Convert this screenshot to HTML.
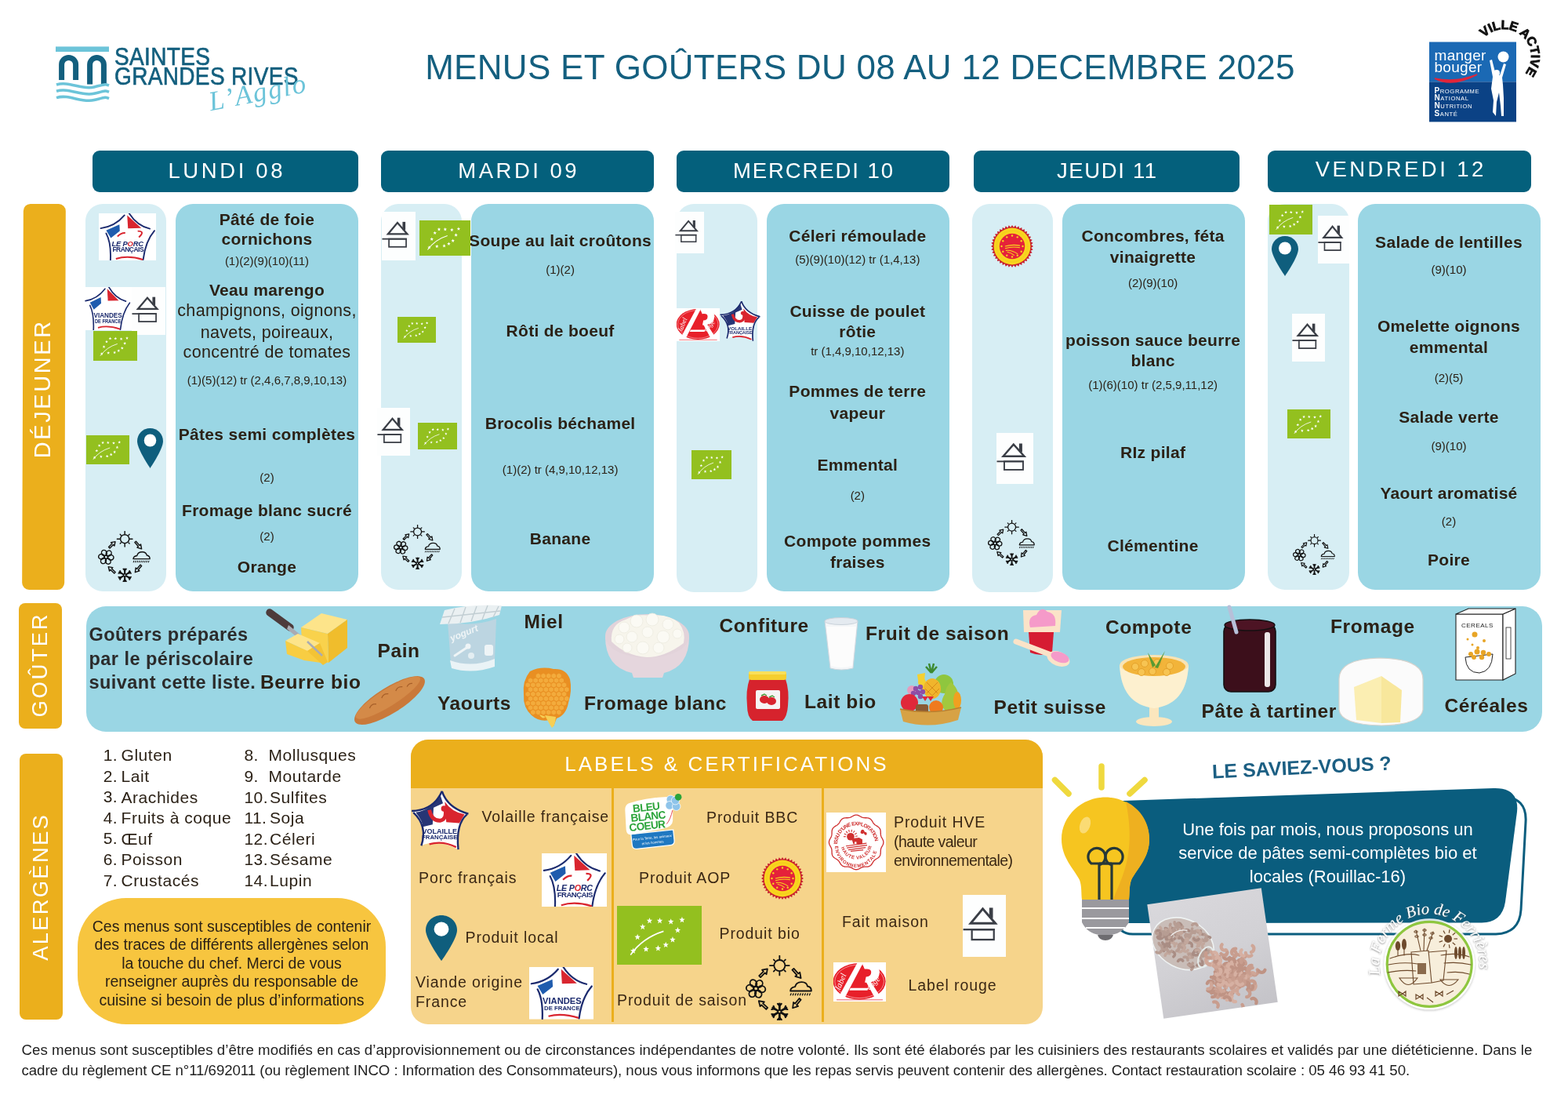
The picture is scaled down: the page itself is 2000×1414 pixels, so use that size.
<!DOCTYPE html><html><head><meta charset="utf-8"><title>Menus et goûters du 08 au 12 décembre 2025</title>
<style>
html,body{margin:0;padding:0;background:#fff;overflow:hidden;}
body{width:2000px;height:1414px;position:relative;overflow:hidden;font-family:'Liberation Sans', Arial, sans-serif;color:#2b2116;}
div{box-sizing:border-box;}
</style></head><body><div class="sheet" style="position:relative;width:2000px;height:1414px;overflow:hidden;">
<div style="position:absolute;left:497px;top:61px;width:1200px;height:50px;line-height:50px;white-space:nowrap;text-align:center;font-size:44px;color:#145f7f;letter-spacing:0.3px;">MENUS ET GOÛTERS DU 08 AU 12 DECEMBRE 2025</div>
<div style="position:absolute;left:118px;top:192px;width:339px;height:53px;background:#04607c;border-radius:9px;"></div>
<div style="position:absolute;left:-12.5px;top:199.3px;width:600px;height:38.5px;line-height:38.5px;text-align:center;white-space:nowrap;font-size:27.5px;font-weight:400;color:#fff;letter-spacing:3.63px;padding-left:3.63px;">LUNDI 08</div>
<div style="position:absolute;left:486px;top:192px;width:348px;height:53px;background:#04607c;border-radius:9px;"></div>
<div style="position:absolute;left:360.0px;top:199.3px;width:600px;height:38.5px;line-height:38.5px;text-align:center;white-space:nowrap;font-size:27.5px;font-weight:400;color:#fff;letter-spacing:3.5px;padding-left:3.5px;">MARDI 09</div>
<div style="position:absolute;left:863px;top:192px;width:348px;height:53px;background:#04607c;border-radius:9px;"></div>
<div style="position:absolute;left:737.0px;top:199.3px;width:600px;height:38.5px;line-height:38.5px;text-align:center;white-space:nowrap;font-size:27.5px;font-weight:400;color:#fff;letter-spacing:1.9px;padding-left:1.9px;">MERCREDI 10</div>
<div style="position:absolute;left:1242px;top:192px;width:339px;height:53px;background:#04607c;border-radius:9px;"></div>
<div style="position:absolute;left:1111.5px;top:199.3px;width:600px;height:38.5px;line-height:38.5px;text-align:center;white-space:nowrap;font-size:27.5px;font-weight:400;color:#fff;letter-spacing:1.65px;padding-left:1.65px;">JEUDI 11</div>
<div style="position:absolute;left:1617px;top:192px;width:336px;height:53px;background:#04607c;border-radius:9px;"></div>
<div style="position:absolute;left:1485.0px;top:196.9px;width:600px;height:38.5px;line-height:38.5px;text-align:center;white-space:nowrap;font-size:27.5px;font-weight:400;color:#fff;letter-spacing:3.43px;padding-left:3.43px;">VENDREDI 12</div>
<div style="position:absolute;left:29px;top:260px;width:54px;height:492px;background:#ebaf1c;border-radius:9px;transform:rotate(0.2deg);"></div>
<div style="position:absolute;left:54px;top:497px;width:0;height:0;"><div style="position:absolute;transform:translate(-50%,-50%) rotate(-90deg);white-space:nowrap;font-size:29px;color:#fff;letter-spacing:2.6px;padding-left:2.6px;">DÉJEUNER</div></div>
<div style="position:absolute;left:24px;top:769px;width:55px;height:160px;background:#ebaf1c;border-radius:8px;"></div>
<div style="position:absolute;left:51px;top:849px;width:0;height:0;"><div style="position:absolute;transform:translate(-50%,-50%) rotate(-90deg);white-space:nowrap;font-size:27.5px;color:#fff;letter-spacing:2.7px;padding-left:2.7px;">GOÛTER</div></div>
<div style="position:absolute;left:25px;top:961px;width:55px;height:339px;background:#ebaf1c;border-radius:8px;"></div>
<div style="position:absolute;left:52px;top:1132px;width:0;height:0;"><div style="position:absolute;transform:translate(-50%,-50%) rotate(-90deg);white-space:nowrap;font-size:27.5px;color:#fff;letter-spacing:2.2px;padding-left:2.2px;">ALERGÈNES</div></div>
<div style="position:absolute;left:109px;top:260px;width:103px;height:494px;background:#d7eef4;border-radius:22px;"></div>
<div style="position:absolute;left:486px;top:260px;width:103px;height:492px;background:#d7eef4;border-radius:22px;"></div>
<div style="position:absolute;left:863px;top:260px;width:103px;height:495px;background:#d7eef4;border-radius:22px;"></div>
<div style="position:absolute;left:1240px;top:260px;width:103px;height:495px;background:#d7eef4;border-radius:22px;"></div>
<div style="position:absolute;left:1617px;top:260px;width:104px;height:492px;background:#d7eef4;border-radius:22px;"></div>
<div style="position:absolute;left:224px;top:260px;width:233px;height:494px;background:#9ad6e4;border-radius:22px;"></div>
<div style="position:absolute;left:601px;top:260px;width:233px;height:494px;background:#9ad6e4;border-radius:22px;"></div>
<div style="position:absolute;left:978px;top:260px;width:233px;height:494px;background:#9ad6e4;border-radius:22px;"></div>
<div style="position:absolute;left:1355px;top:260px;width:233px;height:492px;background:#9ad6e4;border-radius:22px;"></div>
<div style="position:absolute;left:1732px;top:260px;width:233px;height:492px;background:#9ad6e4;border-radius:22px;"></div>
<div style="position:absolute;left:40.5px;top:264.9px;width:600px;height:29.4px;line-height:29.4px;text-align:center;white-space:nowrap;font-size:21px;font-weight:700;color:#2b2116;letter-spacing:0.3px;">Pâté de foie</div>
<div style="position:absolute;left:40.5px;top:290.1px;width:600px;height:29.4px;line-height:29.4px;text-align:center;white-space:nowrap;font-size:21px;font-weight:700;color:#2b2116;letter-spacing:0.3px;">cornichons</div>
<div style="position:absolute;left:40.5px;top:321.9px;width:600px;height:21.0px;line-height:21.0px;text-align:center;white-space:nowrap;font-size:15px;font-weight:400;color:#2b2116;letter-spacing:0px;">(1)(2)(9)(10)(11)</div>
<div style="position:absolute;left:40.5px;top:354.9px;width:600px;height:29.4px;line-height:29.4px;text-align:center;white-space:nowrap;font-size:21px;font-weight:700;color:#2b2116;letter-spacing:0.3px;">Veau marengo</div>
<div style="position:absolute;left:40.5px;top:380.9px;width:600px;height:30.1px;line-height:30.1px;text-align:center;white-space:nowrap;font-size:21.5px;font-weight:400;color:#2b2116;letter-spacing:0.35px;">champignons, oignons,</div>
<div style="position:absolute;left:40.5px;top:408.6px;width:600px;height:30.1px;line-height:30.1px;text-align:center;white-space:nowrap;font-size:21.5px;font-weight:400;color:#2b2116;letter-spacing:0.35px;">navets, poireaux,</div>
<div style="position:absolute;left:40.5px;top:433.8px;width:600px;height:30.1px;line-height:30.1px;text-align:center;white-space:nowrap;font-size:21.5px;font-weight:400;color:#2b2116;letter-spacing:0.35px;">concentré de tomates</div>
<div style="position:absolute;left:40.5px;top:474.3px;width:600px;height:21.0px;line-height:21.0px;text-align:center;white-space:nowrap;font-size:15px;font-weight:400;color:#2b2116;letter-spacing:0px;">(1)(5)(12) tr (2,4,6,7,8,9,10,13)</div>
<div style="position:absolute;left:40.5px;top:538.5px;width:600px;height:29.4px;line-height:29.4px;text-align:center;white-space:nowrap;font-size:21px;font-weight:700;color:#2b2116;letter-spacing:0.3px;">Pâtes semi complètes</div>
<div style="position:absolute;left:40.5px;top:597.9px;width:600px;height:21.0px;line-height:21.0px;text-align:center;white-space:nowrap;font-size:15px;font-weight:400;color:#2b2116;letter-spacing:0px;">(2)</div>
<div style="position:absolute;left:40.5px;top:636.2px;width:600px;height:29.4px;line-height:29.4px;text-align:center;white-space:nowrap;font-size:21px;font-weight:700;color:#2b2116;letter-spacing:0.3px;">Fromage blanc sucré</div>
<div style="position:absolute;left:40.5px;top:673.0px;width:600px;height:21.0px;line-height:21.0px;text-align:center;white-space:nowrap;font-size:15px;font-weight:400;color:#2b2116;letter-spacing:0px;">(2)</div>
<div style="position:absolute;left:40.5px;top:707.7px;width:600px;height:29.4px;line-height:29.4px;text-align:center;white-space:nowrap;font-size:21px;font-weight:700;color:#2b2116;letter-spacing:0.3px;">Orange</div>
<div style="position:absolute;left:414.6px;top:291.6px;width:600px;height:29.4px;line-height:29.4px;text-align:center;white-space:nowrap;font-size:21px;font-weight:700;color:#2b2116;letter-spacing:0.3px;">Soupe au lait croûtons</div>
<div style="position:absolute;left:414.6px;top:332.9px;width:600px;height:21.0px;line-height:21.0px;text-align:center;white-space:nowrap;font-size:15px;font-weight:400;color:#2b2116;letter-spacing:0px;">(1)(2)</div>
<div style="position:absolute;left:414.6px;top:407.3px;width:600px;height:29.4px;line-height:29.4px;text-align:center;white-space:nowrap;font-size:21px;font-weight:700;color:#2b2116;letter-spacing:0.3px;">Rôti de boeuf</div>
<div style="position:absolute;left:414.6px;top:525.0px;width:600px;height:29.4px;line-height:29.4px;text-align:center;white-space:nowrap;font-size:21px;font-weight:700;color:#2b2116;letter-spacing:0.3px;">Brocolis béchamel</div>
<div style="position:absolute;left:414.6px;top:588.3px;width:600px;height:21.0px;line-height:21.0px;text-align:center;white-space:nowrap;font-size:15px;font-weight:400;color:#2b2116;letter-spacing:0px;">(1)(2) tr (4,9,10,12,13)</div>
<div style="position:absolute;left:414.6px;top:671.8px;width:600px;height:29.4px;line-height:29.4px;text-align:center;white-space:nowrap;font-size:21px;font-weight:700;color:#2b2116;letter-spacing:0.3px;">Banane</div>
<div style="position:absolute;left:793.8px;top:285.6px;width:600px;height:29.4px;line-height:29.4px;text-align:center;white-space:nowrap;font-size:21px;font-weight:700;color:#2b2116;letter-spacing:0.3px;">Céleri rémoulade</div>
<div style="position:absolute;left:793.8px;top:319.8px;width:600px;height:21.0px;line-height:21.0px;text-align:center;white-space:nowrap;font-size:15px;font-weight:400;color:#2b2116;letter-spacing:0px;">(5)(9)(10)(12) tr (1,4,13)</div>
<div style="position:absolute;left:793.8px;top:381.8px;width:600px;height:29.4px;line-height:29.4px;text-align:center;white-space:nowrap;font-size:21px;font-weight:700;color:#2b2116;letter-spacing:0.3px;">Cuisse de poulet</div>
<div style="position:absolute;left:793.8px;top:408.3px;width:600px;height:29.4px;line-height:29.4px;text-align:center;white-space:nowrap;font-size:21px;font-weight:700;color:#2b2116;letter-spacing:0.3px;">rôtie</div>
<div style="position:absolute;left:793.8px;top:437.3px;width:600px;height:21.0px;line-height:21.0px;text-align:center;white-space:nowrap;font-size:15px;font-weight:400;color:#2b2116;letter-spacing:0px;">tr (1,4,9,10,12,13)</div>
<div style="position:absolute;left:793.8px;top:484.3px;width:600px;height:29.4px;line-height:29.4px;text-align:center;white-space:nowrap;font-size:21px;font-weight:700;color:#2b2116;letter-spacing:0.3px;">Pommes de terre</div>
<div style="position:absolute;left:793.8px;top:511.9px;width:600px;height:29.4px;line-height:29.4px;text-align:center;white-space:nowrap;font-size:21px;font-weight:700;color:#2b2116;letter-spacing:0.3px;">vapeur</div>
<div style="position:absolute;left:793.8px;top:578.1px;width:600px;height:29.4px;line-height:29.4px;text-align:center;white-space:nowrap;font-size:21px;font-weight:700;color:#2b2116;letter-spacing:0.3px;">Emmental</div>
<div style="position:absolute;left:793.8px;top:621.2px;width:600px;height:21.0px;line-height:21.0px;text-align:center;white-space:nowrap;font-size:15px;font-weight:400;color:#2b2116;letter-spacing:0px;">(2)</div>
<div style="position:absolute;left:793.8px;top:674.6px;width:600px;height:29.4px;line-height:29.4px;text-align:center;white-space:nowrap;font-size:21px;font-weight:700;color:#2b2116;letter-spacing:0.3px;">Compote pommes</div>
<div style="position:absolute;left:793.8px;top:701.9px;width:600px;height:29.4px;line-height:29.4px;text-align:center;white-space:nowrap;font-size:21px;font-weight:700;color:#2b2116;letter-spacing:0.3px;">fraises</div>
<div style="position:absolute;left:1170.6px;top:285.6px;width:600px;height:29.4px;line-height:29.4px;text-align:center;white-space:nowrap;font-size:21px;font-weight:700;color:#2b2116;letter-spacing:0.3px;">Concombres, féta</div>
<div style="position:absolute;left:1170.6px;top:312.8px;width:600px;height:29.4px;line-height:29.4px;text-align:center;white-space:nowrap;font-size:21px;font-weight:700;color:#2b2116;letter-spacing:0.3px;">vinaigrette</div>
<div style="position:absolute;left:1170.6px;top:349.9px;width:600px;height:21.0px;line-height:21.0px;text-align:center;white-space:nowrap;font-size:15px;font-weight:400;color:#2b2116;letter-spacing:0px;">(2)(9)(10)</div>
<div style="position:absolute;left:1170.6px;top:418.9px;width:600px;height:29.4px;line-height:29.4px;text-align:center;white-space:nowrap;font-size:21px;font-weight:700;color:#2b2116;letter-spacing:0.3px;">poisson sauce beurre</div>
<div style="position:absolute;left:1170.6px;top:445.4px;width:600px;height:29.4px;line-height:29.4px;text-align:center;white-space:nowrap;font-size:21px;font-weight:700;color:#2b2116;letter-spacing:0.3px;">blanc</div>
<div style="position:absolute;left:1170.6px;top:479.7px;width:600px;height:21.0px;line-height:21.0px;text-align:center;white-space:nowrap;font-size:15px;font-weight:400;color:#2b2116;letter-spacing:0px;">(1)(6)(10) tr (2,5,9,11,12)</div>
<div style="position:absolute;left:1170.6px;top:562.2px;width:600px;height:29.4px;line-height:29.4px;text-align:center;white-space:nowrap;font-size:21px;font-weight:700;color:#2b2116;letter-spacing:0.3px;">RIz pilaf</div>
<div style="position:absolute;left:1170.6px;top:680.7px;width:600px;height:29.4px;line-height:29.4px;text-align:center;white-space:nowrap;font-size:21px;font-weight:700;color:#2b2116;letter-spacing:0.3px;">Clémentine</div>
<div style="position:absolute;left:1548.0px;top:294.1px;width:600px;height:29.4px;line-height:29.4px;text-align:center;white-space:nowrap;font-size:21px;font-weight:700;color:#2b2116;letter-spacing:0.3px;">Salade de lentilles</div>
<div style="position:absolute;left:1548.0px;top:332.9px;width:600px;height:21.0px;line-height:21.0px;text-align:center;white-space:nowrap;font-size:15px;font-weight:400;color:#2b2116;letter-spacing:0px;">(9)(10)</div>
<div style="position:absolute;left:1548.0px;top:401.2px;width:600px;height:29.4px;line-height:29.4px;text-align:center;white-space:nowrap;font-size:21px;font-weight:700;color:#2b2116;letter-spacing:0.3px;">Omelette oignons</div>
<div style="position:absolute;left:1548.0px;top:427.8px;width:600px;height:29.4px;line-height:29.4px;text-align:center;white-space:nowrap;font-size:21px;font-weight:700;color:#2b2116;letter-spacing:0.3px;">emmental</div>
<div style="position:absolute;left:1548.0px;top:470.9px;width:600px;height:21.0px;line-height:21.0px;text-align:center;white-space:nowrap;font-size:15px;font-weight:400;color:#2b2116;letter-spacing:0px;">(2)(5)</div>
<div style="position:absolute;left:1548.0px;top:517.3px;width:600px;height:29.4px;line-height:29.4px;text-align:center;white-space:nowrap;font-size:21px;font-weight:700;color:#2b2116;letter-spacing:0.3px;">Salade verte</div>
<div style="position:absolute;left:1548.0px;top:557.5px;width:600px;height:21.0px;line-height:21.0px;text-align:center;white-space:nowrap;font-size:15px;font-weight:400;color:#2b2116;letter-spacing:0px;">(9)(10)</div>
<div style="position:absolute;left:1548.0px;top:614.2px;width:600px;height:29.4px;line-height:29.4px;text-align:center;white-space:nowrap;font-size:21px;font-weight:700;color:#2b2116;letter-spacing:0.3px;">Yaourt aromatisé</div>
<div style="position:absolute;left:1548.0px;top:654.1px;width:600px;height:21.0px;line-height:21.0px;text-align:center;white-space:nowrap;font-size:15px;font-weight:400;color:#2b2116;letter-spacing:0px;">(2)</div>
<div style="position:absolute;left:1548.0px;top:699.4px;width:600px;height:29.4px;line-height:29.4px;text-align:center;white-space:nowrap;font-size:21px;font-weight:700;color:#2b2116;letter-spacing:0.3px;">Poire</div>
<svg style="position:absolute;left:126px;top:271.5px" width="73" height="60" viewBox="100 100 1470 1220" preserveAspectRatio="none"><rect x="100" y="100" width="1470" height="1220" fill="#fff"/><g fill="none" stroke="#1b2a6e" stroke-width="38" stroke-linecap="round"><path d="M150 490 Q520 440 760 150"/><path d="M880 100 Q1080 420 1410 500"/><path d="M1530 550 Q1300 820 1240 1300"/><path d="M290 620 Q420 860 400 1310"/></g><path d="M290 540 L630 390 L640 560 L410 740 Z" fill="#1f5cae"/><path d="M830 150 L1190 480 L850 490 Z" fill="#d9252f"/><path d="M580 700 Q680 600 780 610 M1100 560 Q1300 560 1130 720" stroke="#d9252f" stroke-width="40" fill="none"/><text x="840" y="950" text-anchor="middle" font-family="Liberation Sans" font-weight="700" font-style="italic" font-size="190" fill="#1b2a6e" letter-spacing="-4">LE P<tspan fill="#d9252f">O</tspan>RC</text><text x="850" y="1090" text-anchor="middle" font-family="Liberation Sans" font-weight="700" font-size="170" fill="#1b2a6e" letter-spacing="-10">FRANÇAIS</text><path d="M540 1280 Q850 1180 1230 1300" stroke="#d9252f" stroke-width="40" fill="none"/></svg>
<div style="position:absolute;left:107px;top:366px;width:104px;height:55px;background:#fff;"></div>
<svg style="position:absolute;left:107px;top:366px" width="60" height="55" viewBox="100 100 1470 1220" preserveAspectRatio="none"><rect x="100" y="100" width="1470" height="1220" fill="#fff"/><g fill="none" stroke="#1b2a6e" stroke-width="40" stroke-linecap="round"><path d="M150 490 Q520 440 760 150"/><path d="M880 100 Q1080 420 1410 500"/><path d="M1530 550 Q1300 820 1240 1300"/><path d="M290 620 Q420 860 400 1310"/></g><path d="M290 540 L630 390 L640 560 L410 740 Z" fill="#1f5cae"/><path d="M830 150 L1190 480 L850 490 Z" fill="#d9252f"/><text x="850" y="960" text-anchor="middle" font-family="Liberation Sans" font-weight="700" font-size="200" fill="#1b2a6e">VIANDES</text><text x="850" y="1110" text-anchor="middle" font-family="Liberation Sans" font-weight="700" font-size="140" fill="#1b2a6e">DE FRANCE</text><path d="M540 1250 Q850 1170 1230 1290" stroke="#d9252f" stroke-width="40" fill="none"/></svg>
<svg style="position:absolute;left:168px;top:366px" width="43" height="61" viewBox="0 0 47 65" preserveAspectRatio="none"><rect width="47" height="65" fill="#fdfefe"/><path d="M21.8 14.6 L8.6 29.8 L35.5 29.8 Z" fill="none" stroke="#3a3e46" stroke-width="2.4" stroke-linejoin="miter"/><rect x="28.9" y="13.5" width="4" height="11" fill="#3a3e46"/><rect x="0.5" y="35.4" width="34.4" height="1.9" fill="#3a3e46"/><rect x="9.95" y="36.35" width="24" height="10.6" fill="none" stroke="#3a3e46" stroke-width="1.9"/></svg>
<svg style="position:absolute;left:119px;top:422px" width="56" height="38" viewBox="0 0 100 66" preserveAspectRatio="none"><rect width="100" height="66" fill="#93c01f"/><polygon points="38.40,13.20 39.29,15.58 41.82,15.69 39.84,17.27 40.52,19.71 38.40,18.31 36.28,19.71 36.96,17.27 34.98,15.69 37.51,15.58" fill="#fff"/><polygon points="50.50,13.20 51.39,15.58 53.92,15.69 51.94,17.27 52.62,19.71 50.50,18.31 48.38,19.71 49.06,17.27 47.08,15.69 49.61,15.58" fill="#fff"/><polygon points="63.60,14.20 64.49,16.58 67.02,16.69 65.04,18.27 65.72,20.71 63.60,19.31 61.48,20.71 62.16,18.27 60.18,16.69 62.71,16.58" fill="#fff"/><polygon points="76.80,12.20 77.69,14.58 80.22,14.69 78.24,16.27 78.92,18.71 76.80,17.31 74.68,18.71 75.36,16.27 73.38,14.69 75.91,14.58" fill="#fff"/><polygon points="71.70,23.80 72.59,26.18 75.12,26.29 73.14,27.87 73.82,30.31 71.70,28.91 69.58,30.31 70.26,27.87 68.28,26.29 70.81,26.18" fill="#fff"/><polygon points="65.70,34.40 66.59,36.78 69.12,36.89 67.14,38.47 67.82,40.91 65.70,39.51 63.58,40.91 64.26,38.47 62.28,36.89 64.81,36.78" fill="#fff"/><polygon points="57.60,40.20 58.49,42.58 61.02,42.69 59.04,44.27 59.72,46.71 57.60,45.31 55.48,46.71 56.16,44.27 54.18,42.69 56.71,42.58" fill="#fff"/><polygon points="48.50,44.10 49.39,46.48 51.92,46.59 49.94,48.17 50.62,50.61 48.50,49.21 46.38,50.61 47.06,48.17 45.08,46.59 47.61,46.48" fill="#fff"/><polygon points="34.30,45.00 35.19,47.38 37.72,47.49 35.74,49.07 36.42,51.51 34.30,50.11 32.18,51.51 32.86,49.07 30.88,47.49 33.41,47.38" fill="#fff"/><polygon points="19.20,47.00 20.09,49.38 22.62,49.49 20.64,51.07 21.32,53.51 19.20,52.11 17.08,53.51 17.76,51.07 15.78,49.49 18.31,49.38" fill="#fff"/><polygon points="24.20,31.50 25.09,33.88 27.62,33.99 25.64,35.57 26.32,38.01 24.20,36.61 22.08,38.01 22.76,35.57 20.78,33.99 23.31,33.88" fill="#fff"/><polygon points="30.30,20.00 31.19,22.38 33.72,22.49 31.74,24.07 32.42,26.51 30.30,25.11 28.18,26.51 28.86,24.07 26.88,22.49 29.41,22.38" fill="#fff"/><path d="M16 55 Q30 36 55 28.5" stroke="#fff" stroke-width="1.5" fill="none"/></svg>
<svg style="position:absolute;left:110px;top:555px" width="55" height="37" viewBox="0 0 100 66" preserveAspectRatio="none"><rect width="100" height="66" fill="#93c01f"/><polygon points="38.40,13.20 39.29,15.58 41.82,15.69 39.84,17.27 40.52,19.71 38.40,18.31 36.28,19.71 36.96,17.27 34.98,15.69 37.51,15.58" fill="#fff"/><polygon points="50.50,13.20 51.39,15.58 53.92,15.69 51.94,17.27 52.62,19.71 50.50,18.31 48.38,19.71 49.06,17.27 47.08,15.69 49.61,15.58" fill="#fff"/><polygon points="63.60,14.20 64.49,16.58 67.02,16.69 65.04,18.27 65.72,20.71 63.60,19.31 61.48,20.71 62.16,18.27 60.18,16.69 62.71,16.58" fill="#fff"/><polygon points="76.80,12.20 77.69,14.58 80.22,14.69 78.24,16.27 78.92,18.71 76.80,17.31 74.68,18.71 75.36,16.27 73.38,14.69 75.91,14.58" fill="#fff"/><polygon points="71.70,23.80 72.59,26.18 75.12,26.29 73.14,27.87 73.82,30.31 71.70,28.91 69.58,30.31 70.26,27.87 68.28,26.29 70.81,26.18" fill="#fff"/><polygon points="65.70,34.40 66.59,36.78 69.12,36.89 67.14,38.47 67.82,40.91 65.70,39.51 63.58,40.91 64.26,38.47 62.28,36.89 64.81,36.78" fill="#fff"/><polygon points="57.60,40.20 58.49,42.58 61.02,42.69 59.04,44.27 59.72,46.71 57.60,45.31 55.48,46.71 56.16,44.27 54.18,42.69 56.71,42.58" fill="#fff"/><polygon points="48.50,44.10 49.39,46.48 51.92,46.59 49.94,48.17 50.62,50.61 48.50,49.21 46.38,50.61 47.06,48.17 45.08,46.59 47.61,46.48" fill="#fff"/><polygon points="34.30,45.00 35.19,47.38 37.72,47.49 35.74,49.07 36.42,51.51 34.30,50.11 32.18,51.51 32.86,49.07 30.88,47.49 33.41,47.38" fill="#fff"/><polygon points="19.20,47.00 20.09,49.38 22.62,49.49 20.64,51.07 21.32,53.51 19.20,52.11 17.08,53.51 17.76,51.07 15.78,49.49 18.31,49.38" fill="#fff"/><polygon points="24.20,31.50 25.09,33.88 27.62,33.99 25.64,35.57 26.32,38.01 24.20,36.61 22.08,38.01 22.76,35.57 20.78,33.99 23.31,33.88" fill="#fff"/><polygon points="30.30,20.00 31.19,22.38 33.72,22.49 31.74,24.07 32.42,26.51 30.30,25.11 28.18,26.51 28.86,24.07 26.88,22.49 29.41,22.38" fill="#fff"/><path d="M16 55 Q30 36 55 28.5" stroke="#fff" stroke-width="1.5" fill="none"/></svg>
<svg style="position:absolute;left:175px;top:546px" width="33" height="51" viewBox="0 0 34 51" preserveAspectRatio="none"><path d="M17 0 C7.6 0 0 7.4 0 16.6 C0 27 17 51 17 51 C17 51 34 27 34 16.6 C34 7.4 26.4 0 17 0 Z" fill="#0f5e7d"/><circle cx="17" cy="15.5" r="8" fill="#fff"/></svg>
<svg style="position:absolute;left:125px;top:677px" width="67" height="65" viewBox="100 90 1265 1240" preserveAspectRatio="none"><g fill="none" stroke="#111" stroke-width="27" stroke-linecap="round" stroke-linejoin="round"><circle cx="745" cy="285" r="105"/><path d="M745 100 V168 M745 402 V470 M560 285 H628 M862 285 H930"/><path d="M836 376 L857 397"/><path d="M654 376 L633 397"/><path d="M654 194 L633 173"/><path d="M836 194 L857 173"/><path transform="translate(370 495) rotate(-45.0)" d="M0 -20 L119 -20 L119 -58 L205 0 L119 58 L119 20 L0 20 Z"/><path transform="translate(1000 355) rotate(48.6)" d="M0 -20 L131 -20 L131 -58 L227 0 L131 58 L131 20 L0 20 Z"/><path transform="translate(1135 925) rotate(129.5)" d="M0 -20 L128 -20 L128 -58 L220 0 L128 58 L128 20 L0 20 Z"/><path transform="translate(505 1105) rotate(-136.9)" d="M0 -20 L123 -20 L123 -58 L212 0 L123 58 L123 20 L0 20 Z"/><ellipse cx="405" cy="735" rx="72" ry="62" transform="rotate(5 405 735)"/><ellipse cx="341" cy="825" rx="72" ry="62" transform="rotate(65 341 825)"/><ellipse cx="232" cy="815" rx="72" ry="62" transform="rotate(125 232 815)"/><ellipse cx="185" cy="715" rx="72" ry="62" transform="rotate(185 185 715)"/><ellipse cx="249" cy="625" rx="72" ry="62" transform="rotate(245 249 625)"/><ellipse cx="358" cy="635" rx="72" ry="62" transform="rotate(305 358 635)"/><circle cx="295" cy="725" r="45"/><path d="M950 770 Q955 700 1040 690 Q1060 600 1165 600 Q1260 600 1275 680 Q1350 690 1348 770 Z"/><path d="M965 820 l-12 30 M1010 820 l-12 30 M1055 820 l-12 30 M1100 820 l-12 30 M1145 820 l-12 30 M1190 820 l-12 30 M1235 820 l-12 30 M1280 820 l-12 30 M1325 820 l-12 30" stroke-width="20"/></g><g fill="none" stroke="#111" stroke-width="40" stroke-linecap="round"><path d="M745 1203 L745 1315"/><path d="M745 1275 L780 1317" stroke-width="32"/><path d="M745 1275 L710 1317" stroke-width="32"/><path d="M712 1184 L615 1240"/><path d="M650 1220 L631 1272" stroke-width="32"/><path d="M650 1220 L596 1210" stroke-width="32"/><path d="M712 1146 L615 1090"/><path d="M650 1110 L596 1120" stroke-width="32"/><path d="M650 1110 L631 1058" stroke-width="32"/><path d="M745 1127 L745 1015"/><path d="M745 1055 L710 1013" stroke-width="32"/><path d="M745 1055 L780 1013" stroke-width="32"/><path d="M778 1146 L875 1090"/><path d="M840 1110 L859 1058" stroke-width="32"/><path d="M840 1110 L894 1120" stroke-width="32"/><path d="M778 1184 L875 1240"/><path d="M840 1220 L894 1210" stroke-width="32"/><path d="M840 1220 L859 1272" stroke-width="32"/><circle cx="745" cy="1165" r="30" stroke-width="20"/></g></svg>
<svg style="position:absolute;left:487px;top:270px" width="43" height="62" viewBox="0 0 47 65" preserveAspectRatio="none"><rect width="47" height="65" fill="#fdfefe"/><path d="M21.8 14.6 L8.6 29.8 L35.5 29.8 Z" fill="none" stroke="#3a3e46" stroke-width="2.4" stroke-linejoin="miter"/><rect x="28.9" y="13.5" width="4" height="11" fill="#3a3e46"/><rect x="0.5" y="35.4" width="34.4" height="1.9" fill="#3a3e46"/><rect x="9.95" y="36.35" width="24" height="10.6" fill="none" stroke="#3a3e46" stroke-width="1.9"/></svg>
<svg style="position:absolute;left:535px;top:281px" width="65" height="45" viewBox="0 0 100 66" preserveAspectRatio="none"><rect width="100" height="66" fill="#93c01f"/><polygon points="38.40,13.20 39.29,15.58 41.82,15.69 39.84,17.27 40.52,19.71 38.40,18.31 36.28,19.71 36.96,17.27 34.98,15.69 37.51,15.58" fill="#fff"/><polygon points="50.50,13.20 51.39,15.58 53.92,15.69 51.94,17.27 52.62,19.71 50.50,18.31 48.38,19.71 49.06,17.27 47.08,15.69 49.61,15.58" fill="#fff"/><polygon points="63.60,14.20 64.49,16.58 67.02,16.69 65.04,18.27 65.72,20.71 63.60,19.31 61.48,20.71 62.16,18.27 60.18,16.69 62.71,16.58" fill="#fff"/><polygon points="76.80,12.20 77.69,14.58 80.22,14.69 78.24,16.27 78.92,18.71 76.80,17.31 74.68,18.71 75.36,16.27 73.38,14.69 75.91,14.58" fill="#fff"/><polygon points="71.70,23.80 72.59,26.18 75.12,26.29 73.14,27.87 73.82,30.31 71.70,28.91 69.58,30.31 70.26,27.87 68.28,26.29 70.81,26.18" fill="#fff"/><polygon points="65.70,34.40 66.59,36.78 69.12,36.89 67.14,38.47 67.82,40.91 65.70,39.51 63.58,40.91 64.26,38.47 62.28,36.89 64.81,36.78" fill="#fff"/><polygon points="57.60,40.20 58.49,42.58 61.02,42.69 59.04,44.27 59.72,46.71 57.60,45.31 55.48,46.71 56.16,44.27 54.18,42.69 56.71,42.58" fill="#fff"/><polygon points="48.50,44.10 49.39,46.48 51.92,46.59 49.94,48.17 50.62,50.61 48.50,49.21 46.38,50.61 47.06,48.17 45.08,46.59 47.61,46.48" fill="#fff"/><polygon points="34.30,45.00 35.19,47.38 37.72,47.49 35.74,49.07 36.42,51.51 34.30,50.11 32.18,51.51 32.86,49.07 30.88,47.49 33.41,47.38" fill="#fff"/><polygon points="19.20,47.00 20.09,49.38 22.62,49.49 20.64,51.07 21.32,53.51 19.20,52.11 17.08,53.51 17.76,51.07 15.78,49.49 18.31,49.38" fill="#fff"/><polygon points="24.20,31.50 25.09,33.88 27.62,33.99 25.64,35.57 26.32,38.01 24.20,36.61 22.08,38.01 22.76,35.57 20.78,33.99 23.31,33.88" fill="#fff"/><polygon points="30.30,20.00 31.19,22.38 33.72,22.49 31.74,24.07 32.42,26.51 30.30,25.11 28.18,26.51 28.86,24.07 26.88,22.49 29.41,22.38" fill="#fff"/><path d="M16 55 Q30 36 55 28.5" stroke="#fff" stroke-width="1.5" fill="none"/></svg>
<svg style="position:absolute;left:507px;top:404px" width="49" height="33" viewBox="0 0 100 66" preserveAspectRatio="none"><rect width="100" height="66" fill="#93c01f"/><polygon points="38.40,13.20 39.29,15.58 41.82,15.69 39.84,17.27 40.52,19.71 38.40,18.31 36.28,19.71 36.96,17.27 34.98,15.69 37.51,15.58" fill="#fff"/><polygon points="50.50,13.20 51.39,15.58 53.92,15.69 51.94,17.27 52.62,19.71 50.50,18.31 48.38,19.71 49.06,17.27 47.08,15.69 49.61,15.58" fill="#fff"/><polygon points="63.60,14.20 64.49,16.58 67.02,16.69 65.04,18.27 65.72,20.71 63.60,19.31 61.48,20.71 62.16,18.27 60.18,16.69 62.71,16.58" fill="#fff"/><polygon points="76.80,12.20 77.69,14.58 80.22,14.69 78.24,16.27 78.92,18.71 76.80,17.31 74.68,18.71 75.36,16.27 73.38,14.69 75.91,14.58" fill="#fff"/><polygon points="71.70,23.80 72.59,26.18 75.12,26.29 73.14,27.87 73.82,30.31 71.70,28.91 69.58,30.31 70.26,27.87 68.28,26.29 70.81,26.18" fill="#fff"/><polygon points="65.70,34.40 66.59,36.78 69.12,36.89 67.14,38.47 67.82,40.91 65.70,39.51 63.58,40.91 64.26,38.47 62.28,36.89 64.81,36.78" fill="#fff"/><polygon points="57.60,40.20 58.49,42.58 61.02,42.69 59.04,44.27 59.72,46.71 57.60,45.31 55.48,46.71 56.16,44.27 54.18,42.69 56.71,42.58" fill="#fff"/><polygon points="48.50,44.10 49.39,46.48 51.92,46.59 49.94,48.17 50.62,50.61 48.50,49.21 46.38,50.61 47.06,48.17 45.08,46.59 47.61,46.48" fill="#fff"/><polygon points="34.30,45.00 35.19,47.38 37.72,47.49 35.74,49.07 36.42,51.51 34.30,50.11 32.18,51.51 32.86,49.07 30.88,47.49 33.41,47.38" fill="#fff"/><polygon points="19.20,47.00 20.09,49.38 22.62,49.49 20.64,51.07 21.32,53.51 19.20,52.11 17.08,53.51 17.76,51.07 15.78,49.49 18.31,49.38" fill="#fff"/><polygon points="24.20,31.50 25.09,33.88 27.62,33.99 25.64,35.57 26.32,38.01 24.20,36.61 22.08,38.01 22.76,35.57 20.78,33.99 23.31,33.88" fill="#fff"/><polygon points="30.30,20.00 31.19,22.38 33.72,22.49 31.74,24.07 32.42,26.51 30.30,25.11 28.18,26.51 28.86,24.07 26.88,22.49 29.41,22.38" fill="#fff"/><path d="M16 55 Q30 36 55 28.5" stroke="#fff" stroke-width="1.5" fill="none"/></svg>
<svg style="position:absolute;left:481px;top:520px" width="42" height="61" viewBox="0 0 47 65" preserveAspectRatio="none"><rect width="47" height="65" fill="#fdfefe"/><path d="M21.8 14.6 L8.6 29.8 L35.5 29.8 Z" fill="none" stroke="#3a3e46" stroke-width="2.4" stroke-linejoin="miter"/><rect x="28.9" y="13.5" width="4" height="11" fill="#3a3e46"/><rect x="0.5" y="35.4" width="34.4" height="1.9" fill="#3a3e46"/><rect x="9.95" y="36.35" width="24" height="10.6" fill="none" stroke="#3a3e46" stroke-width="1.9"/></svg>
<svg style="position:absolute;left:533px;top:539px" width="50" height="34" viewBox="0 0 100 66" preserveAspectRatio="none"><rect width="100" height="66" fill="#93c01f"/><polygon points="38.40,13.20 39.29,15.58 41.82,15.69 39.84,17.27 40.52,19.71 38.40,18.31 36.28,19.71 36.96,17.27 34.98,15.69 37.51,15.58" fill="#fff"/><polygon points="50.50,13.20 51.39,15.58 53.92,15.69 51.94,17.27 52.62,19.71 50.50,18.31 48.38,19.71 49.06,17.27 47.08,15.69 49.61,15.58" fill="#fff"/><polygon points="63.60,14.20 64.49,16.58 67.02,16.69 65.04,18.27 65.72,20.71 63.60,19.31 61.48,20.71 62.16,18.27 60.18,16.69 62.71,16.58" fill="#fff"/><polygon points="76.80,12.20 77.69,14.58 80.22,14.69 78.24,16.27 78.92,18.71 76.80,17.31 74.68,18.71 75.36,16.27 73.38,14.69 75.91,14.58" fill="#fff"/><polygon points="71.70,23.80 72.59,26.18 75.12,26.29 73.14,27.87 73.82,30.31 71.70,28.91 69.58,30.31 70.26,27.87 68.28,26.29 70.81,26.18" fill="#fff"/><polygon points="65.70,34.40 66.59,36.78 69.12,36.89 67.14,38.47 67.82,40.91 65.70,39.51 63.58,40.91 64.26,38.47 62.28,36.89 64.81,36.78" fill="#fff"/><polygon points="57.60,40.20 58.49,42.58 61.02,42.69 59.04,44.27 59.72,46.71 57.60,45.31 55.48,46.71 56.16,44.27 54.18,42.69 56.71,42.58" fill="#fff"/><polygon points="48.50,44.10 49.39,46.48 51.92,46.59 49.94,48.17 50.62,50.61 48.50,49.21 46.38,50.61 47.06,48.17 45.08,46.59 47.61,46.48" fill="#fff"/><polygon points="34.30,45.00 35.19,47.38 37.72,47.49 35.74,49.07 36.42,51.51 34.30,50.11 32.18,51.51 32.86,49.07 30.88,47.49 33.41,47.38" fill="#fff"/><polygon points="19.20,47.00 20.09,49.38 22.62,49.49 20.64,51.07 21.32,53.51 19.20,52.11 17.08,53.51 17.76,51.07 15.78,49.49 18.31,49.38" fill="#fff"/><polygon points="24.20,31.50 25.09,33.88 27.62,33.99 25.64,35.57 26.32,38.01 24.20,36.61 22.08,38.01 22.76,35.57 20.78,33.99 23.31,33.88" fill="#fff"/><polygon points="30.30,20.00 31.19,22.38 33.72,22.49 31.74,24.07 32.42,26.51 30.30,25.11 28.18,26.51 28.86,24.07 26.88,22.49 29.41,22.38" fill="#fff"/><path d="M16 55 Q30 36 55 28.5" stroke="#fff" stroke-width="1.5" fill="none"/></svg>
<svg style="position:absolute;left:502px;top:669px" width="60" height="57" viewBox="100 90 1265 1240" preserveAspectRatio="none"><g fill="none" stroke="#111" stroke-width="27" stroke-linecap="round" stroke-linejoin="round"><circle cx="745" cy="285" r="105"/><path d="M745 100 V168 M745 402 V470 M560 285 H628 M862 285 H930"/><path d="M836 376 L857 397"/><path d="M654 376 L633 397"/><path d="M654 194 L633 173"/><path d="M836 194 L857 173"/><path transform="translate(370 495) rotate(-45.0)" d="M0 -20 L119 -20 L119 -58 L205 0 L119 58 L119 20 L0 20 Z"/><path transform="translate(1000 355) rotate(48.6)" d="M0 -20 L131 -20 L131 -58 L227 0 L131 58 L131 20 L0 20 Z"/><path transform="translate(1135 925) rotate(129.5)" d="M0 -20 L128 -20 L128 -58 L220 0 L128 58 L128 20 L0 20 Z"/><path transform="translate(505 1105) rotate(-136.9)" d="M0 -20 L123 -20 L123 -58 L212 0 L123 58 L123 20 L0 20 Z"/><ellipse cx="405" cy="735" rx="72" ry="62" transform="rotate(5 405 735)"/><ellipse cx="341" cy="825" rx="72" ry="62" transform="rotate(65 341 825)"/><ellipse cx="232" cy="815" rx="72" ry="62" transform="rotate(125 232 815)"/><ellipse cx="185" cy="715" rx="72" ry="62" transform="rotate(185 185 715)"/><ellipse cx="249" cy="625" rx="72" ry="62" transform="rotate(245 249 625)"/><ellipse cx="358" cy="635" rx="72" ry="62" transform="rotate(305 358 635)"/><circle cx="295" cy="725" r="45"/><path d="M950 770 Q955 700 1040 690 Q1060 600 1165 600 Q1260 600 1275 680 Q1350 690 1348 770 Z"/><path d="M965 820 l-12 30 M1010 820 l-12 30 M1055 820 l-12 30 M1100 820 l-12 30 M1145 820 l-12 30 M1190 820 l-12 30 M1235 820 l-12 30 M1280 820 l-12 30 M1325 820 l-12 30" stroke-width="20"/></g><g fill="none" stroke="#111" stroke-width="40" stroke-linecap="round"><path d="M745 1203 L745 1315"/><path d="M745 1275 L780 1317" stroke-width="32"/><path d="M745 1275 L710 1317" stroke-width="32"/><path d="M712 1184 L615 1240"/><path d="M650 1220 L631 1272" stroke-width="32"/><path d="M650 1220 L596 1210" stroke-width="32"/><path d="M712 1146 L615 1090"/><path d="M650 1110 L596 1120" stroke-width="32"/><path d="M650 1110 L631 1058" stroke-width="32"/><path d="M745 1127 L745 1015"/><path d="M745 1055 L710 1013" stroke-width="32"/><path d="M745 1055 L780 1013" stroke-width="32"/><path d="M778 1146 L875 1090"/><path d="M840 1110 L859 1058" stroke-width="32"/><path d="M840 1110 L894 1120" stroke-width="32"/><path d="M778 1184 L875 1240"/><path d="M840 1220 L894 1210" stroke-width="32"/><path d="M840 1220 L859 1272" stroke-width="32"/><circle cx="745" cy="1165" r="30" stroke-width="20"/></g></svg>
<svg style="position:absolute;left:861px;top:270px" width="37" height="53" viewBox="0 0 47 65" preserveAspectRatio="none"><rect width="47" height="65" fill="#fdfefe"/><path d="M21.8 14.6 L8.6 29.8 L35.5 29.8 Z" fill="none" stroke="#3a3e46" stroke-width="2.4" stroke-linejoin="miter"/><rect x="28.9" y="13.5" width="4" height="11" fill="#3a3e46"/><rect x="0.5" y="35.4" width="34.4" height="1.9" fill="#3a3e46"/><rect x="9.95" y="36.35" width="24" height="10.6" fill="none" stroke="#3a3e46" stroke-width="1.9"/></svg>
<svg style="position:absolute;left:863px;top:393px" width="55" height="42" viewBox="135 300 910 700" preserveAspectRatio="none"><rect x="135" y="300" width="910" height="700" fill="#fff"/><ellipse cx="585" cy="640" rx="455" ry="325" fill="#e8202a"/><ellipse cx="585" cy="640" rx="425" ry="298" fill="none" stroke="#fff" stroke-width="7"/><text x="250" y="800" font-family="Liberation Serif" font-style="italic" font-size="150" fill="#fff" transform="rotate(-68 250 800)">label</text><text x="760" y="800" font-family="Liberation Serif" font-style="italic" font-size="140" fill="#fff" transform="rotate(-45 760 800)">ouge</text><path d="M555 300 L655 300 L310 975 L195 975 Z" fill="#fff"/><path d="M630 308 Q935 290 935 470 Q930 635 745 660 L680 660 L700 560 Q790 555 790 475 Q790 405 675 420 Z" fill="#fff"/><path d="M690 630 L770 630 L990 975 L875 975 Z" fill="#fff"/><path d="M430 760 L740 760 L725 800 L412 800 Z" fill="#fff"/><rect x="190" y="965" width="800" height="10" fill="#e8202a"/></svg>
<svg style="position:absolute;left:917px;top:383px" width="55" height="53" viewBox="60 50 1300 1270" preserveAspectRatio="none"><path d="M740 80 Q850 420 1300 550 Q1010 760 1085 1290 Q650 1060 300 1210 Q420 800 95 490 Q560 480 740 80 Z" fill="#fff"/><path d="M180 520 Q520 470 700 150 L760 330 L560 420 L540 770 L330 820 Q330 700 180 520 Z" fill="#1b2a6e" opacity="0.95"/><path d="M800 300 Q950 520 1220 560 L1110 740 L830 720 Z" fill="#d9252f"/><path d="M740 80 Q850 420 1300 550" fill="none" stroke="#1b2a6e" stroke-width="40"/><path d="M1270 560 Q1030 760 1085 1290" fill="none" stroke="#1b2a6e" stroke-width="40"/><path d="M95 490 Q560 480 740 80" fill="none" stroke="#1b2a6e" stroke-width="40"/><path d="M130 520 Q440 800 300 1210" fill="none" stroke="#1b2a6e" stroke-width="40"/><path d="M470 470 Q520 700 700 690 Q860 660 800 420" fill="none" stroke="#d9252f" stroke-width="80"/><circle cx="780" cy="440" r="60" fill="#d9252f"/><text x="690" y="960" text-anchor="middle" font-family="Liberation Sans" font-weight="700" font-size="150" fill="#1b2a6e">VOLAILLE</text><text x="690" y="1070" text-anchor="middle" font-family="Liberation Sans" font-weight="700" font-size="130" fill="#1b2a6e">FRANÇAISE</text><path d="M470 1180 Q750 1100 1040 1240" stroke="#d9252f" stroke-width="40" fill="none"/></svg>
<svg style="position:absolute;left:882px;top:574px" width="51" height="37" viewBox="0 0 100 66" preserveAspectRatio="none"><rect width="100" height="66" fill="#93c01f"/><polygon points="38.40,13.20 39.29,15.58 41.82,15.69 39.84,17.27 40.52,19.71 38.40,18.31 36.28,19.71 36.96,17.27 34.98,15.69 37.51,15.58" fill="#fff"/><polygon points="50.50,13.20 51.39,15.58 53.92,15.69 51.94,17.27 52.62,19.71 50.50,18.31 48.38,19.71 49.06,17.27 47.08,15.69 49.61,15.58" fill="#fff"/><polygon points="63.60,14.20 64.49,16.58 67.02,16.69 65.04,18.27 65.72,20.71 63.60,19.31 61.48,20.71 62.16,18.27 60.18,16.69 62.71,16.58" fill="#fff"/><polygon points="76.80,12.20 77.69,14.58 80.22,14.69 78.24,16.27 78.92,18.71 76.80,17.31 74.68,18.71 75.36,16.27 73.38,14.69 75.91,14.58" fill="#fff"/><polygon points="71.70,23.80 72.59,26.18 75.12,26.29 73.14,27.87 73.82,30.31 71.70,28.91 69.58,30.31 70.26,27.87 68.28,26.29 70.81,26.18" fill="#fff"/><polygon points="65.70,34.40 66.59,36.78 69.12,36.89 67.14,38.47 67.82,40.91 65.70,39.51 63.58,40.91 64.26,38.47 62.28,36.89 64.81,36.78" fill="#fff"/><polygon points="57.60,40.20 58.49,42.58 61.02,42.69 59.04,44.27 59.72,46.71 57.60,45.31 55.48,46.71 56.16,44.27 54.18,42.69 56.71,42.58" fill="#fff"/><polygon points="48.50,44.10 49.39,46.48 51.92,46.59 49.94,48.17 50.62,50.61 48.50,49.21 46.38,50.61 47.06,48.17 45.08,46.59 47.61,46.48" fill="#fff"/><polygon points="34.30,45.00 35.19,47.38 37.72,47.49 35.74,49.07 36.42,51.51 34.30,50.11 32.18,51.51 32.86,49.07 30.88,47.49 33.41,47.38" fill="#fff"/><polygon points="19.20,47.00 20.09,49.38 22.62,49.49 20.64,51.07 21.32,53.51 19.20,52.11 17.08,53.51 17.76,51.07 15.78,49.49 18.31,49.38" fill="#fff"/><polygon points="24.20,31.50 25.09,33.88 27.62,33.99 25.64,35.57 26.32,38.01 24.20,36.61 22.08,38.01 22.76,35.57 20.78,33.99 23.31,33.88" fill="#fff"/><polygon points="30.30,20.00 31.19,22.38 33.72,22.49 31.74,24.07 32.42,26.51 30.30,25.11 28.18,26.51 28.86,24.07 26.88,22.49 29.41,22.38" fill="#fff"/><path d="M16 55 Q30 36 55 28.5" stroke="#fff" stroke-width="1.5" fill="none"/></svg>
<svg style="position:absolute;left:1264px;top:287px" width="54" height="54" viewBox="0 0 60 60" preserveAspectRatio="none"><polygon points="60.00,30.00 56.92,32.12 59.63,34.69 56.25,36.30 58.53,39.27 54.94,40.33 56.73,43.62 53.02,44.11 54.27,47.63 50.53,47.54 51.21,51.21 47.54,50.53 47.63,54.27 44.11,53.02 43.62,56.73 40.33,54.94 39.27,58.53 36.30,56.25 34.69,59.63 32.12,56.92 30.00,60.00 27.88,56.92 25.31,59.63 23.70,56.25 20.73,58.53 19.67,54.94 16.38,56.73 15.89,53.02 12.37,54.27 12.46,50.53 8.79,51.21 9.47,47.54 5.73,47.63 6.98,44.11 3.27,43.62 5.06,40.33 1.47,39.27 3.75,36.30 0.37,34.69 3.08,32.12 0.00,30.00 3.08,27.88 0.37,25.31 3.75,23.70 1.47,20.73 5.06,19.67 3.27,16.38 6.98,15.89 5.73,12.37 9.47,12.46 8.79,8.79 12.46,9.47 12.37,5.73 15.89,6.98 16.38,3.27 19.67,5.06 20.73,1.47 23.70,3.75 25.31,0.37 27.88,3.08 30.00,0.00 32.12,3.08 34.69,0.37 36.30,3.75 39.27,1.47 40.33,5.06 43.62,3.27 44.11,6.98 47.63,5.73 47.54,9.47 51.21,8.79 50.53,12.46 54.27,12.37 53.02,15.89 56.73,16.38 54.94,19.67 58.53,20.73 56.25,23.70 59.63,25.31 56.92,27.88" fill="#c8202e"/><circle cx="30" cy="30" r="26" fill="#f8d51e"/><circle cx="30" cy="30" r="18" fill="#e5213a"/><circle cx="45.00" cy="30.00" r="1.3" fill="#f8d51e"/><circle cx="42.99" cy="37.50" r="1.3" fill="#f8d51e"/><circle cx="37.50" cy="42.99" r="1.3" fill="#f8d51e"/><circle cx="30.00" cy="45.00" r="1.3" fill="#f8d51e"/><circle cx="22.50" cy="42.99" r="1.3" fill="#f8d51e"/><circle cx="17.01" cy="37.50" r="1.3" fill="#f8d51e"/><circle cx="15.00" cy="30.00" r="1.3" fill="#f8d51e"/><circle cx="17.01" cy="22.50" r="1.3" fill="#f8d51e"/><circle cx="22.50" cy="17.01" r="1.3" fill="#f8d51e"/><circle cx="30.00" cy="15.00" r="1.3" fill="#f8d51e"/><circle cx="37.50" cy="17.01" r="1.3" fill="#f8d51e"/><circle cx="42.99" cy="22.50" r="1.3" fill="#f8d51e"/><path d="M20 30 Q30 27 41 29 M20 33 Q30 30 41 32 M21 36 Q30 35 38 41 M23 38 Q29 39 33 43" stroke="#f8d51e" stroke-width="1.2" fill="none"/><circle cx="30" cy="30" r="22" fill="none" stroke="#e0a020" stroke-width="0.5" stroke-dasharray="1 1.3"/></svg>
<svg style="position:absolute;left:1271px;top:552px" width="47" height="65" viewBox="0 0 47 65" preserveAspectRatio="none"><rect width="47" height="65" fill="#fdfefe"/><path d="M21.8 14.6 L8.6 29.8 L35.5 29.8 Z" fill="none" stroke="#3a3e46" stroke-width="2.4" stroke-linejoin="miter"/><rect x="28.9" y="13.5" width="4" height="11" fill="#3a3e46"/><rect x="0.5" y="35.4" width="34.4" height="1.9" fill="#3a3e46"/><rect x="9.95" y="36.35" width="24" height="10.6" fill="none" stroke="#3a3e46" stroke-width="1.9"/></svg>
<svg style="position:absolute;left:1260px;top:663px" width="60" height="58" viewBox="100 90 1265 1240" preserveAspectRatio="none"><g fill="none" stroke="#111" stroke-width="27" stroke-linecap="round" stroke-linejoin="round"><circle cx="745" cy="285" r="105"/><path d="M745 100 V168 M745 402 V470 M560 285 H628 M862 285 H930"/><path d="M836 376 L857 397"/><path d="M654 376 L633 397"/><path d="M654 194 L633 173"/><path d="M836 194 L857 173"/><path transform="translate(370 495) rotate(-45.0)" d="M0 -20 L119 -20 L119 -58 L205 0 L119 58 L119 20 L0 20 Z"/><path transform="translate(1000 355) rotate(48.6)" d="M0 -20 L131 -20 L131 -58 L227 0 L131 58 L131 20 L0 20 Z"/><path transform="translate(1135 925) rotate(129.5)" d="M0 -20 L128 -20 L128 -58 L220 0 L128 58 L128 20 L0 20 Z"/><path transform="translate(505 1105) rotate(-136.9)" d="M0 -20 L123 -20 L123 -58 L212 0 L123 58 L123 20 L0 20 Z"/><ellipse cx="405" cy="735" rx="72" ry="62" transform="rotate(5 405 735)"/><ellipse cx="341" cy="825" rx="72" ry="62" transform="rotate(65 341 825)"/><ellipse cx="232" cy="815" rx="72" ry="62" transform="rotate(125 232 815)"/><ellipse cx="185" cy="715" rx="72" ry="62" transform="rotate(185 185 715)"/><ellipse cx="249" cy="625" rx="72" ry="62" transform="rotate(245 249 625)"/><ellipse cx="358" cy="635" rx="72" ry="62" transform="rotate(305 358 635)"/><circle cx="295" cy="725" r="45"/><path d="M950 770 Q955 700 1040 690 Q1060 600 1165 600 Q1260 600 1275 680 Q1350 690 1348 770 Z"/><path d="M965 820 l-12 30 M1010 820 l-12 30 M1055 820 l-12 30 M1100 820 l-12 30 M1145 820 l-12 30 M1190 820 l-12 30 M1235 820 l-12 30 M1280 820 l-12 30 M1325 820 l-12 30" stroke-width="20"/></g><g fill="none" stroke="#111" stroke-width="40" stroke-linecap="round"><path d="M745 1203 L745 1315"/><path d="M745 1275 L780 1317" stroke-width="32"/><path d="M745 1275 L710 1317" stroke-width="32"/><path d="M712 1184 L615 1240"/><path d="M650 1220 L631 1272" stroke-width="32"/><path d="M650 1220 L596 1210" stroke-width="32"/><path d="M712 1146 L615 1090"/><path d="M650 1110 L596 1120" stroke-width="32"/><path d="M650 1110 L631 1058" stroke-width="32"/><path d="M745 1127 L745 1015"/><path d="M745 1055 L710 1013" stroke-width="32"/><path d="M745 1055 L780 1013" stroke-width="32"/><path d="M778 1146 L875 1090"/><path d="M840 1110 L859 1058" stroke-width="32"/><path d="M840 1110 L894 1120" stroke-width="32"/><path d="M778 1184 L875 1240"/><path d="M840 1220 L894 1210" stroke-width="32"/><path d="M840 1220 L859 1272" stroke-width="32"/><circle cx="745" cy="1165" r="30" stroke-width="20"/></g></svg>
<svg style="position:absolute;left:1619px;top:261px" width="55" height="38" viewBox="0 0 100 66" preserveAspectRatio="none"><rect width="100" height="66" fill="#93c01f"/><polygon points="38.40,13.20 39.29,15.58 41.82,15.69 39.84,17.27 40.52,19.71 38.40,18.31 36.28,19.71 36.96,17.27 34.98,15.69 37.51,15.58" fill="#fff"/><polygon points="50.50,13.20 51.39,15.58 53.92,15.69 51.94,17.27 52.62,19.71 50.50,18.31 48.38,19.71 49.06,17.27 47.08,15.69 49.61,15.58" fill="#fff"/><polygon points="63.60,14.20 64.49,16.58 67.02,16.69 65.04,18.27 65.72,20.71 63.60,19.31 61.48,20.71 62.16,18.27 60.18,16.69 62.71,16.58" fill="#fff"/><polygon points="76.80,12.20 77.69,14.58 80.22,14.69 78.24,16.27 78.92,18.71 76.80,17.31 74.68,18.71 75.36,16.27 73.38,14.69 75.91,14.58" fill="#fff"/><polygon points="71.70,23.80 72.59,26.18 75.12,26.29 73.14,27.87 73.82,30.31 71.70,28.91 69.58,30.31 70.26,27.87 68.28,26.29 70.81,26.18" fill="#fff"/><polygon points="65.70,34.40 66.59,36.78 69.12,36.89 67.14,38.47 67.82,40.91 65.70,39.51 63.58,40.91 64.26,38.47 62.28,36.89 64.81,36.78" fill="#fff"/><polygon points="57.60,40.20 58.49,42.58 61.02,42.69 59.04,44.27 59.72,46.71 57.60,45.31 55.48,46.71 56.16,44.27 54.18,42.69 56.71,42.58" fill="#fff"/><polygon points="48.50,44.10 49.39,46.48 51.92,46.59 49.94,48.17 50.62,50.61 48.50,49.21 46.38,50.61 47.06,48.17 45.08,46.59 47.61,46.48" fill="#fff"/><polygon points="34.30,45.00 35.19,47.38 37.72,47.49 35.74,49.07 36.42,51.51 34.30,50.11 32.18,51.51 32.86,49.07 30.88,47.49 33.41,47.38" fill="#fff"/><polygon points="19.20,47.00 20.09,49.38 22.62,49.49 20.64,51.07 21.32,53.51 19.20,52.11 17.08,53.51 17.76,51.07 15.78,49.49 18.31,49.38" fill="#fff"/><polygon points="24.20,31.50 25.09,33.88 27.62,33.99 25.64,35.57 26.32,38.01 24.20,36.61 22.08,38.01 22.76,35.57 20.78,33.99 23.31,33.88" fill="#fff"/><polygon points="30.30,20.00 31.19,22.38 33.72,22.49 31.74,24.07 32.42,26.51 30.30,25.11 28.18,26.51 28.86,24.07 26.88,22.49 29.41,22.38" fill="#fff"/><path d="M16 55 Q30 36 55 28.5" stroke="#fff" stroke-width="1.5" fill="none"/></svg>
<svg style="position:absolute;left:1622px;top:301px" width="34" height="51" viewBox="0 0 34 51" preserveAspectRatio="none"><path d="M17 0 C7.6 0 0 7.4 0 16.6 C0 27 17 51 17 51 C17 51 34 27 34 16.6 C34 7.4 26.4 0 17 0 Z" fill="#0f5e7d"/><circle cx="17" cy="15.5" r="8" fill="#fff"/></svg>
<svg style="position:absolute;left:1681px;top:275px" width="40" height="61" viewBox="0 0 47 65" preserveAspectRatio="none"><rect width="47" height="65" fill="#fdfefe"/><path d="M21.8 14.6 L8.6 29.8 L35.5 29.8 Z" fill="none" stroke="#3a3e46" stroke-width="2.4" stroke-linejoin="miter"/><rect x="28.9" y="13.5" width="4" height="11" fill="#3a3e46"/><rect x="0.5" y="35.4" width="34.4" height="1.9" fill="#3a3e46"/><rect x="9.95" y="36.35" width="24" height="10.6" fill="none" stroke="#3a3e46" stroke-width="1.9"/></svg>
<svg style="position:absolute;left:1648px;top:400px" width="42" height="61" viewBox="0 0 47 65" preserveAspectRatio="none"><rect width="47" height="65" fill="#fdfefe"/><path d="M21.8 14.6 L8.6 29.8 L35.5 29.8 Z" fill="none" stroke="#3a3e46" stroke-width="2.4" stroke-linejoin="miter"/><rect x="28.9" y="13.5" width="4" height="11" fill="#3a3e46"/><rect x="0.5" y="35.4" width="34.4" height="1.9" fill="#3a3e46"/><rect x="9.95" y="36.35" width="24" height="10.6" fill="none" stroke="#3a3e46" stroke-width="1.9"/></svg>
<svg style="position:absolute;left:1642px;top:522px" width="55" height="37" viewBox="0 0 100 66" preserveAspectRatio="none"><rect width="100" height="66" fill="#93c01f"/><polygon points="38.40,13.20 39.29,15.58 41.82,15.69 39.84,17.27 40.52,19.71 38.40,18.31 36.28,19.71 36.96,17.27 34.98,15.69 37.51,15.58" fill="#fff"/><polygon points="50.50,13.20 51.39,15.58 53.92,15.69 51.94,17.27 52.62,19.71 50.50,18.31 48.38,19.71 49.06,17.27 47.08,15.69 49.61,15.58" fill="#fff"/><polygon points="63.60,14.20 64.49,16.58 67.02,16.69 65.04,18.27 65.72,20.71 63.60,19.31 61.48,20.71 62.16,18.27 60.18,16.69 62.71,16.58" fill="#fff"/><polygon points="76.80,12.20 77.69,14.58 80.22,14.69 78.24,16.27 78.92,18.71 76.80,17.31 74.68,18.71 75.36,16.27 73.38,14.69 75.91,14.58" fill="#fff"/><polygon points="71.70,23.80 72.59,26.18 75.12,26.29 73.14,27.87 73.82,30.31 71.70,28.91 69.58,30.31 70.26,27.87 68.28,26.29 70.81,26.18" fill="#fff"/><polygon points="65.70,34.40 66.59,36.78 69.12,36.89 67.14,38.47 67.82,40.91 65.70,39.51 63.58,40.91 64.26,38.47 62.28,36.89 64.81,36.78" fill="#fff"/><polygon points="57.60,40.20 58.49,42.58 61.02,42.69 59.04,44.27 59.72,46.71 57.60,45.31 55.48,46.71 56.16,44.27 54.18,42.69 56.71,42.58" fill="#fff"/><polygon points="48.50,44.10 49.39,46.48 51.92,46.59 49.94,48.17 50.62,50.61 48.50,49.21 46.38,50.61 47.06,48.17 45.08,46.59 47.61,46.48" fill="#fff"/><polygon points="34.30,45.00 35.19,47.38 37.72,47.49 35.74,49.07 36.42,51.51 34.30,50.11 32.18,51.51 32.86,49.07 30.88,47.49 33.41,47.38" fill="#fff"/><polygon points="19.20,47.00 20.09,49.38 22.62,49.49 20.64,51.07 21.32,53.51 19.20,52.11 17.08,53.51 17.76,51.07 15.78,49.49 18.31,49.38" fill="#fff"/><polygon points="24.20,31.50 25.09,33.88 27.62,33.99 25.64,35.57 26.32,38.01 24.20,36.61 22.08,38.01 22.76,35.57 20.78,33.99 23.31,33.88" fill="#fff"/><polygon points="30.30,20.00 31.19,22.38 33.72,22.49 31.74,24.07 32.42,26.51 30.30,25.11 28.18,26.51 28.86,24.07 26.88,22.49 29.41,22.38" fill="#fff"/><path d="M16 55 Q30 36 55 28.5" stroke="#fff" stroke-width="1.5" fill="none"/></svg>
<svg style="position:absolute;left:1649px;top:681px" width="54" height="52" viewBox="100 90 1265 1240" preserveAspectRatio="none"><g fill="none" stroke="#111" stroke-width="27" stroke-linecap="round" stroke-linejoin="round"><circle cx="745" cy="285" r="105"/><path d="M745 100 V168 M745 402 V470 M560 285 H628 M862 285 H930"/><path d="M836 376 L857 397"/><path d="M654 376 L633 397"/><path d="M654 194 L633 173"/><path d="M836 194 L857 173"/><path transform="translate(370 495) rotate(-45.0)" d="M0 -20 L119 -20 L119 -58 L205 0 L119 58 L119 20 L0 20 Z"/><path transform="translate(1000 355) rotate(48.6)" d="M0 -20 L131 -20 L131 -58 L227 0 L131 58 L131 20 L0 20 Z"/><path transform="translate(1135 925) rotate(129.5)" d="M0 -20 L128 -20 L128 -58 L220 0 L128 58 L128 20 L0 20 Z"/><path transform="translate(505 1105) rotate(-136.9)" d="M0 -20 L123 -20 L123 -58 L212 0 L123 58 L123 20 L0 20 Z"/><ellipse cx="405" cy="735" rx="72" ry="62" transform="rotate(5 405 735)"/><ellipse cx="341" cy="825" rx="72" ry="62" transform="rotate(65 341 825)"/><ellipse cx="232" cy="815" rx="72" ry="62" transform="rotate(125 232 815)"/><ellipse cx="185" cy="715" rx="72" ry="62" transform="rotate(185 185 715)"/><ellipse cx="249" cy="625" rx="72" ry="62" transform="rotate(245 249 625)"/><ellipse cx="358" cy="635" rx="72" ry="62" transform="rotate(305 358 635)"/><circle cx="295" cy="725" r="45"/><path d="M950 770 Q955 700 1040 690 Q1060 600 1165 600 Q1260 600 1275 680 Q1350 690 1348 770 Z"/><path d="M965 820 l-12 30 M1010 820 l-12 30 M1055 820 l-12 30 M1100 820 l-12 30 M1145 820 l-12 30 M1190 820 l-12 30 M1235 820 l-12 30 M1280 820 l-12 30 M1325 820 l-12 30" stroke-width="20"/></g><g fill="none" stroke="#111" stroke-width="40" stroke-linecap="round"><path d="M745 1203 L745 1315"/><path d="M745 1275 L780 1317" stroke-width="32"/><path d="M745 1275 L710 1317" stroke-width="32"/><path d="M712 1184 L615 1240"/><path d="M650 1220 L631 1272" stroke-width="32"/><path d="M650 1220 L596 1210" stroke-width="32"/><path d="M712 1146 L615 1090"/><path d="M650 1110 L596 1120" stroke-width="32"/><path d="M650 1110 L631 1058" stroke-width="32"/><path d="M745 1127 L745 1015"/><path d="M745 1055 L710 1013" stroke-width="32"/><path d="M745 1055 L780 1013" stroke-width="32"/><path d="M778 1146 L875 1090"/><path d="M840 1110 L859 1058" stroke-width="32"/><path d="M840 1110 L894 1120" stroke-width="32"/><path d="M778 1184 L875 1240"/><path d="M840 1220 L894 1210" stroke-width="32"/><path d="M840 1220 L859 1272" stroke-width="32"/><circle cx="745" cy="1165" r="30" stroke-width="20"/></g></svg>
<div style="position:absolute;left:110px;top:773px;width:1857px;height:160px;background:#9ad6e4;border-radius:25px;"></div>
<div style="position:absolute;left:113.5px;top:793.4px;height:32.9px;line-height:32.9px;white-space:nowrap;font-size:23.5px;font-weight:700;color:#2b2b2b;letter-spacing:0.45px;">Goûters préparés</div>
<div style="position:absolute;left:113.5px;top:824.4px;height:32.9px;line-height:32.9px;white-space:nowrap;font-size:23.5px;font-weight:700;color:#2b2b2b;letter-spacing:0.45px;">par le périscolaire</div>
<div style="position:absolute;left:113.5px;top:854.3px;height:32.9px;line-height:32.9px;white-space:nowrap;font-size:23.5px;font-weight:700;color:#2b2b2b;letter-spacing:0.45px;">suivant cette liste.</div>
<div style="position:absolute;left:332.0px;top:852.6px;height:34.3px;line-height:34.3px;white-space:nowrap;font-size:24.5px;font-weight:700;color:#2b2116;letter-spacing:0.6px;">Beurre bio</div>
<div style="position:absolute;left:481.5px;top:812.8px;height:34.3px;line-height:34.3px;white-space:nowrap;font-size:24.5px;font-weight:700;color:#2b2116;letter-spacing:0.6px;">Pain</div>
<div style="position:absolute;left:668.5px;top:775.9px;height:34.3px;line-height:34.3px;white-space:nowrap;font-size:24.5px;font-weight:700;color:#2b2116;letter-spacing:0.6px;">Miel</div>
<div style="position:absolute;left:558.0px;top:880.1px;height:34.3px;line-height:34.3px;white-space:nowrap;font-size:24.5px;font-weight:700;color:#2b2116;letter-spacing:0.6px;">Yaourts</div>
<div style="position:absolute;left:745.0px;top:879.9px;height:34.3px;line-height:34.3px;white-space:nowrap;font-size:24.5px;font-weight:700;color:#2b2116;letter-spacing:0.6px;">Fromage blanc</div>
<div style="position:absolute;left:917.5px;top:780.6px;height:34.3px;line-height:34.3px;white-space:nowrap;font-size:24.5px;font-weight:700;color:#2b2116;letter-spacing:0.6px;">Confiture</div>
<div style="position:absolute;left:1026.0px;top:877.6px;height:34.3px;line-height:34.3px;white-space:nowrap;font-size:24.5px;font-weight:700;color:#2b2116;letter-spacing:0.6px;">Lait bio</div>
<div style="position:absolute;left:1104.0px;top:791.1px;height:34.3px;line-height:34.3px;white-space:nowrap;font-size:24.5px;font-weight:700;color:#2b2116;letter-spacing:0.6px;">Fruit de saison</div>
<div style="position:absolute;left:1267.5px;top:884.6px;height:34.3px;line-height:34.3px;white-space:nowrap;font-size:24.5px;font-weight:700;color:#2b2116;letter-spacing:0.6px;">Petit suisse</div>
<div style="position:absolute;left:1410.0px;top:782.9px;height:34.3px;line-height:34.3px;white-space:nowrap;font-size:24.5px;font-weight:700;color:#2b2116;letter-spacing:0.6px;">Compote</div>
<div style="position:absolute;left:1532.5px;top:889.9px;height:34.3px;line-height:34.3px;white-space:nowrap;font-size:24.5px;font-weight:700;color:#2b2116;letter-spacing:0.6px;">Pâte à tartiner</div>
<div style="position:absolute;left:1697.0px;top:782.1px;height:34.3px;line-height:34.3px;white-space:nowrap;font-size:24.5px;font-weight:700;color:#2b2116;letter-spacing:0.6px;">Fromage</div>
<div style="position:absolute;left:1842.5px;top:882.9px;height:34.3px;line-height:34.3px;white-space:nowrap;font-size:24.5px;font-weight:700;color:#2b2116;letter-spacing:0.6px;">Céréales</div>
<div style="position:absolute;left:110px;top:949.0px;width:40px;height:28px;line-height:28px;text-align:right;font-size:21px;color:#2b2116;letter-spacing:0.4px;">1.</div>
<div style="position:absolute;left:154.5px;top:948.3px;height:29.4px;line-height:29.4px;white-space:nowrap;font-size:21px;font-weight:400;color:#2b2116;letter-spacing:0.55px;">Gluten</div>
<div style="position:absolute;left:110px;top:975.6px;width:40px;height:28px;line-height:28px;text-align:right;font-size:21px;color:#2b2116;letter-spacing:0.4px;">2.</div>
<div style="position:absolute;left:154.5px;top:974.9px;height:29.4px;line-height:29.4px;white-space:nowrap;font-size:21px;font-weight:400;color:#2b2116;letter-spacing:0.55px;">Lait</div>
<div style="position:absolute;left:110px;top:1002.2px;width:40px;height:28px;line-height:28px;text-align:right;font-size:21px;color:#2b2116;letter-spacing:0.4px;">3.</div>
<div style="position:absolute;left:154.5px;top:1001.5px;height:29.4px;line-height:29.4px;white-space:nowrap;font-size:21px;font-weight:400;color:#2b2116;letter-spacing:0.55px;">Arachides</div>
<div style="position:absolute;left:110px;top:1028.8px;width:40px;height:28px;line-height:28px;text-align:right;font-size:21px;color:#2b2116;letter-spacing:0.4px;">4.</div>
<div style="position:absolute;left:154.5px;top:1028.1px;height:29.4px;line-height:29.4px;white-space:nowrap;font-size:21px;font-weight:400;color:#2b2116;letter-spacing:0.55px;">Fruits à coque</div>
<div style="position:absolute;left:110px;top:1055.4px;width:40px;height:28px;line-height:28px;text-align:right;font-size:21px;color:#2b2116;letter-spacing:0.4px;">5.</div>
<div style="position:absolute;left:154.5px;top:1054.7px;height:29.4px;line-height:29.4px;white-space:nowrap;font-size:21px;font-weight:400;color:#2b2116;letter-spacing:0.55px;">Œuf</div>
<div style="position:absolute;left:110px;top:1082.0px;width:40px;height:28px;line-height:28px;text-align:right;font-size:21px;color:#2b2116;letter-spacing:0.4px;">6.</div>
<div style="position:absolute;left:154.5px;top:1081.3px;height:29.4px;line-height:29.4px;white-space:nowrap;font-size:21px;font-weight:400;color:#2b2116;letter-spacing:0.55px;">Poisson</div>
<div style="position:absolute;left:110px;top:1108.6px;width:40px;height:28px;line-height:28px;text-align:right;font-size:21px;color:#2b2116;letter-spacing:0.4px;">7.</div>
<div style="position:absolute;left:154.5px;top:1107.9px;height:29.4px;line-height:29.4px;white-space:nowrap;font-size:21px;font-weight:400;color:#2b2116;letter-spacing:0.55px;">Crustacés</div>
<div style="position:absolute;left:311.5px;top:948.3px;height:29.4px;line-height:29.4px;white-space:nowrap;font-size:21px;font-weight:400;color:#2b2116;letter-spacing:0.4px;">8.</div>
<div style="position:absolute;left:342.5px;top:948.3px;height:29.4px;line-height:29.4px;white-space:nowrap;font-size:21px;font-weight:400;color:#2b2116;letter-spacing:0.55px;">Mollusques</div>
<div style="position:absolute;left:311.5px;top:974.9px;height:29.4px;line-height:29.4px;white-space:nowrap;font-size:21px;font-weight:400;color:#2b2116;letter-spacing:0.4px;">9.</div>
<div style="position:absolute;left:342.5px;top:974.9px;height:29.4px;line-height:29.4px;white-space:nowrap;font-size:21px;font-weight:400;color:#2b2116;letter-spacing:0.55px;">Moutarde</div>
<div style="position:absolute;left:311.5px;top:1001.5px;height:29.4px;line-height:29.4px;white-space:nowrap;font-size:21px;font-weight:400;color:#2b2116;letter-spacing:0.4px;">10.</div>
<div style="position:absolute;left:344.0px;top:1001.5px;height:29.4px;line-height:29.4px;white-space:nowrap;font-size:21px;font-weight:400;color:#2b2116;letter-spacing:0.55px;">Sulfites</div>
<div style="position:absolute;left:311.5px;top:1028.1px;height:29.4px;line-height:29.4px;white-space:nowrap;font-size:21px;font-weight:400;color:#2b2116;letter-spacing:0.4px;">11.</div>
<div style="position:absolute;left:344.0px;top:1028.1px;height:29.4px;line-height:29.4px;white-space:nowrap;font-size:21px;font-weight:400;color:#2b2116;letter-spacing:0.55px;">Soja</div>
<div style="position:absolute;left:311.5px;top:1054.7px;height:29.4px;line-height:29.4px;white-space:nowrap;font-size:21px;font-weight:400;color:#2b2116;letter-spacing:0.4px;">12.</div>
<div style="position:absolute;left:344.0px;top:1054.7px;height:29.4px;line-height:29.4px;white-space:nowrap;font-size:21px;font-weight:400;color:#2b2116;letter-spacing:0.55px;">Céleri</div>
<div style="position:absolute;left:311.5px;top:1081.3px;height:29.4px;line-height:29.4px;white-space:nowrap;font-size:21px;font-weight:400;color:#2b2116;letter-spacing:0.4px;">13.</div>
<div style="position:absolute;left:344.0px;top:1081.3px;height:29.4px;line-height:29.4px;white-space:nowrap;font-size:21px;font-weight:400;color:#2b2116;letter-spacing:0.55px;">Sésame</div>
<div style="position:absolute;left:311.5px;top:1107.9px;height:29.4px;line-height:29.4px;white-space:nowrap;font-size:21px;font-weight:400;color:#2b2116;letter-spacing:0.4px;">14.</div>
<div style="position:absolute;left:344.0px;top:1107.9px;height:29.4px;line-height:29.4px;white-space:nowrap;font-size:21px;font-weight:400;color:#2b2116;letter-spacing:0.55px;">Lupin</div>
<div style="position:absolute;left:99px;top:1145px;width:393px;height:161px;background:#f7c53f;border-radius:62px;"></div>
<div style="position:absolute;left:-4.5px;top:1167.8px;width:600px;height:27.3px;line-height:27.3px;text-align:center;white-space:nowrap;font-size:19.5px;font-weight:400;color:#2b2116;letter-spacing:0px;">Ces menus sont susceptibles de contenir</div>
<div style="position:absolute;left:-4.5px;top:1191.3px;width:600px;height:27.3px;line-height:27.3px;text-align:center;white-space:nowrap;font-size:19.5px;font-weight:400;color:#2b2116;letter-spacing:0px;">des traces de différents allergènes selon</div>
<div style="position:absolute;left:-4.5px;top:1214.8px;width:600px;height:27.3px;line-height:27.3px;text-align:center;white-space:nowrap;font-size:19.5px;font-weight:400;color:#2b2116;letter-spacing:0px;">la touche du chef. Merci de vous</div>
<div style="position:absolute;left:-4.5px;top:1238.3px;width:600px;height:27.3px;line-height:27.3px;text-align:center;white-space:nowrap;font-size:19.5px;font-weight:400;color:#2b2116;letter-spacing:0px;">renseigner auprès du responsable de</div>
<div style="position:absolute;left:-4.5px;top:1261.8px;width:600px;height:27.3px;line-height:27.3px;text-align:center;white-space:nowrap;font-size:19.5px;font-weight:400;color:#2b2116;letter-spacing:0px;">cuisine si besoin de plus d’informations</div>
<div style="position:absolute;left:524px;top:943px;width:806px;height:363px;background:#f6d48b;border-radius:22px;overflow:hidden;"></div>
<div style="position:absolute;left:524px;top:943px;width:806px;height:62px;background:#ebaf1c;border-radius:22px 22px 0 0;"></div>
<div style="position:absolute;left:627.0px;top:955.8px;width:600px;height:36.4px;line-height:36.4px;text-align:center;white-space:nowrap;font-size:26px;font-weight:400;color:#fff;letter-spacing:3.0px;">LABELS &amp; CERTIFICATIONS</div>
<div style="position:absolute;left:779.5px;top:1005px;width:3px;height:298px;background:#ebaf1c;"></div>
<div style="position:absolute;left:1048px;top:1005px;width:3px;height:298px;background:#ebaf1c;"></div>
<svg style="position:absolute;left:523px;top:1007px" width="78" height="78" viewBox="60 50 1300 1270" preserveAspectRatio="none"><path d="M740 80 Q850 420 1300 550 Q1010 760 1085 1290 Q650 1060 300 1210 Q420 800 95 490 Q560 480 740 80 Z" fill="#fff"/><path d="M180 520 Q520 470 700 150 L760 330 L560 420 L540 770 L330 820 Q330 700 180 520 Z" fill="#1b2a6e" opacity="0.95"/><path d="M800 300 Q950 520 1220 560 L1110 740 L830 720 Z" fill="#d9252f"/><path d="M740 80 Q850 420 1300 550" fill="none" stroke="#1b2a6e" stroke-width="40"/><path d="M1270 560 Q1030 760 1085 1290" fill="none" stroke="#1b2a6e" stroke-width="40"/><path d="M95 490 Q560 480 740 80" fill="none" stroke="#1b2a6e" stroke-width="40"/><path d="M130 520 Q440 800 300 1210" fill="none" stroke="#1b2a6e" stroke-width="40"/><path d="M470 470 Q520 700 700 690 Q860 660 800 420" fill="none" stroke="#d9252f" stroke-width="80"/><circle cx="780" cy="440" r="60" fill="#d9252f"/><text x="690" y="960" text-anchor="middle" font-family="Liberation Sans" font-weight="700" font-size="150" fill="#1b2a6e">VOLAILLE</text><text x="690" y="1070" text-anchor="middle" font-family="Liberation Sans" font-weight="700" font-size="130" fill="#1b2a6e">FRANÇAISE</text><path d="M470 1180 Q750 1100 1040 1240" stroke="#d9252f" stroke-width="40" fill="none"/></svg>
<div style="position:absolute;left:614.5px;top:1027.5px;height:27.3px;line-height:27.3px;white-space:nowrap;font-size:19.5px;font-weight:400;color:#3a2714;letter-spacing:0.9px;">Volaille française</div>
<div style="position:absolute;left:534.0px;top:1106.3px;height:27.3px;line-height:27.3px;white-space:nowrap;font-size:19.5px;font-weight:400;color:#3a2714;letter-spacing:0.9px;">Porc français</div>
<svg style="position:absolute;left:690.5px;top:1087.7px" width="83" height="68.5" viewBox="100 100 1470 1220" preserveAspectRatio="none"><rect x="100" y="100" width="1470" height="1220" fill="#fff"/><g fill="none" stroke="#1b2a6e" stroke-width="38" stroke-linecap="round"><path d="M150 490 Q520 440 760 150"/><path d="M880 100 Q1080 420 1410 500"/><path d="M1530 550 Q1300 820 1240 1300"/><path d="M290 620 Q420 860 400 1310"/></g><path d="M290 540 L630 390 L640 560 L410 740 Z" fill="#1f5cae"/><path d="M830 150 L1190 480 L850 490 Z" fill="#d9252f"/><path d="M580 700 Q680 600 780 610 M1100 560 Q1300 560 1130 720" stroke="#d9252f" stroke-width="40" fill="none"/><text x="840" y="950" text-anchor="middle" font-family="Liberation Sans" font-weight="700" font-style="italic" font-size="190" fill="#1b2a6e" letter-spacing="-4">LE P<tspan fill="#d9252f">O</tspan>RC</text><text x="850" y="1090" text-anchor="middle" font-family="Liberation Sans" font-weight="700" font-size="170" fill="#1b2a6e" letter-spacing="-10">FRANÇAIS</text><path d="M540 1280 Q850 1180 1230 1300" stroke="#d9252f" stroke-width="40" fill="none"/></svg>
<svg style="position:absolute;left:543px;top:1167px" width="40" height="58" viewBox="0 0 34 51" preserveAspectRatio="none"><path d="M17 0 C7.6 0 0 7.4 0 16.6 C0 27 17 51 17 51 C17 51 34 27 34 16.6 C34 7.4 26.4 0 17 0 Z" fill="#0f5e7d"/><circle cx="17" cy="15.5" r="8" fill="#fff"/></svg>
<div style="position:absolute;left:593.5px;top:1181.9px;height:27.3px;line-height:27.3px;white-space:nowrap;font-size:19.5px;font-weight:400;color:#3a2714;letter-spacing:0.9px;">Produit local</div>
<div style="position:absolute;left:530.0px;top:1239.2px;height:27.3px;line-height:27.3px;white-space:nowrap;font-size:19.5px;font-weight:400;color:#3a2714;letter-spacing:0.9px;">Viande origine</div>
<div style="position:absolute;left:530.0px;top:1264.1px;height:27.3px;line-height:27.3px;white-space:nowrap;font-size:19.5px;font-weight:400;color:#3a2714;letter-spacing:0.9px;">France</div>
<svg style="position:absolute;left:675px;top:1233px" width="82" height="66.5" viewBox="100 100 1470 1220" preserveAspectRatio="none"><rect x="100" y="100" width="1470" height="1220" fill="#fff"/><g fill="none" stroke="#1b2a6e" stroke-width="40" stroke-linecap="round"><path d="M150 490 Q520 440 760 150"/><path d="M880 100 Q1080 420 1410 500"/><path d="M1530 550 Q1300 820 1240 1300"/><path d="M290 620 Q420 860 400 1310"/></g><path d="M290 540 L630 390 L640 560 L410 740 Z" fill="#1f5cae"/><path d="M830 150 L1190 480 L850 490 Z" fill="#d9252f"/><text x="850" y="960" text-anchor="middle" font-family="Liberation Sans" font-weight="700" font-size="200" fill="#1b2a6e">VIANDES</text><text x="850" y="1110" text-anchor="middle" font-family="Liberation Sans" font-weight="700" font-size="140" fill="#1b2a6e">DE FRANCE</text><path d="M540 1250 Q850 1170 1230 1290" stroke="#d9252f" stroke-width="40" fill="none"/></svg>
<svg style="position:absolute;left:795px;top:1010px" width="80" height="75" viewBox="100 150 1300 1200" preserveAspectRatio="none"><g transform="rotate(-6 700 700)"><path d="M230 960 L1110 960 L1110 1180 Q1110 1270 1020 1270 L320 1270 Q230 1270 230 1180 Z" fill="#1f78c1" stroke="#fff" stroke-width="20"/><path d="M250 330 Q600 250 1060 280 Q1180 300 1160 420 L1120 780 Q1100 900 900 920 L260 970 Q140 980 140 860 L160 460 Q170 350 250 330 Z" fill="#fff"/><text x="600" y="520" text-anchor="middle" font-family="Liberation Sans" font-weight="700" font-size="220" fill="#2ba43a" letter-spacing="-10">BLEU</text><text x="620" y="710" text-anchor="middle" font-family="Liberation Sans" font-weight="700" font-size="220" fill="#2ba43a" letter-spacing="-10">BLANC</text><text x="580" y="900" text-anchor="middle" font-family="Liberation Sans" font-weight="700" font-size="220" fill="#2ba43a" letter-spacing="-10">COEUR</text><text x="660" y="1100" text-anchor="middle" font-family="Liberation Sans" font-size="70" fill="#fff">Pour la Terre, les animaux</text><text x="660" y="1200" text-anchor="middle" font-family="Liberation Sans" font-size="70" fill="#fff">et les hommes</text></g><path d="M1120 520 Q1080 700 1000 800" stroke="#e03040" stroke-width="14" fill="none"/><circle cx="1080" cy="300" r="85" fill="#8ec4ea" stroke="#fff" stroke-width="12"/><circle cx="1060" cy="420" r="85" fill="#8ec4ea" stroke="#fff" stroke-width="12"/><circle cx="1200" cy="440" r="85" fill="#8ec4ea" stroke="#fff" stroke-width="12"/><circle cx="1180" cy="320" r="85" fill="#8ec4ea" stroke="#fff" stroke-width="12"/><circle cx="1240" cy="250" r="70" fill="#2ba43a"/></svg>
<div style="position:absolute;left:901.0px;top:1029.2px;height:27.3px;line-height:27.3px;white-space:nowrap;font-size:19.5px;font-weight:400;color:#3a2714;letter-spacing:0.9px;">Produit BBC</div>
<div style="position:absolute;left:815.0px;top:1106.3px;height:27.3px;line-height:27.3px;white-space:nowrap;font-size:19.5px;font-weight:400;color:#3a2714;letter-spacing:0.9px;">Produit AOP</div>
<svg style="position:absolute;left:971px;top:1093px" width="54" height="54" viewBox="0 0 60 60" preserveAspectRatio="none"><polygon points="60.00,30.00 56.92,32.12 59.63,34.69 56.25,36.30 58.53,39.27 54.94,40.33 56.73,43.62 53.02,44.11 54.27,47.63 50.53,47.54 51.21,51.21 47.54,50.53 47.63,54.27 44.11,53.02 43.62,56.73 40.33,54.94 39.27,58.53 36.30,56.25 34.69,59.63 32.12,56.92 30.00,60.00 27.88,56.92 25.31,59.63 23.70,56.25 20.73,58.53 19.67,54.94 16.38,56.73 15.89,53.02 12.37,54.27 12.46,50.53 8.79,51.21 9.47,47.54 5.73,47.63 6.98,44.11 3.27,43.62 5.06,40.33 1.47,39.27 3.75,36.30 0.37,34.69 3.08,32.12 0.00,30.00 3.08,27.88 0.37,25.31 3.75,23.70 1.47,20.73 5.06,19.67 3.27,16.38 6.98,15.89 5.73,12.37 9.47,12.46 8.79,8.79 12.46,9.47 12.37,5.73 15.89,6.98 16.38,3.27 19.67,5.06 20.73,1.47 23.70,3.75 25.31,0.37 27.88,3.08 30.00,0.00 32.12,3.08 34.69,0.37 36.30,3.75 39.27,1.47 40.33,5.06 43.62,3.27 44.11,6.98 47.63,5.73 47.54,9.47 51.21,8.79 50.53,12.46 54.27,12.37 53.02,15.89 56.73,16.38 54.94,19.67 58.53,20.73 56.25,23.70 59.63,25.31 56.92,27.88" fill="#c8202e"/><circle cx="30" cy="30" r="26" fill="#f8d51e"/><circle cx="30" cy="30" r="18" fill="#e5213a"/><circle cx="45.00" cy="30.00" r="1.3" fill="#f8d51e"/><circle cx="42.99" cy="37.50" r="1.3" fill="#f8d51e"/><circle cx="37.50" cy="42.99" r="1.3" fill="#f8d51e"/><circle cx="30.00" cy="45.00" r="1.3" fill="#f8d51e"/><circle cx="22.50" cy="42.99" r="1.3" fill="#f8d51e"/><circle cx="17.01" cy="37.50" r="1.3" fill="#f8d51e"/><circle cx="15.00" cy="30.00" r="1.3" fill="#f8d51e"/><circle cx="17.01" cy="22.50" r="1.3" fill="#f8d51e"/><circle cx="22.50" cy="17.01" r="1.3" fill="#f8d51e"/><circle cx="30.00" cy="15.00" r="1.3" fill="#f8d51e"/><circle cx="37.50" cy="17.01" r="1.3" fill="#f8d51e"/><circle cx="42.99" cy="22.50" r="1.3" fill="#f8d51e"/><path d="M20 30 Q30 27 41 29 M20 33 Q30 30 41 32 M21 36 Q30 35 38 41 M23 38 Q29 39 33 43" stroke="#f8d51e" stroke-width="1.2" fill="none"/><circle cx="30" cy="30" r="22" fill="none" stroke="#e0a020" stroke-width="0.5" stroke-dasharray="1 1.3"/></svg>
<svg style="position:absolute;left:787px;top:1155px" width="108" height="75" viewBox="0 0 100 66" preserveAspectRatio="none"><rect width="100" height="66" fill="#93c01f"/><polygon points="38.40,13.20 39.29,15.58 41.82,15.69 39.84,17.27 40.52,19.71 38.40,18.31 36.28,19.71 36.96,17.27 34.98,15.69 37.51,15.58" fill="#fff"/><polygon points="50.50,13.20 51.39,15.58 53.92,15.69 51.94,17.27 52.62,19.71 50.50,18.31 48.38,19.71 49.06,17.27 47.08,15.69 49.61,15.58" fill="#fff"/><polygon points="63.60,14.20 64.49,16.58 67.02,16.69 65.04,18.27 65.72,20.71 63.60,19.31 61.48,20.71 62.16,18.27 60.18,16.69 62.71,16.58" fill="#fff"/><polygon points="76.80,12.20 77.69,14.58 80.22,14.69 78.24,16.27 78.92,18.71 76.80,17.31 74.68,18.71 75.36,16.27 73.38,14.69 75.91,14.58" fill="#fff"/><polygon points="71.70,23.80 72.59,26.18 75.12,26.29 73.14,27.87 73.82,30.31 71.70,28.91 69.58,30.31 70.26,27.87 68.28,26.29 70.81,26.18" fill="#fff"/><polygon points="65.70,34.40 66.59,36.78 69.12,36.89 67.14,38.47 67.82,40.91 65.70,39.51 63.58,40.91 64.26,38.47 62.28,36.89 64.81,36.78" fill="#fff"/><polygon points="57.60,40.20 58.49,42.58 61.02,42.69 59.04,44.27 59.72,46.71 57.60,45.31 55.48,46.71 56.16,44.27 54.18,42.69 56.71,42.58" fill="#fff"/><polygon points="48.50,44.10 49.39,46.48 51.92,46.59 49.94,48.17 50.62,50.61 48.50,49.21 46.38,50.61 47.06,48.17 45.08,46.59 47.61,46.48" fill="#fff"/><polygon points="34.30,45.00 35.19,47.38 37.72,47.49 35.74,49.07 36.42,51.51 34.30,50.11 32.18,51.51 32.86,49.07 30.88,47.49 33.41,47.38" fill="#fff"/><polygon points="19.20,47.00 20.09,49.38 22.62,49.49 20.64,51.07 21.32,53.51 19.20,52.11 17.08,53.51 17.76,51.07 15.78,49.49 18.31,49.38" fill="#fff"/><polygon points="24.20,31.50 25.09,33.88 27.62,33.99 25.64,35.57 26.32,38.01 24.20,36.61 22.08,38.01 22.76,35.57 20.78,33.99 23.31,33.88" fill="#fff"/><polygon points="30.30,20.00 31.19,22.38 33.72,22.49 31.74,24.07 32.42,26.51 30.30,25.11 28.18,26.51 28.86,24.07 26.88,22.49 29.41,22.38" fill="#fff"/><path d="M16 55 Q30 36 55 28.5" stroke="#fff" stroke-width="1.5" fill="none"/></svg>
<div style="position:absolute;left:917.5px;top:1176.9px;height:27.3px;line-height:27.3px;white-space:nowrap;font-size:19.5px;font-weight:400;color:#3a2714;letter-spacing:0.9px;">Produit bio</div>
<div style="position:absolute;left:787.0px;top:1262.0px;height:27.3px;line-height:27.3px;white-space:nowrap;font-size:19.5px;font-weight:400;color:#3a2714;letter-spacing:0.9px;">Produit de saison</div>
<svg style="position:absolute;left:951px;top:1218px" width="85" height="83" viewBox="100 90 1265 1240" preserveAspectRatio="none"><g fill="none" stroke="#111" stroke-width="27" stroke-linecap="round" stroke-linejoin="round"><circle cx="745" cy="285" r="105"/><path d="M745 100 V168 M745 402 V470 M560 285 H628 M862 285 H930"/><path d="M836 376 L857 397"/><path d="M654 376 L633 397"/><path d="M654 194 L633 173"/><path d="M836 194 L857 173"/><path transform="translate(370 495) rotate(-45.0)" d="M0 -20 L119 -20 L119 -58 L205 0 L119 58 L119 20 L0 20 Z"/><path transform="translate(1000 355) rotate(48.6)" d="M0 -20 L131 -20 L131 -58 L227 0 L131 58 L131 20 L0 20 Z"/><path transform="translate(1135 925) rotate(129.5)" d="M0 -20 L128 -20 L128 -58 L220 0 L128 58 L128 20 L0 20 Z"/><path transform="translate(505 1105) rotate(-136.9)" d="M0 -20 L123 -20 L123 -58 L212 0 L123 58 L123 20 L0 20 Z"/><ellipse cx="405" cy="735" rx="72" ry="62" transform="rotate(5 405 735)"/><ellipse cx="341" cy="825" rx="72" ry="62" transform="rotate(65 341 825)"/><ellipse cx="232" cy="815" rx="72" ry="62" transform="rotate(125 232 815)"/><ellipse cx="185" cy="715" rx="72" ry="62" transform="rotate(185 185 715)"/><ellipse cx="249" cy="625" rx="72" ry="62" transform="rotate(245 249 625)"/><ellipse cx="358" cy="635" rx="72" ry="62" transform="rotate(305 358 635)"/><circle cx="295" cy="725" r="45"/><path d="M950 770 Q955 700 1040 690 Q1060 600 1165 600 Q1260 600 1275 680 Q1350 690 1348 770 Z"/><path d="M965 820 l-12 30 M1010 820 l-12 30 M1055 820 l-12 30 M1100 820 l-12 30 M1145 820 l-12 30 M1190 820 l-12 30 M1235 820 l-12 30 M1280 820 l-12 30 M1325 820 l-12 30" stroke-width="20"/></g><g fill="none" stroke="#111" stroke-width="40" stroke-linecap="round"><path d="M745 1203 L745 1315"/><path d="M745 1275 L780 1317" stroke-width="32"/><path d="M745 1275 L710 1317" stroke-width="32"/><path d="M712 1184 L615 1240"/><path d="M650 1220 L631 1272" stroke-width="32"/><path d="M650 1220 L596 1210" stroke-width="32"/><path d="M712 1146 L615 1090"/><path d="M650 1110 L596 1120" stroke-width="32"/><path d="M650 1110 L631 1058" stroke-width="32"/><path d="M745 1127 L745 1015"/><path d="M745 1055 L710 1013" stroke-width="32"/><path d="M745 1055 L780 1013" stroke-width="32"/><path d="M778 1146 L875 1090"/><path d="M840 1110 L859 1058" stroke-width="32"/><path d="M840 1110 L894 1120" stroke-width="32"/><path d="M778 1184 L875 1240"/><path d="M840 1220 L894 1210" stroke-width="32"/><path d="M840 1220 L859 1272" stroke-width="32"/><circle cx="745" cy="1165" r="30" stroke-width="20"/></g></svg>
<svg style="position:absolute;left:1054px;top:1035.5px" width="76" height="76.5" viewBox="65 90 1265 1270" preserveAspectRatio="none"><rect x="65" y="90" width="1265" height="1270" fill="#fff"/><polyline points="1278.0,720.0 1276.9,735.1 1273.8,750.1 1268.8,764.8 1262.5,779.1 1255.2,793.1 1247.6,806.7 1240.2,820.1 1233.5,833.4 1227.9,846.7 1223.5,860.3 1220.5,874.2 1218.7,888.5 1217.9,903.4 1217.6,918.7 1217.4,934.3 1216.7,950.0 1215.0,965.6 1211.9,980.8 1207.2,995.4 1200.6,1009.0 1192.1,1021.5 1181.9,1032.9 1170.2,1043.2 1157.5,1052.4 1144.3,1060.9 1130.9,1068.9 1117.8,1076.8 1105.3,1085.0 1093.8,1093.7 1083.3,1103.3 1073.7,1113.8 1065.0,1125.3 1056.8,1137.8 1048.9,1150.9 1040.9,1164.3 1032.4,1177.5 1023.2,1190.2 1012.9,1201.9 1001.5,1212.1 989.0,1220.6 975.4,1227.2 960.8,1231.9 945.6,1235.0 930.0,1236.7 914.3,1237.4 898.7,1237.6 883.4,1237.9 868.5,1238.7 854.2,1240.5 840.3,1243.5 826.7,1247.9 813.4,1253.5 800.1,1260.2 786.7,1267.6 773.1,1275.2 759.1,1282.5 744.8,1288.8 730.1,1293.8 715.1,1296.9 700.0,1298.0 684.9,1296.9 669.9,1293.8 655.2,1288.8 640.9,1282.5 626.9,1275.2 613.3,1267.6 599.9,1260.2 586.6,1253.5 573.3,1247.9 559.7,1243.5 545.8,1240.5 531.5,1238.7 516.6,1237.9 501.3,1237.6 485.7,1237.4 470.0,1236.7 454.4,1235.0 439.2,1231.9 424.6,1227.2 411.0,1220.6 398.5,1212.1 387.1,1201.9 376.8,1190.2 367.6,1177.5 359.1,1164.3 351.1,1150.9 343.2,1137.8 335.0,1125.3 326.3,1113.8 316.7,1103.3 306.2,1093.7 294.7,1085.0 282.2,1076.8 269.1,1068.9 255.7,1060.9 242.5,1052.4 229.8,1043.2 218.1,1032.9 207.9,1021.5 199.4,1009.0 192.8,995.4 188.1,980.8 185.0,965.6 183.3,950.0 182.6,934.3 182.4,918.7 182.1,903.4 181.3,888.5 179.5,874.2 176.5,860.3 172.1,846.7 166.5,833.4 159.8,820.1 152.4,806.7 144.8,793.1 137.5,779.1 131.2,764.8 126.2,750.1 123.1,735.1 122.0,720.0 123.1,704.9 126.2,689.9 131.2,675.2 137.5,660.9 144.8,646.9 152.4,633.3 159.8,619.9 166.5,606.6 172.1,593.3 176.5,579.7 179.5,565.8 181.3,551.5 182.1,536.6 182.4,521.3 182.6,505.7 183.3,490.0 185.0,474.4 188.1,459.2 192.8,444.6 199.4,431.0 207.9,418.5 218.1,407.1 229.8,396.8 242.5,387.6 255.7,379.1 269.1,371.1 282.2,363.2 294.7,355.0 306.2,346.3 316.7,336.7 326.3,326.2 335.0,314.7 343.2,302.2 351.1,289.1 359.1,275.7 367.6,262.5 376.8,249.8 387.1,238.1 398.5,227.9 411.0,219.4 424.6,212.8 439.2,208.1 454.4,205.0 470.0,203.3 485.7,202.6 501.3,202.4 516.6,202.1 531.5,201.3 545.8,199.5 559.7,196.5 573.3,192.1 586.6,186.5 599.9,179.8 613.3,172.4 626.9,164.8 640.9,157.5 655.2,151.2 669.9,146.2 684.9,143.1 700.0,142.0 715.1,143.1 730.1,146.2 744.8,151.2 759.1,157.5 773.1,164.8 786.7,172.4 800.1,179.8 813.4,186.5 826.7,192.1 840.3,196.5 854.2,199.5 868.5,201.3 883.4,202.1 898.7,202.4 914.3,202.6 930.0,203.3 945.6,205.0 960.8,208.1 975.4,212.8 989.0,219.4 1001.5,227.9 1012.9,238.1 1023.2,249.8 1032.4,262.5 1040.9,275.7 1048.9,289.1 1056.8,302.2 1065.0,314.7 1073.7,326.2 1083.3,336.7 1093.8,346.3 1105.3,355.0 1117.8,363.2 1130.9,371.1 1144.3,379.1 1157.5,387.6 1170.2,396.8 1181.9,407.1 1192.1,418.5 1200.6,431.0 1207.2,444.6 1211.9,459.2 1215.0,474.4 1216.7,490.0 1217.4,505.7 1217.6,521.3 1217.9,536.6 1218.7,551.5 1220.5,565.8 1223.5,579.7 1227.9,593.3 1233.5,606.6 1240.2,619.9 1247.6,633.3 1255.2,646.9 1262.5,660.9 1268.8,675.2 1273.8,689.9 1276.9,704.9 1278.0,720.0" fill="none" stroke="#cf3030" stroke-width="22"/><path id="hvetop" d="M 300 760 A 400 400 0 0 1 1100 760" fill="none"/><path id="hvebot" d="M 250 800 A 450 450 0 0 0 1150 800" fill="none"/><path id="hvebot2" d="M 380 830 A 330 330 0 0 0 1020 830" fill="none"/><text font-family="Liberation Sans" font-weight="700" font-size="110" fill="#cf3030"><textPath href="#hvetop" textLength="1200">ISSU D’UNE EXPLOITATION</textPath></text><text font-family="Liberation Sans" font-weight="700" font-size="100" fill="#cf3030"><textPath href="#hvebot" textLength="1300">ENVIRONNEMENTALE</textPath></text><text font-family="Liberation Sans" font-weight="700" font-size="100" fill="#cf3030"><textPath href="#hvebot2" textLength="900">HAUTE VALEUR</textPath></text><circle cx="580" cy="600" r="80" fill="#d03030"/><g stroke="#d03030" stroke-width="18"><line x1="480" y1="600" x2="430" y2="600"/><line x1="489" y1="558" x2="444" y2="537"/><line x1="516" y1="523" x2="484" y2="485"/><line x1="554" y1="503" x2="541" y2="455"/><line x1="597" y1="502" x2="606" y2="452"/><line x1="637" y1="518" x2="666" y2="477"/><line x1="667" y1="550" x2="710" y2="525"/><line x1="680" y1="591" x2="729" y2="587"/></g><path d="M600 640 L760 620 L830 660 L830 760 L640 760 Z" fill="#d03030"/><rect x="665" y="710" width="40" height="50" fill="#fff"/><path d="M480 800 L920 740 M500 840 L930 780 M530 880 L900 830 M580 910 L850 880" stroke="#d03030" stroke-width="20"/><path d="M860 460 Q800 430 790 520 Q840 560 860 520 Q880 590 920 560 Q940 500 880 500 Z" fill="#d03030"/></svg>
<div style="position:absolute;left:1140.0px;top:1034.6px;height:27.3px;line-height:27.3px;white-space:nowrap;font-size:19.5px;font-weight:400;color:#3a2714;letter-spacing:0.9px;">Produit HVE</div>
<div style="position:absolute;left:1140.0px;top:1059.5px;height:27.3px;line-height:27.3px;white-space:nowrap;font-size:19.5px;font-weight:400;color:#3a2714;letter-spacing:-0.6px;">(haute valeur</div>
<div style="position:absolute;left:1140.0px;top:1084.3px;height:27.3px;line-height:27.3px;white-space:nowrap;font-size:19.5px;font-weight:400;color:#3a2714;letter-spacing:-0.6px;">environnementale)</div>
<div style="position:absolute;left:1074.0px;top:1162.3px;height:27.3px;line-height:27.3px;white-space:nowrap;font-size:19.5px;font-weight:400;color:#3a2714;letter-spacing:0.9px;">Fait maison</div>
<svg style="position:absolute;left:1228px;top:1141px" width="55" height="79" viewBox="0 0 47 65" preserveAspectRatio="none"><rect width="47" height="65" fill="#fdfefe"/><path d="M21.8 14.6 L8.6 29.8 L35.5 29.8 Z" fill="none" stroke="#3a3e46" stroke-width="2.4" stroke-linejoin="miter"/><rect x="28.9" y="13.5" width="4" height="11" fill="#3a3e46"/><rect x="0.5" y="35.4" width="34.4" height="1.9" fill="#3a3e46"/><rect x="9.95" y="36.35" width="24" height="10.6" fill="none" stroke="#3a3e46" stroke-width="1.9"/></svg>
<svg style="position:absolute;left:1063px;top:1227px" width="67" height="50" viewBox="135 300 910 700" preserveAspectRatio="none"><rect x="135" y="300" width="910" height="700" fill="#fff"/><ellipse cx="585" cy="640" rx="455" ry="325" fill="#e8202a"/><ellipse cx="585" cy="640" rx="425" ry="298" fill="none" stroke="#fff" stroke-width="7"/><text x="250" y="800" font-family="Liberation Serif" font-style="italic" font-size="150" fill="#fff" transform="rotate(-68 250 800)">label</text><text x="760" y="800" font-family="Liberation Serif" font-style="italic" font-size="140" fill="#fff" transform="rotate(-45 760 800)">ouge</text><path d="M555 300 L655 300 L310 975 L195 975 Z" fill="#fff"/><path d="M630 308 Q935 290 935 470 Q930 635 745 660 L680 660 L700 560 Q790 555 790 475 Q790 405 675 420 Z" fill="#fff"/><path d="M690 630 L770 630 L990 975 L875 975 Z" fill="#fff"/><path d="M430 760 L740 760 L725 800 L412 800 Z" fill="#fff"/><rect x="190" y="965" width="800" height="10" fill="#e8202a"/></svg>
<div style="position:absolute;left:1158.5px;top:1242.9px;height:27.3px;line-height:27.3px;white-space:nowrap;font-size:19.5px;font-weight:400;color:#3a2714;letter-spacing:0.9px;">Label rouge</div>
<svg style="position:absolute;left:60px;top:50px" width="340" height="100" viewBox="60 50 340 100"><rect x="71" y="59.4" width="68" height="6.6" fill="#6cc4d9"/><path d="M78.6 102 V82.4 A9 9 0 0 1 96.6 82.4 V102" fill="none" stroke="#135f7e" stroke-width="7"/><path d="M114.6 107.5 V82.4 A8.9 8.9 0 0 1 132.4 82.4 V107.5" fill="none" stroke="#135f7e" stroke-width="7"/><path d="M72 108 C 88 103, 104 115, 120 111 S 134 107, 139 109" fill="none" stroke="#6cc4d9" stroke-width="3.6"/><path d="M72 116.3 C 88 111.3, 104 123.3, 120 119.3 S 134 115.3, 139 117.3" fill="none" stroke="#6cc4d9" stroke-width="3.6"/><path d="M72 124.6 C 88 119.6, 104 131.6, 120 127.6 S 134 123.6, 139 125.6" fill="none" stroke="#6cc4d9" stroke-width="3.6"/></svg><div style="position:absolute;left:146px;top:59.5px;font-size:28px;line-height:22.4px;color:#135f7e;letter-spacing:0.35px;-webkit-text-stroke:0.6px #135f7e;white-space:nowrap;transform:scaleY(1.14);transform-origin:0 0;">SAINTES<br>GRANDES RIVES</div><div style="position:absolute;left:270px;top:112px;font-family:'Liberation Serif',serif;font-style:italic;font-size:35px;line-height:36px;color:#6cc4d9;transform:rotate(-11deg);transform-origin:left bottom;white-space:nowrap;letter-spacing:2px;">L’Agglo</div>
<svg style="position:absolute;left:1820px;top:20px" width="170" height="140" viewBox="1820 20 170 140"><rect x="1823" y="53.5" width="111" height="51" fill="#1b69b4"/><rect x="1823" y="104.4" width="111" height="51" fill="#0b4285"/><text x="1829.5" y="76.5" font-family="Liberation Sans" font-size="19" fill="#fff" letter-spacing="0.3">manger</text><text x="1829.5" y="92" font-family="Liberation Sans" font-size="19" fill="#fff" letter-spacing="0.3">bouger</text><path d="M1830 100 Q1852 112 1884 95 Q1856 106 1830 100 Z" fill="#e0253a" stroke="#e0253a" stroke-width="1.5"/><text x="1829.5" y="118.5" font-family="Liberation Sans" font-size="10" font-weight="700" fill="#fff" letter-spacing="0.6">P<tspan font-size="7.6" font-weight="400">ROGRAMME</tspan></text><text x="1829.5" y="128.3" font-family="Liberation Sans" font-size="10" font-weight="700" fill="#fff" letter-spacing="0.6">N<tspan font-size="7.6" font-weight="400">ATIONAL</tspan></text><text x="1829.5" y="138.1" font-family="Liberation Sans" font-size="10" font-weight="700" fill="#fff" letter-spacing="0.6">N<tspan font-size="7.6" font-weight="400">UTRITION</tspan></text><text x="1829.5" y="147.9" font-family="Liberation Sans" font-size="10" font-weight="700" fill="#fff" letter-spacing="0.6">S<tspan font-size="7.6" font-weight="400">ANTÉ</tspan></text><circle cx="1917.5" cy="72.5" r="7" fill="#fff"/><path d="M1900 77 L1904 98 L1902 113 L1905 128 L1904 143 L1908 148 L1909 130 L1912 118 L1914 135 L1915 148 L1918 148 L1918 125 L1917 108 L1916 99 L1921 82 L1918 81 L1913 96 L1908 96 L1903 76 Z" fill="#fff"/><circle cx="1909" cy="93" r="4" fill="#fff"/><path id="vapath" d="M 1893.0 48.1 A 34.7 34.7 0 1 1 1935.75 101.85" fill="none"/><text font-family="Liberation Sans" font-weight="700" style="font-weight:700" font-size="16" fill="#111" stroke="#111" stroke-width="0.9"><textPath href="#vapath" textLength="106" lengthAdjust="spacing">VILLE ACTIVE</textPath></text></svg>
<svg style="position:absolute;left:1420px;top:995px" width="540" height="205" viewBox="1420 995 540 205"><path d="M1440 1030 L1915 1016 Q1948 1016 1946 1048 L1940 1160 Q1938 1190 1908 1191 L1445 1191 Q1425 1191 1425 1170 Z" fill="none" stroke="#0a5d7e" stroke-width="3"/><path d="M1432 1021 L1905 1005 Q1938 1004 1935 1035 L1920 1150 Q1916 1176 1890 1176.5 L1436 1177 Z" fill="#0a5d7e"/></svg><svg style="position:absolute;left:1335px;top:970px" width="140" height="235" viewBox="1335 970 140 235"><g stroke="#efd93e" stroke-width="7.5" stroke-linecap="round"><line x1="1405" y1="977" x2="1405" y2="1004"/><line x1="1345.5" y1="994.5" x2="1363" y2="1012"/><line x1="1460" y1="994.5" x2="1441" y2="1012"/></g><path d="M1380 1146 L1440 1146 L1440 1176 Q1432 1190 1418 1192 L1402 1192 Q1387 1190 1380 1176 Z" fill="#9a999e"/><g stroke="#fff" stroke-width="2.2"><line x1="1380" y1="1158" x2="1440" y2="1158"/><line x1="1380" y1="1171" x2="1440" y2="1171"/><line x1="1385" y1="1183" x2="1435" y2="1183"/></g><path d="M1400 1192 L1420 1192 Q1418 1199 1410 1199 Q1402 1199 1400 1192 Z" fill="#6d6c70"/><path d="M1410 1016.5 C1380 1016.5 1354 1040 1354 1070 C1354 1094 1370 1108 1377 1122 C1380 1130 1379 1140 1380 1147 L1440 1147 C1441 1140 1440 1130 1443 1122 C1450 1108 1466 1094 1466 1070 C1466 1040 1440 1016.5 1410 1016.5 Z" fill="#f6c520"/><path d="M1436 1022 C1456 1032 1466 1050 1466 1070 C1466 1094 1450 1108 1443 1122 C1440 1130 1441 1140 1440 1147 L1420 1147 C1430 1120 1450 1090 1436 1022 Z" fill="#eeb020"/><ellipse cx="1384" cy="1052" rx="6.5" ry="11" transform="rotate(20 1384 1052)" fill="#fbe08a" opacity="0.8"/><g fill="none" stroke="#263838" stroke-width="3.2"><path d="M1402 1147 L1402 1103 A11 11 0 1 0 1392 1101 L1418 1101"/><path d="M1418 1147 L1418 1103 A11 11 0 1 1 1428 1101 L1402 1101"/></g></svg><div style="position:absolute;left:1546px;top:963px;font-size:25px;font-weight:700;color:#1c5f83;white-space:nowrap;transform:rotate(-2.8deg);transform-origin:center;line-height:30px;">LE SAVIEZ-VOUS ?</div><div style="position:absolute;left:1393.5px;top:1043.0px;width:600px;height:30px;line-height:30px;text-align:center;font-size:22px;color:#fff;white-space:nowrap;">Une fois par mois, nous proposons un</div><div style="position:absolute;left:1393.5px;top:1073.2px;width:600px;height:30px;line-height:30px;text-align:center;font-size:22px;color:#fff;white-space:nowrap;">service de pâtes semi-complètes bio et</div><div style="position:absolute;left:1393.5px;top:1103.4px;width:600px;height:30px;line-height:30px;text-align:center;font-size:22px;color:#fff;white-space:nowrap;">locales (Rouillac-16)</div><div style="position:absolute;left:1472.5px;top:1141.5px;width:147px;height:147px;transform:rotate(-8.2deg);background:linear-gradient(165deg,#d9d8dc 0%,#d2d1d5 50%,#c4c3c8 100%);overflow:hidden;"><svg width="147" height="147" viewBox="0 0 147 147"><ellipse cx="38" cy="56" rx="41" ry="31" transform="rotate(35 38 56)" fill="#c9bdb8" stroke="#eef2f2" stroke-width="1.6"/><path d="M28.1 34.8 a3.5 3.5 0 0 1 6 1.5" transform="rotate(234 28.1 34.8)" stroke="#b79d93" stroke-width="3.6" fill="none" stroke-linecap="round"/><path d="M44.1 84.1 a3.5 3.5 0 0 1 6 1.5" transform="rotate(77 44.1 84.1)" stroke="#b79d93" stroke-width="3.6" fill="none" stroke-linecap="round"/><path d="M34.9 29.5 a3.5 3.5 0 0 1 6 1.5" transform="rotate(33 34.9 29.5)" stroke="#a98d84" stroke-width="3.6" fill="none" stroke-linecap="round"/><path d="M11.7 61.8 a3.5 3.5 0 0 1 6 1.5" transform="rotate(341 11.7 61.8)" stroke="#c2a79c" stroke-width="3.6" fill="none" stroke-linecap="round"/><path d="M46.9 86.6 a3.5 3.5 0 0 1 6 1.5" transform="rotate(208 46.9 86.6)" stroke="#a98d84" stroke-width="3.6" fill="none" stroke-linecap="round"/><path d="M11.1 39.4 a3.5 3.5 0 0 1 6 1.5" transform="rotate(200 11.1 39.4)" stroke="#b79d93" stroke-width="3.6" fill="none" stroke-linecap="round"/><path d="M26.0 34.4 a3.5 3.5 0 0 1 6 1.5" transform="rotate(42 26.0 34.4)" stroke="#a98d84" stroke-width="3.6" fill="none" stroke-linecap="round"/><path d="M42.7 69.3 a3.5 3.5 0 0 1 6 1.5" transform="rotate(37 42.7 69.3)" stroke="#c2a79c" stroke-width="3.6" fill="none" stroke-linecap="round"/><path d="M47.6 49.2 a3.5 3.5 0 0 1 6 1.5" transform="rotate(197 47.6 49.2)" stroke="#b79d93" stroke-width="3.6" fill="none" stroke-linecap="round"/><path d="M43.0 65.2 a3.5 3.5 0 0 1 6 1.5" transform="rotate(179 43.0 65.2)" stroke="#c2a79c" stroke-width="3.6" fill="none" stroke-linecap="round"/><path d="M34.5 45.4 a3.5 3.5 0 0 1 6 1.5" transform="rotate(211 34.5 45.4)" stroke="#a98d84" stroke-width="3.6" fill="none" stroke-linecap="round"/><path d="M30.4 41.1 a3.5 3.5 0 0 1 6 1.5" transform="rotate(65 30.4 41.1)" stroke="#b79d93" stroke-width="3.6" fill="none" stroke-linecap="round"/><path d="M13.1 44.5 a3.5 3.5 0 0 1 6 1.5" transform="rotate(178 13.1 44.5)" stroke="#a98d84" stroke-width="3.6" fill="none" stroke-linecap="round"/><path d="M53.2 43.7 a3.5 3.5 0 0 1 6 1.5" transform="rotate(353 53.2 43.7)" stroke="#b79d93" stroke-width="3.6" fill="none" stroke-linecap="round"/><path d="M39.7 35.7 a3.5 3.5 0 0 1 6 1.5" transform="rotate(123 39.7 35.7)" stroke="#a98d84" stroke-width="3.6" fill="none" stroke-linecap="round"/><path d="M12.8 61.3 a3.5 3.5 0 0 1 6 1.5" transform="rotate(284 12.8 61.3)" stroke="#a98d84" stroke-width="3.6" fill="none" stroke-linecap="round"/><path d="M29.1 47.8 a3.5 3.5 0 0 1 6 1.5" transform="rotate(179 29.1 47.8)" stroke="#a98d84" stroke-width="3.6" fill="none" stroke-linecap="round"/><path d="M12.3 31.1 a3.5 3.5 0 0 1 6 1.5" transform="rotate(97 12.3 31.1)" stroke="#c2a79c" stroke-width="3.6" fill="none" stroke-linecap="round"/><path d="M51.5 67.1 a3.5 3.5 0 0 1 6 1.5" transform="rotate(358 51.5 67.1)" stroke="#a98d84" stroke-width="3.6" fill="none" stroke-linecap="round"/><path d="M25.6 50.1 a3.5 3.5 0 0 1 6 1.5" transform="rotate(241 25.6 50.1)" stroke="#b79d93" stroke-width="3.6" fill="none" stroke-linecap="round"/><path d="M66.3 48.1 a3.5 3.5 0 0 1 6 1.5" transform="rotate(220 66.3 48.1)" stroke="#a98d84" stroke-width="3.6" fill="none" stroke-linecap="round"/><path d="M16.0 41.1 a3.5 3.5 0 0 1 6 1.5" transform="rotate(141 16.0 41.1)" stroke="#a98d84" stroke-width="3.6" fill="none" stroke-linecap="round"/><path d="M13.0 54.2 a3.5 3.5 0 0 1 6 1.5" transform="rotate(198 13.0 54.2)" stroke="#b79d93" stroke-width="3.6" fill="none" stroke-linecap="round"/><path d="M58.8 81.2 a3.5 3.5 0 0 1 6 1.5" transform="rotate(100 58.8 81.2)" stroke="#a98d84" stroke-width="3.6" fill="none" stroke-linecap="round"/><path d="M69.2 69.4 a3.5 3.5 0 0 1 6 1.5" transform="rotate(137 69.2 69.4)" stroke="#b79d93" stroke-width="3.6" fill="none" stroke-linecap="round"/><path d="M17.4 36.5 a3.5 3.5 0 0 1 6 1.5" transform="rotate(84 17.4 36.5)" stroke="#b79d93" stroke-width="3.6" fill="none" stroke-linecap="round"/><path d="M19.3 43.3 a3.5 3.5 0 0 1 6 1.5" transform="rotate(52 19.3 43.3)" stroke="#c2a79c" stroke-width="3.6" fill="none" stroke-linecap="round"/><path d="M30.9 61.8 a3.5 3.5 0 0 1 6 1.5" transform="rotate(343 30.9 61.8)" stroke="#c2a79c" stroke-width="3.6" fill="none" stroke-linecap="round"/><path d="M48.6 73.1 a3.5 3.5 0 0 1 6 1.5" transform="rotate(164 48.6 73.1)" stroke="#c2a79c" stroke-width="3.6" fill="none" stroke-linecap="round"/><path d="M57.5 50.5 a3.5 3.5 0 0 1 6 1.5" transform="rotate(144 57.5 50.5)" stroke="#b79d93" stroke-width="3.6" fill="none" stroke-linecap="round"/><path d="M37.9 51.0 a3.5 3.5 0 0 1 6 1.5" transform="rotate(69 37.9 51.0)" stroke="#b79d93" stroke-width="3.6" fill="none" stroke-linecap="round"/><path d="M35.3 32.1 a3.5 3.5 0 0 1 6 1.5" transform="rotate(216 35.3 32.1)" stroke="#b79d93" stroke-width="3.6" fill="none" stroke-linecap="round"/><path d="M8.0 34.8 a3.5 3.5 0 0 1 6 1.5" transform="rotate(37 8.0 34.8)" stroke="#a98d84" stroke-width="3.6" fill="none" stroke-linecap="round"/><path d="M20.9 49.5 a3.5 3.5 0 0 1 6 1.5" transform="rotate(228 20.9 49.5)" stroke="#a98d84" stroke-width="3.6" fill="none" stroke-linecap="round"/><path d="M45.3 55.8 a3.5 3.5 0 0 1 6 1.5" transform="rotate(42 45.3 55.8)" stroke="#a98d84" stroke-width="3.6" fill="none" stroke-linecap="round"/><path d="M69.6 55.3 a3.5 3.5 0 0 1 6 1.5" transform="rotate(174 69.6 55.3)" stroke="#b79d93" stroke-width="3.6" fill="none" stroke-linecap="round"/><path d="M53.9 56.1 a3.5 3.5 0 0 1 6 1.5" transform="rotate(249 53.9 56.1)" stroke="#c2a79c" stroke-width="3.6" fill="none" stroke-linecap="round"/><path d="M40.8 34.5 a3.5 3.5 0 0 1 6 1.5" transform="rotate(196 40.8 34.5)" stroke="#b79d93" stroke-width="3.6" fill="none" stroke-linecap="round"/><path d="M55.0 44.4 a3.5 3.5 0 0 1 6 1.5" transform="rotate(231 55.0 44.4)" stroke="#b79d93" stroke-width="3.6" fill="none" stroke-linecap="round"/><path d="M51.2 42.0 a3.5 3.5 0 0 1 6 1.5" transform="rotate(132 51.2 42.0)" stroke="#b79d93" stroke-width="3.6" fill="none" stroke-linecap="round"/><path d="M30.1 39.5 a3.5 3.5 0 0 1 6 1.5" transform="rotate(195 30.1 39.5)" stroke="#c2a79c" stroke-width="3.6" fill="none" stroke-linecap="round"/><path d="M28.4 39.5 a3.5 3.5 0 0 1 6 1.5" transform="rotate(292 28.4 39.5)" stroke="#b79d93" stroke-width="3.6" fill="none" stroke-linecap="round"/><path d="M58.0 78.2 a3.5 3.5 0 0 1 6 1.5" transform="rotate(266 58.0 78.2)" stroke="#b79d93" stroke-width="3.6" fill="none" stroke-linecap="round"/><path d="M20.4 57.0 a3.5 3.5 0 0 1 6 1.5" transform="rotate(263 20.4 57.0)" stroke="#b79d93" stroke-width="3.6" fill="none" stroke-linecap="round"/><path d="M57.0 55.7 a3.5 3.5 0 0 1 6 1.5" transform="rotate(70 57.0 55.7)" stroke="#c2a79c" stroke-width="3.6" fill="none" stroke-linecap="round"/><path d="M67.3 54.1 a3.5 3.5 0 0 1 6 1.5" transform="rotate(337 67.3 54.1)" stroke="#a98d84" stroke-width="3.6" fill="none" stroke-linecap="round"/><path d="M67.2 48.7 a3.5 3.5 0 0 1 6 1.5" transform="rotate(79 67.2 48.7)" stroke="#b79d93" stroke-width="3.6" fill="none" stroke-linecap="round"/><path d="M37.1 47.0 a3.5 3.5 0 0 1 6 1.5" transform="rotate(174 37.1 47.0)" stroke="#c2a79c" stroke-width="3.6" fill="none" stroke-linecap="round"/><path d="M60.1 56.2 a3.5 3.5 0 0 1 6 1.5" transform="rotate(235 60.1 56.2)" stroke="#c2a79c" stroke-width="3.6" fill="none" stroke-linecap="round"/><path d="M13.3 67.9 a3.5 3.5 0 0 1 6 1.5" transform="rotate(328 13.3 67.9)" stroke="#c2a79c" stroke-width="3.6" fill="none" stroke-linecap="round"/><path d="M54.5 56.1 a3.5 3.5 0 0 1 6 1.5" transform="rotate(64 54.5 56.1)" stroke="#c2a79c" stroke-width="3.6" fill="none" stroke-linecap="round"/><path d="M28.6 77.1 a3.5 3.5 0 0 1 6 1.5" transform="rotate(350 28.6 77.1)" stroke="#a98d84" stroke-width="3.6" fill="none" stroke-linecap="round"/><path d="M36.7 73.3 a3.5 3.5 0 0 1 6 1.5" transform="rotate(31 36.7 73.3)" stroke="#b79d93" stroke-width="3.6" fill="none" stroke-linecap="round"/><path d="M18.5 33.3 a3.5 3.5 0 0 1 6 1.5" transform="rotate(54 18.5 33.3)" stroke="#a98d84" stroke-width="3.6" fill="none" stroke-linecap="round"/><path d="M48.8 47.8 a3.5 3.5 0 0 1 6 1.5" transform="rotate(198 48.8 47.8)" stroke="#b79d93" stroke-width="3.6" fill="none" stroke-linecap="round"/><path d="M21.2 57.6 a3.5 3.5 0 0 1 6 1.5" transform="rotate(275 21.2 57.6)" stroke="#a98d84" stroke-width="3.6" fill="none" stroke-linecap="round"/><path d="M24.1 52.2 a3.5 3.5 0 0 1 6 1.5" transform="rotate(47 24.1 52.2)" stroke="#c2a79c" stroke-width="3.6" fill="none" stroke-linecap="round"/><path d="M29.9 54.8 a3.5 3.5 0 0 1 6 1.5" transform="rotate(210 29.9 54.8)" stroke="#c2a79c" stroke-width="3.6" fill="none" stroke-linecap="round"/><path d="M39.1 59.6 a3.5 3.5 0 0 1 6 1.5" transform="rotate(188 39.1 59.6)" stroke="#b79d93" stroke-width="3.6" fill="none" stroke-linecap="round"/><path d="M62.1 75.5 a3.5 3.5 0 0 1 6 1.5" transform="rotate(219 62.1 75.5)" stroke="#b79d93" stroke-width="3.6" fill="none" stroke-linecap="round"/><path d="M18.7 55.8 a3.5 3.5 0 0 1 6 1.5" transform="rotate(261 18.7 55.8)" stroke="#c2a79c" stroke-width="3.6" fill="none" stroke-linecap="round"/><path d="M40.9 56.4 a3.5 3.5 0 0 1 6 1.5" transform="rotate(280 40.9 56.4)" stroke="#c2a79c" stroke-width="3.6" fill="none" stroke-linecap="round"/><path d="M11.5 37.4 a3.5 3.5 0 0 1 6 1.5" transform="rotate(15 11.5 37.4)" stroke="#b79d93" stroke-width="3.6" fill="none" stroke-linecap="round"/><path d="M39.5 61.5 a3.5 3.5 0 0 1 6 1.5" transform="rotate(274 39.5 61.5)" stroke="#b79d93" stroke-width="3.6" fill="none" stroke-linecap="round"/><path d="M35.5 64.8 a3.5 3.5 0 0 1 6 1.5" transform="rotate(182 35.5 64.8)" stroke="#c2a79c" stroke-width="3.6" fill="none" stroke-linecap="round"/><path d="M20.4 43.0 a3.5 3.5 0 0 1 6 1.5" transform="rotate(183 20.4 43.0)" stroke="#a98d84" stroke-width="3.6" fill="none" stroke-linecap="round"/><path d="M39.5 41.1 a3.5 3.5 0 0 1 6 1.5" transform="rotate(188 39.5 41.1)" stroke="#a98d84" stroke-width="3.6" fill="none" stroke-linecap="round"/><path d="M20.6 54.1 a3.5 3.5 0 0 1 6 1.5" transform="rotate(150 20.6 54.1)" stroke="#a98d84" stroke-width="3.6" fill="none" stroke-linecap="round"/><path d="M35.4 29.7 a3.5 3.5 0 0 1 6 1.5" transform="rotate(87 35.4 29.7)" stroke="#b79d93" stroke-width="3.6" fill="none" stroke-linecap="round"/><path d="M21.2 44.7 a3.5 3.5 0 0 1 6 1.5" transform="rotate(44 21.2 44.7)" stroke="#b79d93" stroke-width="3.6" fill="none" stroke-linecap="round"/><path d="M66.2 66.8 a3.5 3.5 0 0 1 6 1.5" transform="rotate(132 66.2 66.8)" stroke="#a98d84" stroke-width="3.6" fill="none" stroke-linecap="round"/><path d="M32.7 56.7 a3.5 3.5 0 0 1 6 1.5" transform="rotate(356 32.7 56.7)" stroke="#b79d93" stroke-width="3.6" fill="none" stroke-linecap="round"/><path d="M18.0 53.0 a3.5 3.5 0 0 1 6 1.5" transform="rotate(186 18.0 53.0)" stroke="#a98d84" stroke-width="3.6" fill="none" stroke-linecap="round"/><path d="M34.1 48.2 a3.5 3.5 0 0 1 6 1.5" transform="rotate(33 34.1 48.2)" stroke="#a98d84" stroke-width="3.6" fill="none" stroke-linecap="round"/><path d="M9.2 61.0 a3.5 3.5 0 0 1 6 1.5" transform="rotate(159 9.2 61.0)" stroke="#b79d93" stroke-width="3.6" fill="none" stroke-linecap="round"/><path d="M31.8 58.6 a3.5 3.5 0 0 1 6 1.5" transform="rotate(106 31.8 58.6)" stroke="#b79d93" stroke-width="3.6" fill="none" stroke-linecap="round"/><path d="M13.2 42.7 a3.5 3.5 0 0 1 6 1.5" transform="rotate(326 13.2 42.7)" stroke="#b79d93" stroke-width="3.6" fill="none" stroke-linecap="round"/><path d="M24.8 33.4 a3.5 3.5 0 0 1 6 1.5" transform="rotate(152 24.8 33.4)" stroke="#c2a79c" stroke-width="3.6" fill="none" stroke-linecap="round"/><path d="M58.8 41.8 a3.5 3.5 0 0 1 6 1.5" transform="rotate(54 58.8 41.8)" stroke="#c2a79c" stroke-width="3.6" fill="none" stroke-linecap="round"/><path d="M43.4 70.5 a3.5 3.5 0 0 1 6 1.5" transform="rotate(32 43.4 70.5)" stroke="#b79d93" stroke-width="3.6" fill="none" stroke-linecap="round"/><path d="M24.2 64.5 a3.5 3.5 0 0 1 6 1.5" transform="rotate(80 24.2 64.5)" stroke="#a98d84" stroke-width="3.6" fill="none" stroke-linecap="round"/><path d="M61.5 54.5 a3.5 3.5 0 0 1 6 1.5" transform="rotate(122 61.5 54.5)" stroke="#c2a79c" stroke-width="3.6" fill="none" stroke-linecap="round"/><path d="M52.0 86.0 a3.5 3.5 0 0 1 6 1.5" transform="rotate(349 52.0 86.0)" stroke="#a98d84" stroke-width="3.6" fill="none" stroke-linecap="round"/><path d="M11.1 38.1 a3.5 3.5 0 0 1 6 1.5" transform="rotate(112 11.1 38.1)" stroke="#a98d84" stroke-width="3.6" fill="none" stroke-linecap="round"/><path d="M40.9 38.4 a3.5 3.5 0 0 1 6 1.5" transform="rotate(160 40.9 38.4)" stroke="#c2a79c" stroke-width="3.6" fill="none" stroke-linecap="round"/><path d="M19.0 47.6 a3.5 3.5 0 0 1 6 1.5" transform="rotate(7 19.0 47.6)" stroke="#a98d84" stroke-width="3.6" fill="none" stroke-linecap="round"/><path d="M39.9 41.0 a3.5 3.5 0 0 1 6 1.5" transform="rotate(161 39.9 41.0)" stroke="#c2a79c" stroke-width="3.6" fill="none" stroke-linecap="round"/><path d="M58.8 53.1 a3.5 3.5 0 0 1 6 1.5" transform="rotate(178 58.8 53.1)" stroke="#a98d84" stroke-width="3.6" fill="none" stroke-linecap="round"/><path d="M21.3 39.9 a3.5 3.5 0 0 1 6 1.5" transform="rotate(72 21.3 39.9)" stroke="#c2a79c" stroke-width="3.6" fill="none" stroke-linecap="round"/><path d="M53.2 34.1 a3.5 3.5 0 0 1 6 1.5" transform="rotate(356 53.2 34.1)" stroke="#b79d93" stroke-width="3.6" fill="none" stroke-linecap="round"/><path d="M46.8 82.2 a3.5 3.5 0 0 1 6 1.5" transform="rotate(155 46.8 82.2)" stroke="#b79d93" stroke-width="3.6" fill="none" stroke-linecap="round"/><path d="M62.0 68.6 a3.5 3.5 0 0 1 6 1.5" transform="rotate(101 62.0 68.6)" stroke="#b79d93" stroke-width="3.6" fill="none" stroke-linecap="round"/><path d="M19.5 42.5 a3.5 3.5 0 0 1 6 1.5" transform="rotate(1 19.5 42.5)" stroke="#a98d84" stroke-width="3.6" fill="none" stroke-linecap="round"/><path d="M41.9 40.9 a3.5 3.5 0 0 1 6 1.5" transform="rotate(348 41.9 40.9)" stroke="#a98d84" stroke-width="3.6" fill="none" stroke-linecap="round"/><path d="M21.5 36.9 a3.5 3.5 0 0 1 6 1.5" transform="rotate(121 21.5 36.9)" stroke="#b79d93" stroke-width="3.6" fill="none" stroke-linecap="round"/><path d="M37.4 57.7 a3.5 3.5 0 0 1 6 1.5" transform="rotate(72 37.4 57.7)" stroke="#c2a79c" stroke-width="3.6" fill="none" stroke-linecap="round"/><path d="M44.4 50.6 a3.5 3.5 0 0 1 6 1.5" transform="rotate(108 44.4 50.6)" stroke="#c2a79c" stroke-width="3.6" fill="none" stroke-linecap="round"/><path d="M22.4 63.1 a3.5 3.5 0 0 1 6 1.5" transform="rotate(191 22.4 63.1)" stroke="#b79d93" stroke-width="3.6" fill="none" stroke-linecap="round"/><path d="M48.8 71.5 a3.5 3.5 0 0 1 6 1.5" transform="rotate(316 48.8 71.5)" stroke="#a98d84" stroke-width="3.6" fill="none" stroke-linecap="round"/><path d="M55.4 71.8 a3.5 3.5 0 0 1 6 1.5" transform="rotate(178 55.4 71.8)" stroke="#a98d84" stroke-width="3.6" fill="none" stroke-linecap="round"/><path d="M52.9 66.8 a3.5 3.5 0 0 1 6 1.5" transform="rotate(16 52.9 66.8)" stroke="#c2a79c" stroke-width="3.6" fill="none" stroke-linecap="round"/><path d="M63.3 65.8 a3.5 3.5 0 0 1 6 1.5" transform="rotate(264 63.3 65.8)" stroke="#c2a79c" stroke-width="3.6" fill="none" stroke-linecap="round"/><path d="M16.6 59.0 a3.5 3.5 0 0 1 6 1.5" transform="rotate(182 16.6 59.0)" stroke="#b79d93" stroke-width="3.6" fill="none" stroke-linecap="round"/><path d="M24 44 Q34 36 46 40" stroke="#f6f8f8" stroke-width="1.4" fill="none" opacity="0.9"/><ellipse cx="64" cy="77" rx="8" ry="14" transform="rotate(35 64 77)" fill="none" stroke="#e4ebea" stroke-width="2"/><path d="M99.8 84.2 a4.5 4.5 0 0 1 8 2" transform="rotate(321 99.8 84.2)" stroke="#c89d8e" stroke-width="4.2" fill="none" stroke-linecap="round"/><path d="M94.0 105.4 a4.5 4.5 0 0 1 8 2" transform="rotate(229 94.0 105.4)" stroke="#cfa697" stroke-width="4.2" fill="none" stroke-linecap="round"/><path d="M77.5 115.3 a4.5 4.5 0 0 1 8 2" transform="rotate(18 77.5 115.3)" stroke="#cfa697" stroke-width="4.2" fill="none" stroke-linecap="round"/><path d="M73.0 85.8 a4.5 4.5 0 0 1 8 2" transform="rotate(176 73.0 85.8)" stroke="#cfa697" stroke-width="4.2" fill="none" stroke-linecap="round"/><path d="M84.1 104.6 a4.5 4.5 0 0 1 8 2" transform="rotate(336 84.1 104.6)" stroke="#cfa697" stroke-width="4.2" fill="none" stroke-linecap="round"/><path d="M86.8 98.0 a4.5 4.5 0 0 1 8 2" transform="rotate(265 86.8 98.0)" stroke="#d6b0a2" stroke-width="4.2" fill="none" stroke-linecap="round"/><path d="M101.3 74.2 a4.5 4.5 0 0 1 8 2" transform="rotate(85 101.3 74.2)" stroke="#c89d8e" stroke-width="4.2" fill="none" stroke-linecap="round"/><path d="M92.8 126.0 a4.5 4.5 0 0 1 8 2" transform="rotate(166 92.8 126.0)" stroke="#bf9384" stroke-width="4.2" fill="none" stroke-linecap="round"/><path d="M121.1 119.3 a4.5 4.5 0 0 1 8 2" transform="rotate(103 121.1 119.3)" stroke="#cfa697" stroke-width="4.2" fill="none" stroke-linecap="round"/><path d="M73.0 87.6 a4.5 4.5 0 0 1 8 2" transform="rotate(28 73.0 87.6)" stroke="#c89d8e" stroke-width="4.2" fill="none" stroke-linecap="round"/><path d="M78.6 123.2 a4.5 4.5 0 0 1 8 2" transform="rotate(249 78.6 123.2)" stroke="#c89d8e" stroke-width="4.2" fill="none" stroke-linecap="round"/><path d="M95.6 103.4 a4.5 4.5 0 0 1 8 2" transform="rotate(97 95.6 103.4)" stroke="#cfa697" stroke-width="4.2" fill="none" stroke-linecap="round"/><path d="M81.5 80.6 a4.5 4.5 0 0 1 8 2" transform="rotate(105 81.5 80.6)" stroke="#d6b0a2" stroke-width="4.2" fill="none" stroke-linecap="round"/><path d="M72.5 106.9 a4.5 4.5 0 0 1 8 2" transform="rotate(43 72.5 106.9)" stroke="#c89d8e" stroke-width="4.2" fill="none" stroke-linecap="round"/><path d="M87.4 109.3 a4.5 4.5 0 0 1 8 2" transform="rotate(170 87.4 109.3)" stroke="#d6b0a2" stroke-width="4.2" fill="none" stroke-linecap="round"/><path d="M61.4 110.6 a4.5 4.5 0 0 1 8 2" transform="rotate(349 61.4 110.6)" stroke="#bf9384" stroke-width="4.2" fill="none" stroke-linecap="round"/><path d="M105.8 102.4 a4.5 4.5 0 0 1 8 2" transform="rotate(330 105.8 102.4)" stroke="#c89d8e" stroke-width="4.2" fill="none" stroke-linecap="round"/><path d="M96.2 106.1 a4.5 4.5 0 0 1 8 2" transform="rotate(269 96.2 106.1)" stroke="#d6b0a2" stroke-width="4.2" fill="none" stroke-linecap="round"/><path d="M98.2 100.5 a4.5 4.5 0 0 1 8 2" transform="rotate(295 98.2 100.5)" stroke="#d6b0a2" stroke-width="4.2" fill="none" stroke-linecap="round"/><path d="M108.9 86.7 a4.5 4.5 0 0 1 8 2" transform="rotate(83 108.9 86.7)" stroke="#bf9384" stroke-width="4.2" fill="none" stroke-linecap="round"/><path d="M82.6 108.8 a4.5 4.5 0 0 1 8 2" transform="rotate(342 82.6 108.8)" stroke="#bf9384" stroke-width="4.2" fill="none" stroke-linecap="round"/><path d="M68.6 117.4 a4.5 4.5 0 0 1 8 2" transform="rotate(150 68.6 117.4)" stroke="#bf9384" stroke-width="4.2" fill="none" stroke-linecap="round"/><path d="M77.6 131.0 a4.5 4.5 0 0 1 8 2" transform="rotate(1 77.6 131.0)" stroke="#d6b0a2" stroke-width="4.2" fill="none" stroke-linecap="round"/><path d="M94.3 96.1 a4.5 4.5 0 0 1 8 2" transform="rotate(334 94.3 96.1)" stroke="#cfa697" stroke-width="4.2" fill="none" stroke-linecap="round"/><path d="M100.8 95.3 a4.5 4.5 0 0 1 8 2" transform="rotate(134 100.8 95.3)" stroke="#bf9384" stroke-width="4.2" fill="none" stroke-linecap="round"/><path d="M65.1 123.6 a4.5 4.5 0 0 1 8 2" transform="rotate(28 65.1 123.6)" stroke="#bf9384" stroke-width="4.2" fill="none" stroke-linecap="round"/><path d="M91.1 71.6 a4.5 4.5 0 0 1 8 2" transform="rotate(101 91.1 71.6)" stroke="#cfa697" stroke-width="4.2" fill="none" stroke-linecap="round"/><path d="M96.7 91.7 a4.5 4.5 0 0 1 8 2" transform="rotate(337 96.7 91.7)" stroke="#c89d8e" stroke-width="4.2" fill="none" stroke-linecap="round"/><path d="M106.8 99.9 a4.5 4.5 0 0 1 8 2" transform="rotate(114 106.8 99.9)" stroke="#d6b0a2" stroke-width="4.2" fill="none" stroke-linecap="round"/><path d="M93.7 86.5 a4.5 4.5 0 0 1 8 2" transform="rotate(10 93.7 86.5)" stroke="#bf9384" stroke-width="4.2" fill="none" stroke-linecap="round"/><path d="M122.5 83.3 a4.5 4.5 0 0 1 8 2" transform="rotate(198 122.5 83.3)" stroke="#cfa697" stroke-width="4.2" fill="none" stroke-linecap="round"/><path d="M114.7 110.9 a4.5 4.5 0 0 1 8 2" transform="rotate(162 114.7 110.9)" stroke="#c89d8e" stroke-width="4.2" fill="none" stroke-linecap="round"/><path d="M81.9 92.6 a4.5 4.5 0 0 1 8 2" transform="rotate(18 81.9 92.6)" stroke="#c89d8e" stroke-width="4.2" fill="none" stroke-linecap="round"/><path d="M97.9 117.6 a4.5 4.5 0 0 1 8 2" transform="rotate(101 97.9 117.6)" stroke="#d6b0a2" stroke-width="4.2" fill="none" stroke-linecap="round"/><path d="M88.5 126.3 a4.5 4.5 0 0 1 8 2" transform="rotate(108 88.5 126.3)" stroke="#bf9384" stroke-width="4.2" fill="none" stroke-linecap="round"/><path d="M106.8 118.7 a4.5 4.5 0 0 1 8 2" transform="rotate(27 106.8 118.7)" stroke="#bf9384" stroke-width="4.2" fill="none" stroke-linecap="round"/><path d="M73.3 97.5 a4.5 4.5 0 0 1 8 2" transform="rotate(120 73.3 97.5)" stroke="#bf9384" stroke-width="4.2" fill="none" stroke-linecap="round"/><path d="M71.9 111.9 a4.5 4.5 0 0 1 8 2" transform="rotate(88 71.9 111.9)" stroke="#c89d8e" stroke-width="4.2" fill="none" stroke-linecap="round"/><path d="M86.2 108.9 a4.5 4.5 0 0 1 8 2" transform="rotate(86 86.2 108.9)" stroke="#d6b0a2" stroke-width="4.2" fill="none" stroke-linecap="round"/><path d="M93.9 93.0 a4.5 4.5 0 0 1 8 2" transform="rotate(7 93.9 93.0)" stroke="#bf9384" stroke-width="4.2" fill="none" stroke-linecap="round"/><path d="M70.4 120.8 a4.5 4.5 0 0 1 8 2" transform="rotate(76 70.4 120.8)" stroke="#d6b0a2" stroke-width="4.2" fill="none" stroke-linecap="round"/><path d="M87.0 107.9 a4.5 4.5 0 0 1 8 2" transform="rotate(100 87.0 107.9)" stroke="#d6b0a2" stroke-width="4.2" fill="none" stroke-linecap="round"/><path d="M103.3 116.5 a4.5 4.5 0 0 1 8 2" transform="rotate(227 103.3 116.5)" stroke="#c89d8e" stroke-width="4.2" fill="none" stroke-linecap="round"/><path d="M118.5 121.7 a4.5 4.5 0 0 1 8 2" transform="rotate(138 118.5 121.7)" stroke="#bf9384" stroke-width="4.2" fill="none" stroke-linecap="round"/><path d="M77.4 108.7 a4.5 4.5 0 0 1 8 2" transform="rotate(293 77.4 108.7)" stroke="#cfa697" stroke-width="4.2" fill="none" stroke-linecap="round"/><path d="M101.7 115.1 a4.5 4.5 0 0 1 8 2" transform="rotate(275 101.7 115.1)" stroke="#bf9384" stroke-width="4.2" fill="none" stroke-linecap="round"/><path d="M108.2 99.3 a4.5 4.5 0 0 1 8 2" transform="rotate(26 108.2 99.3)" stroke="#bf9384" stroke-width="4.2" fill="none" stroke-linecap="round"/><path d="M101.9 100.9 a4.5 4.5 0 0 1 8 2" transform="rotate(39 101.9 100.9)" stroke="#c89d8e" stroke-width="4.2" fill="none" stroke-linecap="round"/><path d="M114.7 137.9 a4.5 4.5 0 0 1 8 2" transform="rotate(39 114.7 137.9)" stroke="#bf9384" stroke-width="4.2" fill="none" stroke-linecap="round"/><path d="M113.9 117.1 a4.5 4.5 0 0 1 8 2" transform="rotate(0 113.9 117.1)" stroke="#c89d8e" stroke-width="4.2" fill="none" stroke-linecap="round"/><path d="M93.9 138.7 a4.5 4.5 0 0 1 8 2" transform="rotate(232 93.9 138.7)" stroke="#d6b0a2" stroke-width="4.2" fill="none" stroke-linecap="round"/><path d="M111.8 97.7 a4.5 4.5 0 0 1 8 2" transform="rotate(190 111.8 97.7)" stroke="#bf9384" stroke-width="4.2" fill="none" stroke-linecap="round"/><path d="M87.5 95.6 a4.5 4.5 0 0 1 8 2" transform="rotate(25 87.5 95.6)" stroke="#c89d8e" stroke-width="4.2" fill="none" stroke-linecap="round"/><path d="M81.3 110.4 a4.5 4.5 0 0 1 8 2" transform="rotate(216 81.3 110.4)" stroke="#cfa697" stroke-width="4.2" fill="none" stroke-linecap="round"/><path d="M87.5 116.7 a4.5 4.5 0 0 1 8 2" transform="rotate(302 87.5 116.7)" stroke="#c89d8e" stroke-width="4.2" fill="none" stroke-linecap="round"/><path d="M78.4 104.8 a4.5 4.5 0 0 1 8 2" transform="rotate(89 78.4 104.8)" stroke="#bf9384" stroke-width="4.2" fill="none" stroke-linecap="round"/><path d="M86.1 89.8 a4.5 4.5 0 0 1 8 2" transform="rotate(8 86.1 89.8)" stroke="#bf9384" stroke-width="4.2" fill="none" stroke-linecap="round"/><path d="M107.3 87.7 a4.5 4.5 0 0 1 8 2" transform="rotate(29 107.3 87.7)" stroke="#c89d8e" stroke-width="4.2" fill="none" stroke-linecap="round"/><path d="M71.9 71.4 a4.5 4.5 0 0 1 8 2" transform="rotate(82 71.9 71.4)" stroke="#cfa697" stroke-width="4.2" fill="none" stroke-linecap="round"/><path d="M81.5 79.0 a4.5 4.5 0 0 1 8 2" transform="rotate(130 81.5 79.0)" stroke="#bf9384" stroke-width="4.2" fill="none" stroke-linecap="round"/><path d="M99.2 130.1 a4.5 4.5 0 0 1 8 2" transform="rotate(266 99.2 130.1)" stroke="#cfa697" stroke-width="4.2" fill="none" stroke-linecap="round"/><path d="M101.8 143.7 a4.5 4.5 0 0 1 8 2" transform="rotate(112 101.8 143.7)" stroke="#c89d8e" stroke-width="4.2" fill="none" stroke-linecap="round"/><path d="M91.4 114.2 a4.5 4.5 0 0 1 8 2" transform="rotate(274 91.4 114.2)" stroke="#d6b0a2" stroke-width="4.2" fill="none" stroke-linecap="round"/><path d="M107.3 117.1 a4.5 4.5 0 0 1 8 2" transform="rotate(220 107.3 117.1)" stroke="#c89d8e" stroke-width="4.2" fill="none" stroke-linecap="round"/><path d="M110.2 110.5 a4.5 4.5 0 0 1 8 2" transform="rotate(332 110.2 110.5)" stroke="#cfa697" stroke-width="4.2" fill="none" stroke-linecap="round"/><path d="M93.3 107.1 a4.5 4.5 0 0 1 8 2" transform="rotate(22 93.3 107.1)" stroke="#bf9384" stroke-width="4.2" fill="none" stroke-linecap="round"/><path d="M66.0 110.9 a4.5 4.5 0 0 1 8 2" transform="rotate(113 66.0 110.9)" stroke="#cfa697" stroke-width="4.2" fill="none" stroke-linecap="round"/><path d="M127.1 102.4 a4.5 4.5 0 0 1 8 2" transform="rotate(119 127.1 102.4)" stroke="#c89d8e" stroke-width="4.2" fill="none" stroke-linecap="round"/><path d="M78.8 87.0 a4.5 4.5 0 0 1 8 2" transform="rotate(168 78.8 87.0)" stroke="#d6b0a2" stroke-width="4.2" fill="none" stroke-linecap="round"/><path d="M82.0 89.6 a4.5 4.5 0 0 1 8 2" transform="rotate(135 82.0 89.6)" stroke="#d6b0a2" stroke-width="4.2" fill="none" stroke-linecap="round"/><path d="M82.8 105.7 a4.5 4.5 0 0 1 8 2" transform="rotate(28 82.8 105.7)" stroke="#cfa697" stroke-width="4.2" fill="none" stroke-linecap="round"/><path d="M66.2 135.1 a4.5 4.5 0 0 1 8 2" transform="rotate(45 66.2 135.1)" stroke="#c89d8e" stroke-width="4.2" fill="none" stroke-linecap="round"/><path d="M70.0 121.7 a4.5 4.5 0 0 1 8 2" transform="rotate(111 70.0 121.7)" stroke="#bf9384" stroke-width="4.2" fill="none" stroke-linecap="round"/><path d="M111.3 116.1 a4.5 4.5 0 0 1 8 2" transform="rotate(70 111.3 116.1)" stroke="#bf9384" stroke-width="4.2" fill="none" stroke-linecap="round"/><path d="M95.3 117.3 a4.5 4.5 0 0 1 8 2" transform="rotate(323 95.3 117.3)" stroke="#cfa697" stroke-width="4.2" fill="none" stroke-linecap="round"/><path d="M81.8 94.1 a4.5 4.5 0 0 1 8 2" transform="rotate(225 81.8 94.1)" stroke="#bf9384" stroke-width="4.2" fill="none" stroke-linecap="round"/><path d="M94.1 104.1 a4.5 4.5 0 0 1 8 2" transform="rotate(23 94.1 104.1)" stroke="#cfa697" stroke-width="4.2" fill="none" stroke-linecap="round"/><path d="M88.8 129.5 a4.5 4.5 0 0 1 8 2" transform="rotate(323 88.8 129.5)" stroke="#d6b0a2" stroke-width="4.2" fill="none" stroke-linecap="round"/><path d="M80.6 114.0 a4.5 4.5 0 0 1 8 2" transform="rotate(343 80.6 114.0)" stroke="#cfa697" stroke-width="4.2" fill="none" stroke-linecap="round"/><path d="M88.1 128.3 a4.5 4.5 0 0 1 8 2" transform="rotate(114 88.1 128.3)" stroke="#d6b0a2" stroke-width="4.2" fill="none" stroke-linecap="round"/><path d="M82.5 127.5 a4.5 4.5 0 0 1 8 2" transform="rotate(214 82.5 127.5)" stroke="#cfa697" stroke-width="4.2" fill="none" stroke-linecap="round"/><path d="M101.5 104.8 a4.5 4.5 0 0 1 8 2" transform="rotate(171 101.5 104.8)" stroke="#bf9384" stroke-width="4.2" fill="none" stroke-linecap="round"/><path d="M105.2 98.5 a4.5 4.5 0 0 1 8 2" transform="rotate(90 105.2 98.5)" stroke="#bf9384" stroke-width="4.2" fill="none" stroke-linecap="round"/><path d="M93.4 95.2 a4.5 4.5 0 0 1 8 2" transform="rotate(179 93.4 95.2)" stroke="#cfa697" stroke-width="4.2" fill="none" stroke-linecap="round"/><path d="M98.5 78.2 a4.5 4.5 0 0 1 8 2" transform="rotate(296 98.5 78.2)" stroke="#c89d8e" stroke-width="4.2" fill="none" stroke-linecap="round"/><path d="M78.9 94.1 a4.5 4.5 0 0 1 8 2" transform="rotate(115 78.9 94.1)" stroke="#d6b0a2" stroke-width="4.2" fill="none" stroke-linecap="round"/><path d="M94.5 82.0 a4.5 4.5 0 0 1 8 2" transform="rotate(184 94.5 82.0)" stroke="#bf9384" stroke-width="4.2" fill="none" stroke-linecap="round"/><path d="M90.2 90.9 a4.5 4.5 0 0 1 8 2" transform="rotate(23 90.2 90.9)" stroke="#cfa697" stroke-width="4.2" fill="none" stroke-linecap="round"/><path d="M70.1 105.3 a4.5 4.5 0 0 1 8 2" transform="rotate(58 70.1 105.3)" stroke="#bf9384" stroke-width="4.2" fill="none" stroke-linecap="round"/><path d="M125.3 71.2 a4.5 4.5 0 0 1 8 2" transform="rotate(95 125.3 71.2)" stroke="#cfa697" stroke-width="4.2" fill="none" stroke-linecap="round"/><path d="M94.3 119.2 a4.5 4.5 0 0 1 8 2" transform="rotate(356 94.3 119.2)" stroke="#bf9384" stroke-width="4.2" fill="none" stroke-linecap="round"/><path d="M94.0 110.6 a4.5 4.5 0 0 1 8 2" transform="rotate(166 94.0 110.6)" stroke="#c89d8e" stroke-width="4.2" fill="none" stroke-linecap="round"/><path d="M89.6 72.0 a4.5 4.5 0 0 1 8 2" transform="rotate(239 89.6 72.0)" stroke="#cfa697" stroke-width="4.2" fill="none" stroke-linecap="round"/><path d="M92.5 89.9 a4.5 4.5 0 0 1 8 2" transform="rotate(101 92.5 89.9)" stroke="#d6b0a2" stroke-width="4.2" fill="none" stroke-linecap="round"/><path d="M71.7 121.8 a4.5 4.5 0 0 1 8 2" transform="rotate(72 71.7 121.8)" stroke="#c89d8e" stroke-width="4.2" fill="none" stroke-linecap="round"/><path d="M94.6 113.8 a4.5 4.5 0 0 1 8 2" transform="rotate(101 94.6 113.8)" stroke="#c89d8e" stroke-width="4.2" fill="none" stroke-linecap="round"/><path d="M82.6 117.3 a4.5 4.5 0 0 1 8 2" transform="rotate(357 82.6 117.3)" stroke="#c89d8e" stroke-width="4.2" fill="none" stroke-linecap="round"/><path d="M85.7 97.1 a4.5 4.5 0 0 1 8 2" transform="rotate(167 85.7 97.1)" stroke="#cfa697" stroke-width="4.2" fill="none" stroke-linecap="round"/><path d="M104.5 113.9 a4.5 4.5 0 0 1 8 2" transform="rotate(295 104.5 113.9)" stroke="#bf9384" stroke-width="4.2" fill="none" stroke-linecap="round"/><path d="M93.9 100.6 a4.5 4.5 0 0 1 8 2" transform="rotate(106 93.9 100.6)" stroke="#cfa697" stroke-width="4.2" fill="none" stroke-linecap="round"/><path d="M110.6 109.7 a4.5 4.5 0 0 1 8 2" transform="rotate(298 110.6 109.7)" stroke="#c89d8e" stroke-width="4.2" fill="none" stroke-linecap="round"/><path d="M104.0 96.4 a4.5 4.5 0 0 1 8 2" transform="rotate(312 104.0 96.4)" stroke="#bf9384" stroke-width="4.2" fill="none" stroke-linecap="round"/><path d="M68.0 86.3 a4.5 4.5 0 0 1 8 2" transform="rotate(239 68.0 86.3)" stroke="#cfa697" stroke-width="4.2" fill="none" stroke-linecap="round"/><path d="M107.0 116.3 a4.5 4.5 0 0 1 8 2" transform="rotate(223 107.0 116.3)" stroke="#c89d8e" stroke-width="4.2" fill="none" stroke-linecap="round"/><path d="M104.2 106.4 a4.5 4.5 0 0 1 8 2" transform="rotate(16 104.2 106.4)" stroke="#d6b0a2" stroke-width="4.2" fill="none" stroke-linecap="round"/><path d="M115.2 109.2 a4.5 4.5 0 0 1 8 2" transform="rotate(329 115.2 109.2)" stroke="#cfa697" stroke-width="4.2" fill="none" stroke-linecap="round"/><path d="M96.9 88.1 a4.5 4.5 0 0 1 8 2" transform="rotate(134 96.9 88.1)" stroke="#d6b0a2" stroke-width="4.2" fill="none" stroke-linecap="round"/><path d="M93.6 104.9 a4.5 4.5 0 0 1 8 2" transform="rotate(178 93.6 104.9)" stroke="#bf9384" stroke-width="4.2" fill="none" stroke-linecap="round"/><path d="M96.8 105.9 a4.5 4.5 0 0 1 8 2" transform="rotate(142 96.8 105.9)" stroke="#c89d8e" stroke-width="4.2" fill="none" stroke-linecap="round"/><path d="M85.5 97.6 a4.5 4.5 0 0 1 8 2" transform="rotate(59 85.5 97.6)" stroke="#d6b0a2" stroke-width="4.2" fill="none" stroke-linecap="round"/><path d="M79.0 110.0 a4.5 4.5 0 0 1 8 2" transform="rotate(111 79.0 110.0)" stroke="#cfa697" stroke-width="4.2" fill="none" stroke-linecap="round"/><path d="M82.1 122.1 a4.5 4.5 0 0 1 8 2" transform="rotate(129 82.1 122.1)" stroke="#bf9384" stroke-width="4.2" fill="none" stroke-linecap="round"/><path d="M117.1 106.1 a4.5 4.5 0 0 1 8 2" transform="rotate(289 117.1 106.1)" stroke="#c89d8e" stroke-width="4.2" fill="none" stroke-linecap="round"/><path d="M77.4 113.3 a4.5 4.5 0 0 1 8 2" transform="rotate(339 77.4 113.3)" stroke="#bf9384" stroke-width="4.2" fill="none" stroke-linecap="round"/><path d="M103.7 93.3 a4.5 4.5 0 0 1 8 2" transform="rotate(295 103.7 93.3)" stroke="#bf9384" stroke-width="4.2" fill="none" stroke-linecap="round"/><path d="M76.5 95.8 a4.5 4.5 0 0 1 8 2" transform="rotate(278 76.5 95.8)" stroke="#c89d8e" stroke-width="4.2" fill="none" stroke-linecap="round"/><path d="M110.2 104.9 a4.5 4.5 0 0 1 8 2" transform="rotate(231 110.2 104.9)" stroke="#bf9384" stroke-width="4.2" fill="none" stroke-linecap="round"/><path d="M108.9 114.8 a4.5 4.5 0 0 1 8 2" transform="rotate(134 108.9 114.8)" stroke="#c89d8e" stroke-width="4.2" fill="none" stroke-linecap="round"/><path d="M97.9 113.4 a4.5 4.5 0 0 1 8 2" transform="rotate(188 97.9 113.4)" stroke="#cfa697" stroke-width="4.2" fill="none" stroke-linecap="round"/><path d="M104.4 114.7 a4.5 4.5 0 0 1 8 2" transform="rotate(290 104.4 114.7)" stroke="#c89d8e" stroke-width="4.2" fill="none" stroke-linecap="round"/><path d="M80.3 131.9 a4.5 4.5 0 0 1 8 2" transform="rotate(16 80.3 131.9)" stroke="#bf9384" stroke-width="4.2" fill="none" stroke-linecap="round"/><path d="M81.4 123.1 a4.5 4.5 0 0 1 8 2" transform="rotate(229 81.4 123.1)" stroke="#cfa697" stroke-width="4.2" fill="none" stroke-linecap="round"/><path d="M108.4 90.4 a4.5 4.5 0 0 1 8 2" transform="rotate(297 108.4 90.4)" stroke="#c89d8e" stroke-width="4.2" fill="none" stroke-linecap="round"/><path d="M69.9 78.7 a4.5 4.5 0 0 1 8 2" transform="rotate(224 69.9 78.7)" stroke="#c89d8e" stroke-width="4.2" fill="none" stroke-linecap="round"/><path d="M94.9 94.1 a4.5 4.5 0 0 1 8 2" transform="rotate(79 94.9 94.1)" stroke="#bf9384" stroke-width="4.2" fill="none" stroke-linecap="round"/><path d="M98.6 99.5 a4.5 4.5 0 0 1 8 2" transform="rotate(129 98.6 99.5)" stroke="#c89d8e" stroke-width="4.2" fill="none" stroke-linecap="round"/><path d="M90.5 128.7 a4.5 4.5 0 0 1 8 2" transform="rotate(323 90.5 128.7)" stroke="#cfa697" stroke-width="4.2" fill="none" stroke-linecap="round"/><path d="M112.9 82.5 a4.5 4.5 0 0 1 8 2" transform="rotate(242 112.9 82.5)" stroke="#d6b0a2" stroke-width="4.2" fill="none" stroke-linecap="round"/><path d="M106.0 117.6 a4.5 4.5 0 0 1 8 2" transform="rotate(198 106.0 117.6)" stroke="#d6b0a2" stroke-width="4.2" fill="none" stroke-linecap="round"/><path d="M81.9 91.9 a4.5 4.5 0 0 1 8 2" transform="rotate(90 81.9 91.9)" stroke="#bf9384" stroke-width="4.2" fill="none" stroke-linecap="round"/><path d="M80.6 88.4 a4.5 4.5 0 0 1 8 2" transform="rotate(158 80.6 88.4)" stroke="#cfa697" stroke-width="4.2" fill="none" stroke-linecap="round"/><path d="M136.8 104.0 a4.5 4.5 0 0 1 8 2" transform="rotate(167 136.8 104.0)" stroke="#bf9384" stroke-width="4.2" fill="none" stroke-linecap="round"/><path d="M92.4 75.3 a4.5 4.5 0 0 1 8 2" transform="rotate(165 92.4 75.3)" stroke="#c89d8e" stroke-width="4.2" fill="none" stroke-linecap="round"/><path d="M96.0 88.0 a4.5 4.5 0 0 1 8 2" transform="rotate(24 96.0 88.0)" stroke="#d6b0a2" stroke-width="4.2" fill="none" stroke-linecap="round"/><path d="M83.6 106.0 a4.5 4.5 0 0 1 8 2" transform="rotate(159 83.6 106.0)" stroke="#cfa697" stroke-width="4.2" fill="none" stroke-linecap="round"/><path d="M98.2 105.1 a4.5 4.5 0 0 1 8 2" transform="rotate(332 98.2 105.1)" stroke="#d6b0a2" stroke-width="4.2" fill="none" stroke-linecap="round"/><path d="M93.3 84.1 a4.5 4.5 0 0 1 8 2" transform="rotate(20 93.3 84.1)" stroke="#bf9384" stroke-width="4.2" fill="none" stroke-linecap="round"/><path d="M73.9 80.0 a4.5 4.5 0 0 1 8 2" transform="rotate(9 73.9 80.0)" stroke="#cfa697" stroke-width="4.2" fill="none" stroke-linecap="round"/><path d="M116.0 102.4 a4.5 4.5 0 0 1 8 2" transform="rotate(293 116.0 102.4)" stroke="#c89d8e" stroke-width="4.2" fill="none" stroke-linecap="round"/><path d="M112.6 127.5 a4.5 4.5 0 0 1 8 2" transform="rotate(104 112.6 127.5)" stroke="#c89d8e" stroke-width="4.2" fill="none" stroke-linecap="round"/><path d="M80.0 79.5 a4.5 4.5 0 0 1 8 2" transform="rotate(80 80.0 79.5)" stroke="#d6b0a2" stroke-width="4.2" fill="none" stroke-linecap="round"/><path d="M80.6 95.2 a4.5 4.5 0 0 1 8 2" transform="rotate(117 80.6 95.2)" stroke="#d6b0a2" stroke-width="4.2" fill="none" stroke-linecap="round"/><path d="M104.6 93.1 a4.5 4.5 0 0 1 8 2" transform="rotate(91 104.6 93.1)" stroke="#bf9384" stroke-width="4.2" fill="none" stroke-linecap="round"/><path d="M93.2 115.1 a4.5 4.5 0 0 1 8 2" transform="rotate(182 93.2 115.1)" stroke="#d6b0a2" stroke-width="4.2" fill="none" stroke-linecap="round"/><path d="M82.6 110.7 a4.5 4.5 0 0 1 8 2" transform="rotate(145 82.6 110.7)" stroke="#d6b0a2" stroke-width="4.2" fill="none" stroke-linecap="round"/><path d="M75.5 72.3 a4.5 4.5 0 0 1 8 2" transform="rotate(61 75.5 72.3)" stroke="#d6b0a2" stroke-width="4.2" fill="none" stroke-linecap="round"/></svg></div><svg style="position:absolute;left:1725px;top:1130px" width="200" height="180" viewBox="1725 1130 200 180"><defs><filter id="fglow" x="-20%" y="-20%" width="140%" height="140%"><feDropShadow dx="0" dy="1" stdDeviation="1.6" flood-color="#777" flood-opacity="0.55"/></filter><filter id="fglow2" x="-20%" y="-20%" width="140%" height="140%"><feDropShadow dx="0" dy="0.6" stdDeviation="1" flood-color="#555" flood-opacity="0.9"/></filter></defs><circle cx="1823.2" cy="1229.3" r="58" fill="#fff" opacity="0.85" filter="url(#fglow)"/><circle cx="1823.2" cy="1229.3" r="54" fill="#f7eedb" stroke="#8ec63f" stroke-width="3.2"/><g stroke="#6e4a2c" stroke-width="1.1" fill="none" stroke-linecap="round"><path d="M1771 1230 Q1790 1226 1808 1229 M1770 1240 Q1790 1236 1806 1238 M1842 1228 Q1860 1226 1876 1230 M1846 1240 Q1862 1238 1874 1242"/><path d="M1773 1222 Q1795 1214 1810 1218 M1838 1218 Q1858 1214 1874 1220"/><path d="M1800 1214 L1822 1212 L1826 1253 L1803 1255 Z M1822 1214 L1845 1212 L1841 1250 L1826 1253"/><rect x="1808" y="1228" width="11" height="14" fill="#8a6a4c" stroke="none"/><path d="M1812 1212 L1806 1186 M1816 1212 L1817 1184 M1820 1212 L1828 1188"/><ellipse cx="1806" cy="1188" rx="2.2" ry="1.2"/><ellipse cx="1807" cy="1194" rx="2.2" ry="1.2"/><ellipse cx="1817" cy="1186" rx="2.2" ry="1.2"/><ellipse cx="1817" cy="1192" rx="2.2" ry="1.2"/><ellipse cx="1827" cy="1190" rx="2.2" ry="1.2"/><ellipse cx="1825" cy="1196" rx="2.2" ry="1.2"/><path d="M1783 1218 L1783 1208 M1791 1218 L1791 1206"/></g><ellipse cx="1783" cy="1206" rx="3.2" ry="6" fill="#6e4a2c"/><ellipse cx="1791" cy="1204" rx="3" ry="7" fill="#6e4a2c"/><ellipse cx="1857" cy="1215" rx="2" ry="8" fill="#6e4a2c"/><ellipse cx="1862" cy="1215" rx="2" ry="8" fill="#6e4a2c"/><ellipse cx="1867" cy="1215" rx="2" ry="8" fill="#6e4a2c"/><circle cx="1847" cy="1197" r="5" fill="#6e4a2c"/><g stroke="#6e4a2c" stroke-width="1.2"><line x1="1854.5" y1="1197.0" x2="1859.0" y2="1197.0"/><line x1="1852.7" y1="1201.8" x2="1856.2" y2="1204.7"/><line x1="1848.3" y1="1204.4" x2="1849.1" y2="1208.8"/><line x1="1843.2" y1="1203.5" x2="1841.0" y2="1207.4"/><line x1="1840.0" y1="1199.6" x2="1835.7" y2="1201.1"/><line x1="1840.0" y1="1194.4" x2="1835.7" y2="1192.9"/><line x1="1843.2" y1="1190.5" x2="1841.0" y2="1186.6"/><line x1="1848.3" y1="1189.6" x2="1849.1" y2="1185.2"/><line x1="1852.7" y1="1192.2" x2="1856.2" y2="1189.3"/></g><g stroke="#6e4a2c" stroke-width="1.2" fill="none"><path d="M1785 1247 Q1796 1264 1808 1247 Z M1837 1249 Q1848 1264 1860 1249 Z"/><path d="M1784 1264 l5 3 l-5 3 Z M1793 1264 l-4 3 l4 3 Z M1806 1268 l5 3 l-5 3 Z M1815 1268 l-4 3 l4 3 Z M1831 1264 l5 3 l-5 3 Z M1840 1264 l-4 3 l4 3 Z"/><path d="M1820 1272 l8 6 M1845 1268 l9 -5"/></g><path id="fpath" d="M 1760.6 1242.6 A 64 64 0 1 1 1885.0 1245.9" fill="none"/><text font-family="Liberation Serif" font-style="italic" font-size="20.5" fill="#fff" filter="url(#fglow2)" letter-spacing="0"><textPath href="#fpath">La Ferme Bio de Ferrières</textPath></text></svg>
<svg style="position:absolute;left:0;top:760px" width="2000" height="180" viewBox="0 760 2000 180"><path d="M344 781 L370 800" stroke="#4d3b3b" stroke-width="9.5" stroke-linecap="round"/><path d="M368 797 L412 833 L408 836 L366 802 Z" fill="#a9abb3"/><path d="M384 800 L410 782 L443 790 L418 808 Z" fill="#fde48a"/><path d="M418 808 L443 790 L443 826 L419 845 Z" fill="#f0bd2c"/><path d="M384 800 L418 808 L419 845 L386 838 Z" fill="#f9d24c"/><path d="M364 817 L380 808 L408 820 L392 830 Z" fill="#fde48a"/><path d="M364 817 L392 830 L416 846 L388 842 L366 834 Z" fill="#f8cd42"/><path d="M392 830 L408 820 L418 844 L412 848 Z" fill="#f3c335"/><path d="M392 818 L411 836" stroke="#a9abb3" stroke-width="2.5"/><g transform="rotate(-32 497 893)"><ellipse cx="497" cy="893" rx="52" ry="16.5" fill="#c9793a"/><ellipse cx="497" cy="889" rx="48" ry="11" fill="#d48a48"/><path d="M470 888 q5 -4 10 0 M490 885 q5 -4 10 0 M510 887 q5 -4 10 0 M525 890 q4 -3 8 0" stroke="#a8602a" stroke-width="1.3" fill="none"/></g><path d="M571 793 Q602 800 633 789 L631 842 Q602 856 575 846 Z" fill="#bcd5e1"/><path d="M574 842 Q602 852 631 840 L631 850 Q602 860 576 852 Z" fill="#eaf3f6"/><path d="M567 778 Q600 770 640 772 L637 784 Q602 796 561 796 Z" fill="#eaf0f2"/><g stroke="#c2ced3" stroke-width="1.4"><path d="M580 776 L572 795 M594 774 L587 794 M608 773 L601 792 M622 772 L615 790 M636 773 L629 787 M564 787 L638 779"/></g><text x="576" y="818" font-family="Liberation Sans" font-weight="700" font-style="italic" font-size="12" fill="#eef4f6" transform="rotate(-22 576 818)">yogurt</text><path d="M580 836 L595 826" stroke="#eef4f6" stroke-width="3" stroke-linecap="round"/><circle cx="597" cy="824" r="3.5" fill="#eef4f6"/><circle cx="601" cy="836" r="4" fill="#e4eef2"/><rect x="618" y="822" width="11" height="14" rx="3" fill="#eef4f6"/><path d="M676 856 Q690 849 706 853 Q722 852 727 866 Q730 880 725 896 Q722 912 710 916 L706 926 L701 918 Q688 921 678 912 Q667 902 668 886 Q666 868 676 856 Z" fill="#e98f22"/><polygon points="689.3,863.4 686.5,865.0 683.7,863.4 683.7,860.2 686.5,858.6 689.3,860.2" fill="#f3ab3c"/><polygon points="695.9,863.4 693.1,865.0 690.3,863.4 690.3,860.2 693.1,858.6 695.9,860.2" fill="#f3ab3c"/><polygon points="702.5,863.4 699.7,865.0 696.9,863.4 696.9,860.2 699.7,858.6 702.5,860.2" fill="#f3ab3c"/><polygon points="709.1,863.4 706.3,865.0 703.5,863.4 703.5,860.2 706.3,858.6 709.1,860.2" fill="#f3ab3c"/><polygon points="715.7,863.4 712.9,865.0 710.1,863.4 710.1,860.2 712.9,858.6 715.7,860.2" fill="#f3ab3c"/><polygon points="679.4,869.2 676.6,870.8 673.8,869.2 673.8,866.0 676.6,864.4 679.4,866.0" fill="#f3ab3c"/><polygon points="686.0,869.2 683.2,870.8 680.4,869.2 680.4,866.0 683.2,864.4 686.0,866.0" fill="#f3ab3c"/><polygon points="692.6,869.2 689.8,870.8 687.0,869.2 687.0,866.0 689.8,864.4 692.6,866.0" fill="#f3ab3c"/><polygon points="699.2,869.2 696.4,870.8 693.6,869.2 693.6,866.0 696.4,864.4 699.2,866.0" fill="#f3ab3c"/><polygon points="705.8,869.2 703.0,870.8 700.2,869.2 700.2,866.0 703.0,864.4 705.8,866.0" fill="#f3ab3c"/><polygon points="712.4,869.2 709.6,870.8 706.8,869.2 706.8,866.0 709.6,864.4 712.4,866.0" fill="#f3ab3c"/><polygon points="719.0,869.2 716.2,870.8 713.4,869.2 713.4,866.0 716.2,864.4 719.0,866.0" fill="#f3ab3c"/><polygon points="676.1,875.0 673.3,876.6 670.5,875.0 670.5,871.8 673.3,870.2 676.1,871.8" fill="#f3ab3c"/><polygon points="682.7,875.0 679.9,876.6 677.1,875.0 677.1,871.8 679.9,870.2 682.7,871.8" fill="#f3ab3c"/><polygon points="689.3,875.0 686.5,876.6 683.7,875.0 683.7,871.8 686.5,870.2 689.3,871.8" fill="#f3ab3c"/><polygon points="695.9,875.0 693.1,876.6 690.3,875.0 690.3,871.8 693.1,870.2 695.9,871.8" fill="#f3ab3c"/><polygon points="702.5,875.0 699.7,876.6 696.9,875.0 696.9,871.8 699.7,870.2 702.5,871.8" fill="#f3ab3c"/><polygon points="709.1,875.0 706.3,876.6 703.5,875.0 703.5,871.8 706.3,870.2 709.1,871.8" fill="#f3ab3c"/><polygon points="715.7,875.0 712.9,876.6 710.1,875.0 710.1,871.8 712.9,870.2 715.7,871.8" fill="#f3ab3c"/><polygon points="722.3,875.0 719.5,876.6 716.7,875.0 716.7,871.8 719.5,870.2 722.3,871.8" fill="#f3ab3c"/><polygon points="679.4,880.8 676.6,882.4 673.8,880.8 673.8,877.6 676.6,876.0 679.4,877.6" fill="#f3ab3c"/><polygon points="686.0,880.8 683.2,882.4 680.4,880.8 680.4,877.6 683.2,876.0 686.0,877.6" fill="#f3ab3c"/><polygon points="692.6,880.8 689.8,882.4 687.0,880.8 687.0,877.6 689.8,876.0 692.6,877.6" fill="#f3ab3c"/><polygon points="699.2,880.8 696.4,882.4 693.6,880.8 693.6,877.6 696.4,876.0 699.2,877.6" fill="#f3ab3c"/><polygon points="705.8,880.8 703.0,882.4 700.2,880.8 700.2,877.6 703.0,876.0 705.8,877.6" fill="#f3ab3c"/><polygon points="712.4,880.8 709.6,882.4 706.8,880.8 706.8,877.6 709.6,876.0 712.4,877.6" fill="#f3ab3c"/><polygon points="719.0,880.8 716.2,882.4 713.4,880.8 713.4,877.6 716.2,876.0 719.0,877.6" fill="#f3ab3c"/><polygon points="725.6,880.8 722.8,882.4 720.0,880.8 720.0,877.6 722.8,876.0 725.6,877.6" fill="#f3ab3c"/><polygon points="676.1,886.6 673.3,888.2 670.5,886.6 670.5,883.4 673.3,881.8 676.1,883.4" fill="#f3ab3c"/><polygon points="682.7,886.6 679.9,888.2 677.1,886.6 677.1,883.4 679.9,881.8 682.7,883.4" fill="#f3ab3c"/><polygon points="689.3,886.6 686.5,888.2 683.7,886.6 683.7,883.4 686.5,881.8 689.3,883.4" fill="#f3ab3c"/><polygon points="695.9,886.6 693.1,888.2 690.3,886.6 690.3,883.4 693.1,881.8 695.9,883.4" fill="#f3ab3c"/><polygon points="702.5,886.6 699.7,888.2 696.9,886.6 696.9,883.4 699.7,881.8 702.5,883.4" fill="#f3ab3c"/><polygon points="709.1,886.6 706.3,888.2 703.5,886.6 703.5,883.4 706.3,881.8 709.1,883.4" fill="#f3ab3c"/><polygon points="715.7,886.6 712.9,888.2 710.1,886.6 710.1,883.4 712.9,881.8 715.7,883.4" fill="#f3ab3c"/><polygon points="722.3,886.6 719.5,888.2 716.7,886.6 716.7,883.4 719.5,881.8 722.3,883.4" fill="#f3ab3c"/><polygon points="679.4,892.4 676.6,894.0 673.8,892.4 673.8,889.2 676.6,887.6 679.4,889.2" fill="#f3ab3c"/><polygon points="686.0,892.4 683.2,894.0 680.4,892.4 680.4,889.2 683.2,887.6 686.0,889.2" fill="#f3ab3c"/><polygon points="692.6,892.4 689.8,894.0 687.0,892.4 687.0,889.2 689.8,887.6 692.6,889.2" fill="#f3ab3c"/><polygon points="699.2,892.4 696.4,894.0 693.6,892.4 693.6,889.2 696.4,887.6 699.2,889.2" fill="#f3ab3c"/><polygon points="705.8,892.4 703.0,894.0 700.2,892.4 700.2,889.2 703.0,887.6 705.8,889.2" fill="#f3ab3c"/><polygon points="712.4,892.4 709.6,894.0 706.8,892.4 706.8,889.2 709.6,887.6 712.4,889.2" fill="#f3ab3c"/><polygon points="719.0,892.4 716.2,894.0 713.4,892.4 713.4,889.2 716.2,887.6 719.0,889.2" fill="#f3ab3c"/><polygon points="725.6,892.4 722.8,894.0 720.0,892.4 720.0,889.2 722.8,887.6 725.6,889.2" fill="#f3ab3c"/><polygon points="676.1,898.2 673.3,899.8 670.5,898.2 670.5,895.0 673.3,893.4 676.1,895.0" fill="#f3ab3c"/><polygon points="682.7,898.2 679.9,899.8 677.1,898.2 677.1,895.0 679.9,893.4 682.7,895.0" fill="#f3ab3c"/><polygon points="689.3,898.2 686.5,899.8 683.7,898.2 683.7,895.0 686.5,893.4 689.3,895.0" fill="#f3ab3c"/><polygon points="695.9,898.2 693.1,899.8 690.3,898.2 690.3,895.0 693.1,893.4 695.9,895.0" fill="#f3ab3c"/><polygon points="702.5,898.2 699.7,899.8 696.9,898.2 696.9,895.0 699.7,893.4 702.5,895.0" fill="#f3ab3c"/><polygon points="709.1,898.2 706.3,899.8 703.5,898.2 703.5,895.0 706.3,893.4 709.1,895.0" fill="#f3ab3c"/><polygon points="715.7,898.2 712.9,899.8 710.1,898.2 710.1,895.0 712.9,893.4 715.7,895.0" fill="#f3ab3c"/><polygon points="722.3,898.2 719.5,899.8 716.7,898.2 716.7,895.0 719.5,893.4 722.3,895.0" fill="#f3ab3c"/><polygon points="679.4,904.0 676.6,905.6 673.8,904.0 673.8,900.8 676.6,899.2 679.4,900.8" fill="#f3ab3c"/><polygon points="686.0,904.0 683.2,905.6 680.4,904.0 680.4,900.8 683.2,899.2 686.0,900.8" fill="#f3ab3c"/><polygon points="692.6,904.0 689.8,905.6 687.0,904.0 687.0,900.8 689.8,899.2 692.6,900.8" fill="#f3ab3c"/><polygon points="699.2,904.0 696.4,905.6 693.6,904.0 693.6,900.8 696.4,899.2 699.2,900.8" fill="#f3ab3c"/><polygon points="705.8,904.0 703.0,905.6 700.2,904.0 700.2,900.8 703.0,899.2 705.8,900.8" fill="#f3ab3c"/><polygon points="712.4,904.0 709.6,905.6 706.8,904.0 706.8,900.8 709.6,899.2 712.4,900.8" fill="#f3ab3c"/><polygon points="719.0,904.0 716.2,905.6 713.4,904.0 713.4,900.8 716.2,899.2 719.0,900.8" fill="#f3ab3c"/><polygon points="682.7,909.8 679.9,911.4 677.1,909.8 677.1,906.6 679.9,905.0 682.7,906.6" fill="#f3ab3c"/><polygon points="689.3,909.8 686.5,911.4 683.7,909.8 683.7,906.6 686.5,905.0 689.3,906.6" fill="#f3ab3c"/><polygon points="695.9,909.8 693.1,911.4 690.3,909.8 690.3,906.6 693.1,905.0 695.9,906.6" fill="#f3ab3c"/><polygon points="702.5,909.8 699.7,911.4 696.9,909.8 696.9,906.6 699.7,905.0 702.5,906.6" fill="#f3ab3c"/><polygon points="709.1,909.8 706.3,911.4 703.5,909.8 703.5,906.6 706.3,905.0 709.1,906.6" fill="#f3ab3c"/><polygon points="715.7,909.8 712.9,911.4 710.1,909.8 710.1,906.6 712.9,905.0 715.7,906.6" fill="#f3ab3c"/><path d="M695 912 Q700 922 704 928 Q708 926 709 914 Z" fill="#f6cf55"/><path d="M688 911 Q692 918 696 914 Z" fill="#f6cf55"/><path d="M772 812 Q772 850 806 858 L808 864 L845 864 L847 858 Q879 850 879 812 Z" fill="#e5d6dd"/><ellipse cx="825.5" cy="811" rx="53.5" ry="28" fill="#e2d3da"/><path d="M780 818 Q778 796 798 790 Q812 782 830 785 Q852 782 866 794 Q875 806 872 820 Q848 838 825 838 Q798 836 780 818 Z" fill="#f7f5ec"/><circle cx="796" cy="800" r="7" fill="#fbfaf4" stroke="#ecebe0" stroke-width="0.8"/><circle cx="812" cy="792" r="8" fill="#fbfaf4" stroke="#ecebe0" stroke-width="0.8"/><circle cx="832" cy="790" r="8" fill="#fbfaf4" stroke="#ecebe0" stroke-width="0.8"/><circle cx="852" cy="796" r="7" fill="#fbfaf4" stroke="#ecebe0" stroke-width="0.8"/><circle cx="864" cy="808" r="6" fill="#fbfaf4" stroke="#ecebe0" stroke-width="0.8"/><circle cx="790" cy="815" r="6" fill="#fbfaf4" stroke="#ecebe0" stroke-width="0.8"/><circle cx="806" cy="812" r="7" fill="#fbfaf4" stroke="#ecebe0" stroke-width="0.8"/><circle cx="826" cy="806" r="7" fill="#fbfaf4" stroke="#ecebe0" stroke-width="0.8"/><circle cx="846" cy="812" r="8" fill="#fbfaf4" stroke="#ecebe0" stroke-width="0.8"/><circle cx="820" cy="826" r="8" fill="#fbfaf4" stroke="#ecebe0" stroke-width="0.8"/><circle cx="840" cy="826" r="7" fill="#fbfaf4" stroke="#ecebe0" stroke-width="0.8"/><circle cx="800" cy="826" r="6" fill="#fbfaf4" stroke="#ecebe0" stroke-width="0.8"/><path d="M956 866 L1002 866 Q1007 880 1005 900 Q1004 914 998 919 L960 919 Q953 914 953 900 Q951 880 956 866 Z" fill="#d6232d"/><rect x="955" y="856" width="48" height="11" rx="3" fill="#f5cf2e"/><rect x="955" y="856" width="48" height="4" rx="2" fill="#f9e05a"/><rect x="964" y="880" width="31" height="24" rx="2" fill="#f6f3f3"/><ellipse cx="975" cy="892" rx="6" ry="5" fill="#d8232e"/><ellipse cx="984" cy="894" rx="6" ry="5" fill="#d8232e"/><path d="M971 887 l4 -2 l3 2 M981 889 l4 -2 l3 2" stroke="#4a9a3a" stroke-width="1.5" fill="none"/><path d="M1052 792 L1094 792 L1088 852 Q1073 856 1059 852 Z" fill="#f4f6f8" stroke="#cdd6de" stroke-width="1"/><ellipse cx="1073" cy="792" rx="21" ry="4.5" fill="#e4eaf0" stroke="#c9d2da" stroke-width="1"/><path d="M1054 799 L1092 799 L1087 849 Q1073 853 1060 849 Z" fill="#fcfcfc"/><circle cx="1176" cy="870" r="5" fill="#f5d030"/><path d="M1170 860 Q1172 880 1182 882 Q1178 870 1180 858 Z" fill="#f5d030"/><circle cx="1204" cy="872" r="12" fill="#8fc63e"/><path d="M1188 858 l-3 -12 M1188 858 l3 -12 M1188 858 l-7 -8 M1188 858 l7 -8" stroke="#3d8a30" stroke-width="2.5"/><ellipse cx="1189" cy="878" rx="11" ry="13" fill="#f0b52c"/><path d="M1182 870 l14 14 M1196 870 l-14 14 M1180 878 l9 9 M1198 878 l-9 9" stroke="#d88a18" stroke-width="1"/><circle cx="1163" cy="880" r="6" fill="#e49bbd"/><circle cx="1168" cy="878" r="3.2" fill="#8e4da6"/><circle cx="1174" cy="876" r="3.2" fill="#8e4da6"/><circle cx="1171" cy="883" r="3.2" fill="#8e4da6"/><circle cx="1177" cy="882" r="3.2" fill="#8e4da6"/><circle cx="1174" cy="888" r="3.2" fill="#8e4da6"/><circle cx="1165" cy="884" r="3.2" fill="#8e4da6"/><path d="M1213 870 Q1226 880 1222 900 Q1216 910 1206 906 Q1197 898 1205 885 Q1207 874 1213 870 Z" fill="#a2c83e"/><ellipse cx="1221" cy="893" rx="5" ry="11" fill="#f0a020"/><circle cx="1160" cy="896" r="11" fill="#e0283a"/><path d="M1176 888 l8 0 l-4 6 Z M1183 888 l8 0 l-4 6 Z" fill="#e0283a"/><rect x="1168" y="898" width="16" height="12" rx="3" fill="#8a5a34"/><circle cx="1194" cy="902" r="9" fill="#ef7a1e"/><path d="M1148 904 Q1186 912 1226 902 L1222 918 Q1186 930 1152 920 Z" fill="#d7a245"/><path d="M1148 904 Q1186 912 1226 902" stroke="#b88030" stroke-width="1.5" fill="none"/><path d="M1312 806 L1344 806 L1342 832 Q1328 838 1314 832 Z" fill="#d61c32"/><path d="M1305 778 L1354 778 L1352 806 L1306 806 Z" fill="#fbe3c8"/><path d="M1314 800 Q1310 786 1322 784 Q1328 772 1336 780 Q1348 782 1346 798 Z" fill="#f59ac9"/><path d="M1296 818 L1338 834" stroke="#fbe3c8" stroke-width="7" stroke-linecap="round"/><ellipse cx="1350" cy="840" rx="15" ry="9" transform="rotate(20 1350 840)" fill="#fbe3c8"/><ellipse cx="1352" cy="838" rx="12" ry="6.5" transform="rotate(20 1352 838)" fill="#f59ac9"/><ellipse cx="1472" cy="920" rx="23" ry="6" fill="#fbe6bd"/><rect x="1466" y="898" width="12" height="20" fill="#fbe6bd"/><path d="M1428 848 Q1430 898 1472 903 Q1514 898 1516 848 Z" fill="#fdf0cf"/><ellipse cx="1472" cy="848" rx="44" ry="13" fill="#f8e3b4"/><ellipse cx="1472" cy="850" rx="40" ry="12" fill="#f2b43a"/><circle cx="1448" cy="850" r="4.5" fill="#f7c452" stroke="#e09a25" stroke-width="0.8"/><circle cx="1460" cy="846" r="4.5" fill="#f7c452" stroke="#e09a25" stroke-width="0.8"/><circle cx="1476" cy="845" r="4.5" fill="#f7c452" stroke="#e09a25" stroke-width="0.8"/><circle cx="1492" cy="849" r="4.5" fill="#f7c452" stroke="#e09a25" stroke-width="0.8"/><circle cx="1470" cy="856" r="4.5" fill="#f7c452" stroke="#e09a25" stroke-width="0.8"/><circle cx="1456" cy="857" r="4.5" fill="#f7c452" stroke="#e09a25" stroke-width="0.8"/><circle cx="1488" cy="857" r="4.5" fill="#f7c452" stroke="#e09a25" stroke-width="0.8"/><path d="M1470 851 L1464 832 L1474 848 Z M1473 851 L1486 830 L1477 852 Z" fill="#5a9a32"/><rect x="1561" y="796" width="66" height="86" rx="9" fill="#3c0f1b" stroke="#151012" stroke-width="1.6"/><ellipse cx="1594" cy="797" rx="32" ry="7" fill="#4d1424" stroke="#151012" stroke-width="1.4"/><rect x="1613" y="806" width="7" height="70" rx="3" fill="#fff" opacity="0.9"/><path d="M1568 774 L1577 806" stroke="#b7c0d9" stroke-width="5" stroke-linecap="round"/><path d="M1708 866 Q1708 840 1760 839 Q1815 840 1815 866 L1815 905 Q1812 924 1762 925 Q1710 924 1708 905 Z" fill="#fbfbfb" stroke="#d6d2cc" stroke-width="1.2"/><path d="M1727 876 L1762 862 L1762 922 L1730 918 Z" fill="#fbeeb2"/><path d="M1762 862 L1788 880 L1786 921 L1762 922 Z" fill="#f8e79c"/><path d="M1857 783 L1917 783 L1917 867 L1857 867 Z" fill="#fff" stroke="#222" stroke-width="1.1"/><path d="M1917 783 L1933 776 L1933 859 L1917 867 Z" fill="#fff" stroke="#222" stroke-width="1.1"/><path d="M1857 783 L1873 776 L1933 776 L1917 783 Z" fill="#fff" stroke="#222" stroke-width="1.1"/><text x="1864" y="800" font-family="Liberation Sans" font-size="8" fill="#222" letter-spacing="0.5">CEREALS</text><path d="M1869 838 Q1870 858 1887 858 Q1903 856 1904 834 Z" fill="#fff" stroke="#222" stroke-width="1"/><circle cx="1881" cy="809" r="3.5" fill="#e8a526"/><circle cx="1872" cy="815" r="1.5" fill="#e8a526"/><circle cx="1893" cy="817" r="2" fill="#e8a526"/><circle cx="1878" cy="822" r="1.5" fill="#e8a526"/><circle cx="1885" cy="826" r="2" fill="#e8a526"/><circle cx="1876" cy="834" r="3" fill="#e8a526"/><circle cx="1884" cy="831" r="3.5" fill="#e8a526"/><circle cx="1892" cy="832" r="3.2" fill="#e8a526"/><circle cx="1899" cy="834" r="3" fill="#e8a526"/><circle cx="1880" cy="838" r="3" fill="#e8a526"/><circle cx="1890" cy="838" r="3.2" fill="#e8a526"/><rect x="1921" y="800" width="6" height="40" fill="none" stroke="#222" stroke-width="0.8"/></svg>
<div style="position:absolute;left:27.5px;top:1325.9px;height:26.2px;line-height:26.2px;white-space:nowrap;font-size:18.7px;font-weight:400;color:#1e1e1e;letter-spacing:0.04px;">Ces menus sont susceptibles d’être modifiés en cas d’approvisionnement ou de circonstances indépendantes de notre volonté. Ils sont été élaborés par les cuisiniers des restaurants scolaires et validés par une diététicienne. Dans le</div>
<div style="position:absolute;left:27.5px;top:1351.9px;height:26.2px;line-height:26.2px;white-space:nowrap;font-size:18.7px;font-weight:400;color:#1e1e1e;letter-spacing:-0.065px;">cadre du règlement CE n°11/692011 (ou règlement INCO : Information des Consommateurs), nous vous informons que les repas servis peuvent contenir des allergènes. Contact restauration scolaire : 05 46 93 41 50.</div>
</div></body></html>
